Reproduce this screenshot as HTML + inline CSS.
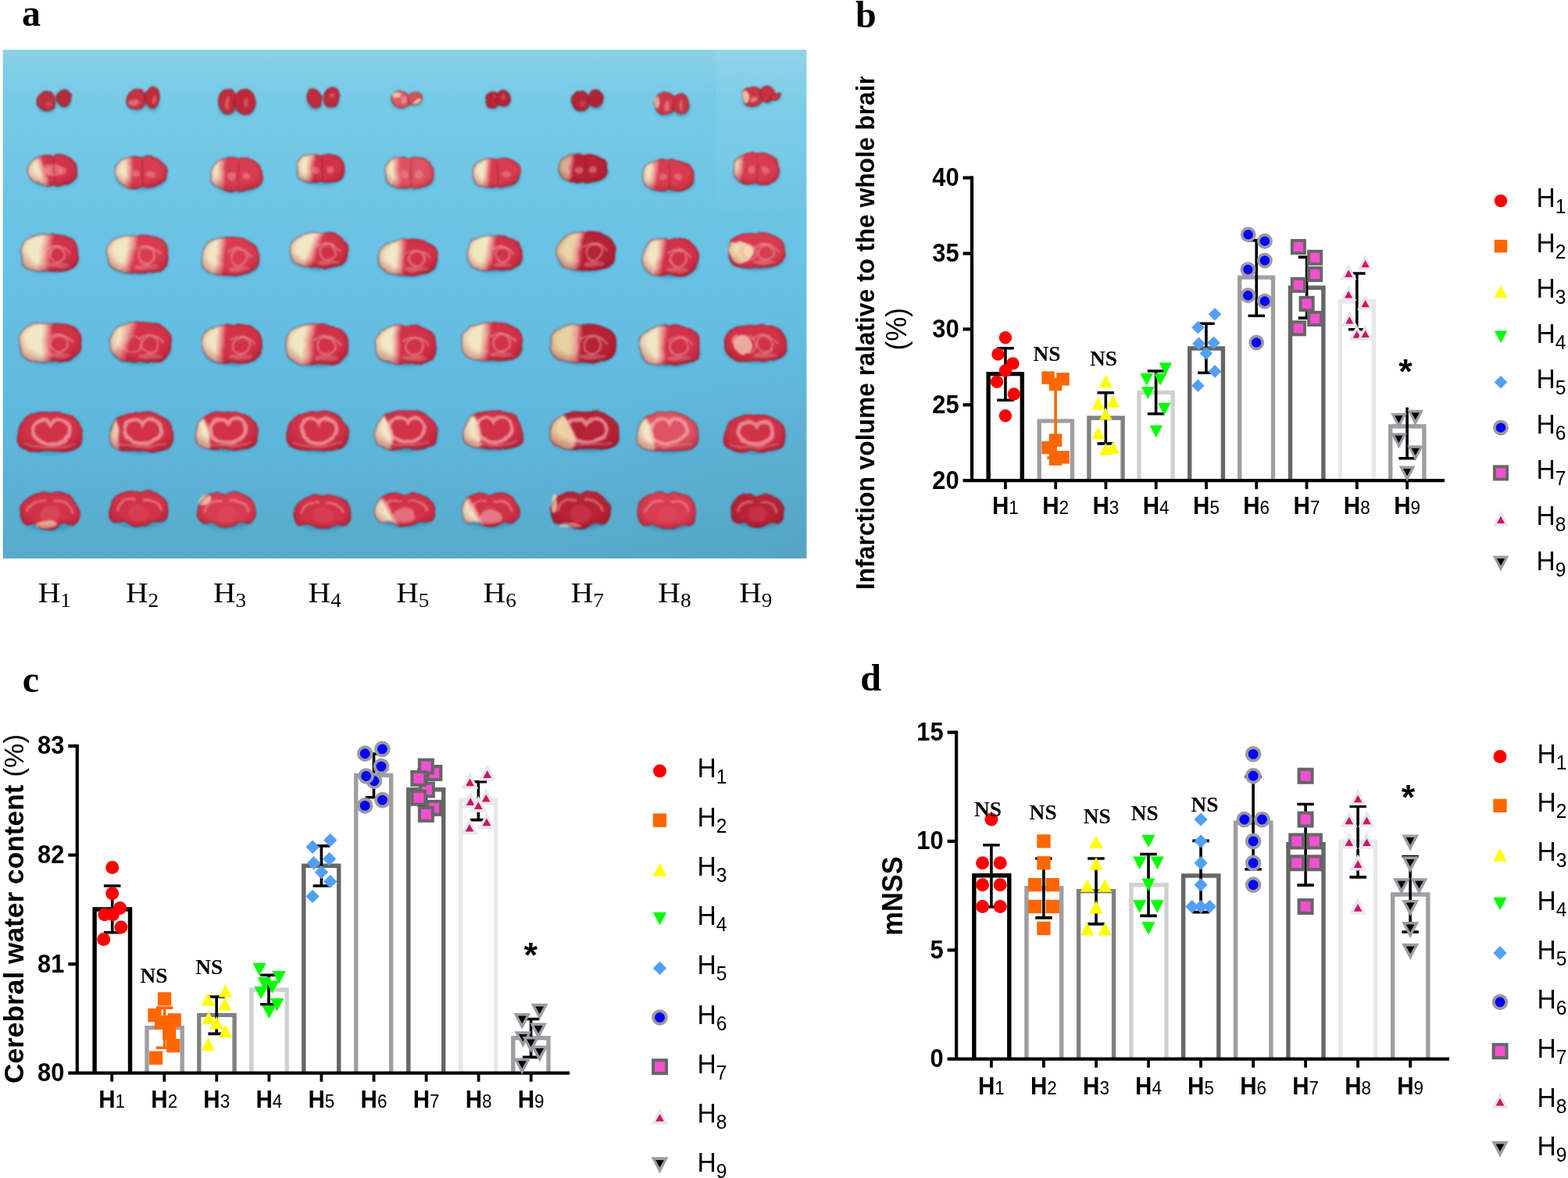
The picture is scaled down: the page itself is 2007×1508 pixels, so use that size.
<!DOCTYPE html>
<html lang="en"><head><meta charset="utf-8"><title>Figure</title>
<style>html,body{margin:0;padding:0;background:#fff}svg{display:block}</style></head>
<body>
<svg width="2007" height="1508" viewBox="0 0 2007 1508">
<rect width="2007" height="1508" fill="#fff"/>
<text transform="translate(28 32.8)" font-family="'Liberation Serif', serif" font-size="48" font-weight="bold" text-anchor="start">a</text>
<text transform="translate(1095.1 35.3)" font-family="'Liberation Serif', serif" font-size="48" font-weight="bold" text-anchor="start">b</text>
<text transform="translate(28.8 885.5)" font-family="'Liberation Serif', serif" font-size="48" font-weight="bold" text-anchor="start">c</text>
<text transform="translate(1101.3 884.2)" font-family="'Liberation Serif', serif" font-size="48" font-weight="bold" text-anchor="start">d</text>
<g id="panel-a">
<defs>
<linearGradient id="bgv" x1="0" y1="0" x2="0" y2="1"><stop offset="0" stop-color="#8bd2e7"/><stop offset="0.03" stop-color="#82cfe7"/><stop offset="0.10" stop-color="#75cae6"/><stop offset="0.32" stop-color="#6cc4e5"/><stop offset="0.62" stop-color="#63bce0"/><stop offset="0.85" stop-color="#5bb2d5"/><stop offset="1" stop-color="#57aaca"/></linearGradient>
<radialGradient id="bgh" gradientUnits="userSpaceOnUse" cx="1040" cy="720" r="330"><stop offset="0" stop-color="#4c93ad" stop-opacity="0.26"/><stop offset="1" stop-color="#4c93ad" stop-opacity="0"/></radialGradient>
<linearGradient id="bgs" x1="0" y1="0" x2="0" y2="1"><stop offset="0" stop-color="#ffffff" stop-opacity="0.07"/><stop offset="0.6" stop-color="#ffffff" stop-opacity="0.05"/><stop offset="1" stop-color="#ffffff" stop-opacity="0"/></linearGradient>
<radialGradient id="rim" cx="0.5" cy="0.42" r="0.62"><stop offset="0" stop-color="#8a0a1e" stop-opacity="0"/><stop offset="0.62" stop-color="#8a0a1e" stop-opacity="0"/><stop offset="1" stop-color="#8a0a1e" stop-opacity="0.38"/></radialGradient>
<filter id="b2" x="-20%" y="-20%" width="140%" height="140%"><feGaussianBlur stdDeviation="1.6"/></filter>
<filter id="bl" x="-2%" y="-2%" width="104%" height="104%" color-interpolation-filters="sRGB"><feTurbulence type="fractalNoise" baseFrequency="0.045" numOctaves="2" seed="11" result="n"/><feDisplacementMap in="SourceGraphic" in2="n" scale="5.5" xChannelSelector="R" yChannelSelector="G" result="d"/><feGaussianBlur in="d" stdDeviation="1.2"/></filter>
<filter id="bs" x="-5%" y="-5%" width="110%" height="110%"><feGaussianBlur stdDeviation="2.2"/></filter>
<clipPath id="pa"><rect x="3.7" y="63.7" width="1028.7" height="651.2"/></clipPath>
<linearGradient id="g1" gradientUnits="userSpaceOnUse" x1="36.8" y1="0" x2="98.7" y2="0" gradientTransform="rotate(-15 53.5 217.8)"><stop offset="0" stop-color="#f2e7c3"/><stop offset="0.180" stop-color="#f2e7c3"/><stop offset="0.270" stop-color="#eb9a94"/><stop offset="0.360" stop-color="#d13248"/><stop offset="1" stop-color="#d13248"/></linearGradient>
<linearGradient id="g2" gradientUnits="userSpaceOnUse" x1="148" y1="0" x2="212.6" y2="0" gradientTransform="rotate(2 164.8 220.6)"><stop offset="0" stop-color="#f2e7c3"/><stop offset="0.170" stop-color="#f2e7c3"/><stop offset="0.260" stop-color="#eb9a94"/><stop offset="0.350" stop-color="#d93c50"/><stop offset="1" stop-color="#d93c50"/></linearGradient>
<linearGradient id="g3" gradientUnits="userSpaceOnUse" x1="270" y1="0" x2="335.4" y2="0" gradientTransform="rotate(4 283.7 223.2)"><stop offset="0" stop-color="#f2e7c3"/><stop offset="0.120" stop-color="#f2e7c3"/><stop offset="0.210" stop-color="#eb9a94"/><stop offset="0.300" stop-color="#d93c50"/><stop offset="1" stop-color="#d93c50"/></linearGradient>
<linearGradient id="g4" gradientUnits="userSpaceOnUse" x1="380.4" y1="0" x2="440.8" y2="0" gradientTransform="rotate(8 397.9 215.8)"><stop offset="0" stop-color="#f2e7c3"/><stop offset="0.200" stop-color="#f2e7c3"/><stop offset="0.290" stop-color="#eb9a94"/><stop offset="0.380" stop-color="#d13248"/><stop offset="1" stop-color="#d13248"/></linearGradient>
<linearGradient id="g5" gradientUnits="userSpaceOnUse" x1="492.8" y1="0" x2="555.2" y2="0" gradientTransform="rotate(2 507.8 221)"><stop offset="0" stop-color="#f2e7c3"/><stop offset="0.150" stop-color="#f2e7c3"/><stop offset="0.240" stop-color="#eb9a94"/><stop offset="0.330" stop-color="#df5263"/><stop offset="1" stop-color="#df5263"/></linearGradient>
<linearGradient id="g6" gradientUnits="userSpaceOnUse" x1="605.1" y1="0" x2="665.6" y2="0" gradientTransform="rotate(6 623.9 221.4)"><stop offset="0" stop-color="#f2e7c3"/><stop offset="0.220" stop-color="#f2e7c3"/><stop offset="0.310" stop-color="#eb9a94"/><stop offset="0.400" stop-color="#d93c50"/><stop offset="1" stop-color="#d93c50"/></linearGradient>
<linearGradient id="g7" gradientUnits="userSpaceOnUse" x1="715" y1="0" x2="777.8" y2="0" gradientTransform="rotate(6 728.8 215.4)"><stop offset="0" stop-color="#cdb68c"/><stop offset="0.130" stop-color="#cdb68c"/><stop offset="0.220" stop-color="#eb9a94"/><stop offset="0.310" stop-color="#b62236"/><stop offset="1" stop-color="#b62236"/></linearGradient>
<linearGradient id="g8" gradientUnits="userSpaceOnUse" x1="822.6" y1="0" x2="888.1" y2="0" gradientTransform="rotate(10 837 224.6)"><stop offset="0" stop-color="#f2e7c3"/><stop offset="0.130" stop-color="#f2e7c3"/><stop offset="0.220" stop-color="#eb9a94"/><stop offset="0.310" stop-color="#d93c50"/><stop offset="1" stop-color="#d93c50"/></linearGradient>
<linearGradient id="g9" gradientUnits="userSpaceOnUse" x1="938.3" y1="0" x2="997.5" y2="0" gradientTransform="rotate(6 946.6 215.6)"><stop offset="0" stop-color="#f2e7c3"/><stop offset="0.050" stop-color="#f2e7c3"/><stop offset="0.140" stop-color="#eb9a94"/><stop offset="0.230" stop-color="#d93c50"/><stop offset="1" stop-color="#d93c50"/></linearGradient>
<linearGradient id="g10" gradientUnits="userSpaceOnUse" x1="26.9" y1="0" x2="99.6" y2="0" gradientTransform="rotate(8 58.2 323.4)"><stop offset="0" stop-color="#f2e7c3"/><stop offset="0.310" stop-color="#f2e7c3"/><stop offset="0.430" stop-color="#eb9a94"/><stop offset="0.550" stop-color="#d13248"/><stop offset="1" stop-color="#d13248"/></linearGradient>
<linearGradient id="g11" gradientUnits="userSpaceOnUse" x1="137.2" y1="0" x2="215.2" y2="0" gradientTransform="rotate(12 166.8 325)"><stop offset="0" stop-color="#f2e7c3"/><stop offset="0.290" stop-color="#f2e7c3"/><stop offset="0.380" stop-color="#eb9a94"/><stop offset="0.470" stop-color="#d93c50"/><stop offset="1" stop-color="#d93c50"/></linearGradient>
<linearGradient id="g12" gradientUnits="userSpaceOnUse" x1="258.3" y1="0" x2="331.8" y2="0" gradientTransform="rotate(8 281.8 328.1)"><stop offset="0" stop-color="#f2e7c3"/><stop offset="0.230" stop-color="#f2e7c3"/><stop offset="0.320" stop-color="#eb9a94"/><stop offset="0.410" stop-color="#d93c50"/><stop offset="1" stop-color="#d93c50"/></linearGradient>
<linearGradient id="g13" gradientUnits="userSpaceOnUse" x1="372.3" y1="0" x2="444.9" y2="0" gradientTransform="rotate(20 401.3 320.4)"><stop offset="0" stop-color="#f2e7c3"/><stop offset="0.310" stop-color="#f2e7c3"/><stop offset="0.400" stop-color="#eb9a94"/><stop offset="0.490" stop-color="#d13248"/><stop offset="1" stop-color="#d13248"/></linearGradient>
<linearGradient id="g14" gradientUnits="userSpaceOnUse" x1="484.9" y1="0" x2="559.7" y2="0" gradientTransform="rotate(2 513.3 329.5)"><stop offset="0" stop-color="#f2e7c3"/><stop offset="0.290" stop-color="#f2e7c3"/><stop offset="0.380" stop-color="#eb9a94"/><stop offset="0.470" stop-color="#d13248"/><stop offset="1" stop-color="#d13248"/></linearGradient>
<linearGradient id="g15" gradientUnits="userSpaceOnUse" x1="598.3" y1="0" x2="668.2" y2="0" gradientTransform="rotate(12 626.3 324.1)"><stop offset="0" stop-color="#f2e7c3"/><stop offset="0.310" stop-color="#f2e7c3"/><stop offset="0.400" stop-color="#eb9a94"/><stop offset="0.490" stop-color="#d13248"/><stop offset="1" stop-color="#d13248"/></linearGradient>
<linearGradient id="g16" gradientUnits="userSpaceOnUse" x1="713.2" y1="0" x2="786.2" y2="0" gradientTransform="rotate(10 739.5 321.5)"><stop offset="0" stop-color="#e8d4a4"/><stop offset="0.270" stop-color="#e8d4a4"/><stop offset="0.360" stop-color="#eb9a94"/><stop offset="0.450" stop-color="#b62236"/><stop offset="1" stop-color="#b62236"/></linearGradient>
<linearGradient id="g17" gradientUnits="userSpaceOnUse" x1="822.1" y1="0" x2="893.5" y2="0" gradientTransform="rotate(8 844.9 329.2)"><stop offset="0" stop-color="#f2e7c3"/><stop offset="0.230" stop-color="#f2e7c3"/><stop offset="0.320" stop-color="#eb9a94"/><stop offset="0.410" stop-color="#d13248"/><stop offset="1" stop-color="#d13248"/></linearGradient>
<linearGradient id="g18" gradientUnits="userSpaceOnUse" x1="25.1" y1="0" x2="103.1" y2="0" gradientTransform="rotate(2 60.2 438.2)"><stop offset="0" stop-color="#f2e7c3"/><stop offset="0.360" stop-color="#f2e7c3"/><stop offset="0.450" stop-color="#eb9a94"/><stop offset="0.540" stop-color="#d13248"/><stop offset="1" stop-color="#d13248"/></linearGradient>
<linearGradient id="g19" gradientUnits="userSpaceOnUse" x1="140.8" y1="0" x2="218.8" y2="0" gradientTransform="rotate(18 159.5 438.5)"><stop offset="0" stop-color="#f2e7c3"/><stop offset="0.120" stop-color="#f2e7c3"/><stop offset="0.240" stop-color="#eb9a94"/><stop offset="0.360" stop-color="#d13248"/><stop offset="1" stop-color="#d13248"/></linearGradient>
<linearGradient id="g20" gradientUnits="userSpaceOnUse" x1="259.2" y1="0" x2="335.4" y2="0" gradientTransform="rotate(4 282.1 440)"><stop offset="0" stop-color="#f2e7c3"/><stop offset="0.210" stop-color="#f2e7c3"/><stop offset="0.300" stop-color="#eb9a94"/><stop offset="0.390" stop-color="#d13248"/><stop offset="1" stop-color="#d13248"/></linearGradient>
<linearGradient id="g21" gradientUnits="userSpaceOnUse" x1="365.1" y1="0" x2="445.8" y2="0" gradientTransform="rotate(8 395.8 441.2)"><stop offset="0" stop-color="#f2e7c3"/><stop offset="0.290" stop-color="#f2e7c3"/><stop offset="0.380" stop-color="#eb9a94"/><stop offset="0.470" stop-color="#d13248"/><stop offset="1" stop-color="#d13248"/></linearGradient>
<linearGradient id="g22" gradientUnits="userSpaceOnUse" x1="480.8" y1="0" x2="557.9" y2="0" gradientTransform="rotate(2 507 441.1)"><stop offset="0" stop-color="#f2e7c3"/><stop offset="0.250" stop-color="#f2e7c3"/><stop offset="0.340" stop-color="#eb9a94"/><stop offset="0.430" stop-color="#d13248"/><stop offset="1" stop-color="#d13248"/></linearGradient>
<linearGradient id="g23" gradientUnits="userSpaceOnUse" x1="592" y1="0" x2="668.6" y2="0" gradientTransform="rotate(6 621.1 437.3)"><stop offset="0" stop-color="#f2e7c3"/><stop offset="0.290" stop-color="#f2e7c3"/><stop offset="0.380" stop-color="#eb9a94"/><stop offset="0.470" stop-color="#d13248"/><stop offset="1" stop-color="#d13248"/></linearGradient>
<linearGradient id="g24" gradientUnits="userSpaceOnUse" x1="704.2" y1="0" x2="787.6" y2="0" gradientTransform="rotate(4 737.6 439.6)"><stop offset="0" stop-color="#e6d2a2"/><stop offset="0.310" stop-color="#e6d2a2"/><stop offset="0.400" stop-color="#eb9a94"/><stop offset="0.490" stop-color="#b62236"/><stop offset="1" stop-color="#b62236"/></linearGradient>
<linearGradient id="g25" gradientUnits="userSpaceOnUse" x1="819" y1="0" x2="896.1" y2="0" gradientTransform="rotate(2 846.8 441.8)"><stop offset="0" stop-color="#f2e7c3"/><stop offset="0.270" stop-color="#f2e7c3"/><stop offset="0.360" stop-color="#eb9a94"/><stop offset="0.450" stop-color="#d13248"/><stop offset="1" stop-color="#d13248"/></linearGradient>
<clipPath id="c26"><path d="M221.5 557.9L221.3 563.4L220.9 566.2L220.1 568.4L219 570.3L217.6 572L215.9 573.4L213.9 574.6L211.5 575.6L208.7 576.5L205.5 577.2L201.8 577.8L197.4 578.2L191.9 578.1L181.2 576.9L170.4 578.1L164.9 578.2L160.5 577.8L156.8 577.2L153.6 576.5L150.8 575.6L148.4 574.6L146.4 573.4L144.7 572L143.3 570.3L142.2 568.4L141.4 566.2L141 563.4L140.8 557.9L141 553.5L141.7 549.8L142.8 546.4L144.4 543.2L146.3 540.3L148.7 537.6L151.5 535.2L154.6 533.1L158.1 531.2L161.9 529.7L166.1 528.6L170.5 528L175.4 528.1L181.1 528.5L186.9 528.1L191.8 528L196.2 528.6L200.4 529.7L204.2 531.2L207.7 533.1L210.8 535.2L213.6 537.6L216 540.3L217.9 543.2L219.5 546.4L220.6 549.8L221.3 553.5Z"/></clipPath>
<clipPath id="c27"><path d="M330 556.1L329.8 561.3L329.4 564L328.6 566.2L327.6 568L326.2 569.5L324.5 570.9L322.4 572.1L320.1 573.1L317.3 573.9L314.2 574.6L310.5 575.1L306.1 575.5L300.7 575.5L290.1 574.2L279.5 575.5L274.1 575.5L269.7 575.1L266 574.6L262.9 573.9L260.1 573.1L257.8 572.1L255.7 570.9L254 569.5L252.6 568L251.6 566.2L250.8 564L250.4 561.3L250.2 556.1L250.4 551.9L251.1 548.3L252.2 545L253.7 542L255.7 539.2L258 536.6L260.8 534.3L263.9 532.3L267.3 530.6L271.1 529.1L275.2 528L279.6 527.4L284.4 527.5L290.1 528L295.8 527.5L300.6 527.4L305 528L309.1 529.1L312.9 530.6L316.3 532.3L319.4 534.3L322.2 536.6L324.5 539.2L326.5 542L328 545L329.1 548.3L329.8 551.9Z"/></clipPath>
<clipPath id="c28"><path d="M558.8 555.4L558.6 560.8L558.2 563.6L557.4 565.8L556.4 567.7L555 569.3L553.3 570.7L551.3 571.9L549 573L546.3 573.8L543.1 574.5L539.5 575.1L535.2 575.5L529.8 575.4L519.4 574.2L508.9 575.4L503.5 575.5L499.2 575.1L495.6 574.5L492.4 573.8L489.7 573L487.4 571.9L485.4 570.7L483.7 569.3L482.3 567.7L481.3 565.8L480.5 563.6L480.1 560.8L479.9 555.4L480.1 551L480.8 547.3L481.9 543.9L483.4 540.8L485.3 537.9L487.7 535.2L490.4 532.8L493.4 530.7L496.8 528.9L500.6 527.4L504.6 526.3L509 525.7L513.7 525.8L519.3 526.2L525 525.8L529.7 525.7L534.1 526.3L538.1 527.4L541.9 528.9L545.3 530.7L548.3 532.8L551 535.2L553.4 537.9L555.3 540.8L556.8 543.9L557.9 547.3L558.6 551Z"/></clipPath>
<clipPath id="c29"><path d="M669.1 554.8L669 560.1L668.5 562.9L667.8 565.1L666.8 566.9L665.4 568.5L663.8 569.9L661.9 571.1L659.6 572.1L657 573L654 573.7L650.5 574.2L646.3 574.6L641.1 574.5L631 573.3L620.9 574.5L615.7 574.6L611.5 574.2L608 573.7L605 573L602.4 572.1L600.1 571.1L598.2 569.9L596.6 568.5L595.2 566.9L594.2 565.1L593.5 562.9L593 560.1L592.9 554.8L593.1 550.5L593.8 546.9L594.8 543.6L596.3 540.5L598.1 537.6L600.4 535L603 532.7L606 530.6L609.3 528.8L612.9 527.4L616.8 526.3L621 525.6L625.6 525.8L631 526.2L636.4 525.8L641 525.6L645.2 526.3L649.1 527.4L652.7 528.8L656 530.6L659 532.7L661.6 535L663.9 537.6L665.7 540.5L667.2 543.6L668.2 546.9L668.9 550.5Z"/></clipPath>
<clipPath id="c30"><path d="M793 555.9L792.8 561.2L792.3 563.9L791.5 566.1L790.3 567.9L788.8 569.5L786.9 570.8L784.7 572L782.1 573L779 573.9L775.5 574.6L771.5 575.1L766.7 575.5L760.7 575.5L749.1 574.2L737.4 575.5L731.4 575.5L726.6 575.1L722.6 574.6L719.1 573.9L716 573L713.4 572L711.2 570.8L709.3 569.5L707.8 567.9L706.6 566.1L705.8 563.9L705.3 561.2L705.1 555.9L705.3 551.6L706.1 548L707.3 544.7L709 541.7L711.1 538.8L713.7 536.2L716.8 533.9L720.2 531.9L724 530.1L728.1 528.7L732.6 527.5L737.5 526.9L742.8 527.1L749 527.5L755.3 527.1L760.6 526.9L765.5 527.5L770 528.7L774.1 530.1L777.9 531.9L781.3 533.9L784.4 536.2L787 538.8L789.1 541.7L790.8 544.7L792 548L792.8 551.6Z"/></clipPath>
<clipPath id="c31"><path d="M893.8 557L893.6 562.4L893.2 565.2L892.4 567.4L891.4 569.2L890 570.8L888.3 572.2L886.3 573.5L884 574.5L881.3 575.4L878.1 576.1L874.5 576.6L870.2 577L864.8 576.9L854.4 575.7L843.9 576.9L838.5 577L834.2 576.6L830.6 576.1L827.4 575.4L824.7 574.5L822.4 573.5L820.4 572.2L818.7 570.8L817.3 569.2L816.3 567.4L815.5 565.2L815.1 562.4L814.9 557L815.1 552.6L815.8 549L816.9 545.6L818.4 542.5L820.3 539.6L822.7 537L825.4 534.6L828.4 532.5L831.8 530.7L835.6 529.2L839.6 528.1L844 527.4L848.7 527.6L854.3 528L860 527.6L864.7 527.4L869.1 528.1L873.1 529.2L876.9 530.7L880.3 532.5L883.3 534.6L886 537L888.4 539.6L890.3 542.5L891.8 545.6L892.9 549L893.6 552.6Z"/></clipPath>
<linearGradient id="g32" gradientUnits="userSpaceOnUse" x1="479.5" y1="0" x2="557" y2="0" gradientTransform="rotate(-30 491.9 643.1)"><stop offset="0" stop-color="#f2e7c3"/><stop offset="0.110" stop-color="#f2e7c3"/><stop offset="0.160" stop-color="#eb9a94"/><stop offset="0.210" stop-color="#d13248"/><stop offset="1" stop-color="#d13248"/></linearGradient>
<linearGradient id="g33" gradientUnits="userSpaceOnUse" x1="591.1" y1="0" x2="664.3" y2="0" gradientTransform="rotate(-30 601.3 643.3)"><stop offset="0" stop-color="#f2e7c3"/><stop offset="0.090" stop-color="#f2e7c3"/><stop offset="0.140" stop-color="#eb9a94"/><stop offset="0.190" stop-color="#d13248"/><stop offset="1" stop-color="#d13248"/></linearGradient>
</defs>
<rect x="3.7" y="63.7" width="1028.7" height="651.2" fill="url(#bgv)"/>
<rect x="3.7" y="63.7" width="1028.7" height="651.2" fill="url(#bgh)"/>
<rect x="916" y="63.7" width="116.4" height="215" fill="url(#bgs)"/>
<g clip-path="url(#pa)">
<g filter="url(#bs)" fill="#2f7fa3" opacity="0.5"><ellipse cx="59.7" cy="135" rx="11.7" ry="9.4"/><ellipse cx="82.3" cy="130.7" rx="8.5" ry="8.2"/><ellipse cx="175" cy="132.8" rx="11.7" ry="9.8"/><ellipse cx="195.5" cy="131.8" rx="8.5" ry="10.5"/><ellipse cx="291.5" cy="136.6" rx="11.9" ry="11.4"/><ellipse cx="314" cy="137" rx="12.3" ry="11.4"/><ellipse cx="403.1" cy="131.5" rx="9.3" ry="9.4"/><ellipse cx="424.7" cy="129.9" rx="9.1" ry="9.4"/><ellipse cx="513.7" cy="131.6" rx="11.7" ry="7.9"/><ellipse cx="532" cy="129.5" rx="8.8" ry="5.8"/><ellipse cx="631.5" cy="132.7" rx="9" ry="7.9"/><ellipse cx="645" cy="130.1" rx="8.5" ry="7.7"/><ellipse cx="743.7" cy="135.2" rx="10.4" ry="9.4"/><ellipse cx="763" cy="131.8" rx="8.9" ry="8.9"/><ellipse cx="852" cy="138.6" rx="12.9" ry="10.9"/><ellipse cx="872.3" cy="139.2" rx="10.1" ry="10.4"/><ellipse cx="963.5" cy="129.3" rx="12.8" ry="9.4"/><ellipse cx="982.5" cy="125" rx="9.5" ry="7.8"/><ellipse cx="993.5" cy="125.3" rx="6.2" ry="3"/><ellipse cx="68.8" cy="225.8" rx="30.3" ry="14.2"/><ellipse cx="181.3" cy="228.8" rx="31.7" ry="14.9"/><ellipse cx="303.7" cy="231.9" rx="32" ry="15.5"/><ellipse cx="411.6" cy="223.4" rx="29.6" ry="13.8"/><ellipse cx="525" cy="229.1" rx="30.6" ry="14.5"/><ellipse cx="636.4" cy="229" rx="29.6" ry="13.6"/><ellipse cx="747.4" cy="222.7" rx="30.8" ry="13.1"/><ellipse cx="856.4" cy="232.7" rx="32.1" ry="14.5"/><ellipse cx="968.9" cy="223.7" rx="29" ry="14.5"/><ellipse cx="64.2" cy="332.8" rx="35.6" ry="17"/><ellipse cx="177.2" cy="334.9" rx="38.2" ry="17.7"/><ellipse cx="296.1" cy="337.8" rx="36" ry="17.5"/><ellipse cx="409.6" cy="329.6" rx="35.6" ry="16.6"/><ellipse cx="523.3" cy="338.7" rx="36.7" ry="16.5"/><ellipse cx="634.2" cy="333.3" rx="34.3" ry="16.5"/><ellipse cx="750.7" cy="331.3" rx="35.8" ry="17.7"/><ellipse cx="858.8" cy="338.9" rx="35" ry="17.3"/><ellipse cx="969.5" cy="330" rx="35.1" ry="16.1"/><ellipse cx="65.1" cy="448.4" rx="38.2" ry="18.3"/><ellipse cx="180.8" cy="448.9" rx="38.2" ry="18.7"/><ellipse cx="298.3" cy="450.2" rx="37.3" ry="18.3"/><ellipse cx="406.5" cy="451.6" rx="39.5" ry="18.7"/><ellipse cx="520.4" cy="451.2" rx="37.8" ry="18.1"/><ellipse cx="631.3" cy="447.1" rx="37.5" ry="17.6"/><ellipse cx="746.9" cy="449.5" rx="40.9" ry="18"/><ellipse cx="858.5" cy="452" rx="37.8" ry="18.3"/><ellipse cx="968" cy="448.4" rx="39" ry="17.1"/><ellipse cx="65" cy="562.9" rx="40.1" ry="18.7"/><ellipse cx="182.2" cy="563" rx="39.5" ry="18.5"/><ellipse cx="291.1" cy="561" rx="39.1" ry="17.7"/><ellipse cx="407.8" cy="561.5" rx="38.2" ry="18.3"/><ellipse cx="520.3" cy="560.5" rx="38.7" ry="18.4"/><ellipse cx="632" cy="559.8" rx="37.3" ry="18.1"/><ellipse cx="750" cy="560.9" rx="43.1" ry="17.9"/><ellipse cx="855.3" cy="562.1" rx="38.7" ry="18.3"/><ellipse cx="966.8" cy="564" rx="37.8" ry="17.4"/><ellipse cx="64.7" cy="665.8" rx="33.9" ry="13.8"/><ellipse cx="178.8" cy="662.8" rx="34.4" ry="13.1"/><ellipse cx="290.7" cy="664.3" rx="33.1" ry="13.5"/><ellipse cx="413.9" cy="666.4" rx="33.3" ry="12.7"/><ellipse cx="519.2" cy="663.3" rx="34.9" ry="12.6"/><ellipse cx="628.7" cy="664" rx="32.9" ry="12.8"/><ellipse cx="743.8" cy="664.2" rx="34.7" ry="13.6"/><ellipse cx="854.6" cy="665.8" rx="33.9" ry="13.8"/><ellipse cx="970.2" cy="664.4" rx="31.1" ry="12.3"/></g>
<g filter="url(#bl)">
<ellipse cx="59.2" cy="129.3" rx="12.3" ry="12.6" fill="#b8303f"/><ellipse cx="59.2" cy="129.3" rx="12.3" ry="12.6" fill="none" stroke="#701020" stroke-width="2" opacity="0.35"/><ellipse cx="81.8" cy="125.7" rx="9" ry="11" fill="#b22c3a" transform="rotate(8 81.8 125.7)"/><ellipse cx="81.8" cy="125.7" rx="9" ry="11" fill="none" stroke="#701020" stroke-width="2" opacity="0.35" transform="rotate(8 81.8 125.7)"/><ellipse cx="62" cy="133" rx="5" ry="4" fill="#d85a60" opacity="0.5"/>
<ellipse cx="174.5" cy="127" rx="12.3" ry="13" fill="#c63244" transform="rotate(-8 174.5 127)"/><ellipse cx="174.5" cy="127" rx="12.3" ry="13" fill="none" stroke="#701020" stroke-width="2" opacity="0.35" transform="rotate(-8 174.5 127)"/><ellipse cx="195" cy="125.5" rx="9" ry="14" fill="#c42a3a" transform="rotate(12 195 125.5)"/><ellipse cx="195" cy="125.5" rx="9" ry="14" fill="none" stroke="#701020" stroke-width="2" opacity="0.35" transform="rotate(12 195 125.5)"/><ellipse cx="172" cy="130.5" rx="7" ry="4" fill="#f08c90" opacity="0.6"/><ellipse cx="197" cy="128" rx="3" ry="6" fill="#f08c90" opacity="0.5" transform="rotate(12 197 128)"/>
<ellipse cx="291" cy="129.8" rx="12.5" ry="15.2" fill="#c22c3c"/><ellipse cx="291" cy="129.8" rx="12.5" ry="15.2" fill="none" stroke="#701020" stroke-width="2" opacity="0.35"/><ellipse cx="313.5" cy="130.2" rx="13" ry="15.2" fill="#c0283a"/><ellipse cx="313.5" cy="130.2" rx="13" ry="15.2" fill="none" stroke="#701020" stroke-width="2" opacity="0.35"/><ellipse cx="291" cy="132" rx="3" ry="7" fill="#ee8890" opacity="0.5"/><ellipse cx="315" cy="131" rx="3" ry="6" fill="#ee8890" opacity="0.4"/>
<ellipse cx="402.6" cy="125.8" rx="9.8" ry="12.6" fill="#c22c3c" transform="rotate(-12 402.6 125.8)"/><ellipse cx="402.6" cy="125.8" rx="9.8" ry="12.6" fill="none" stroke="#701020" stroke-width="2" opacity="0.35" transform="rotate(-12 402.6 125.8)"/><ellipse cx="424.2" cy="124.2" rx="9.6" ry="12.6" fill="#bf2a3a" transform="rotate(10 424.2 124.2)"/><ellipse cx="424.2" cy="124.2" rx="9.6" ry="12.6" fill="none" stroke="#701020" stroke-width="2" opacity="0.35" transform="rotate(10 424.2 124.2)"/><ellipse cx="424" cy="122" rx="3" ry="3" fill="#e88088" opacity="0.5"/>
<ellipse cx="513.2" cy="126.8" rx="12.3" ry="10.6" fill="#dc5a64" transform="rotate(10 513.2 126.8)"/><ellipse cx="513.2" cy="126.8" rx="12.3" ry="10.6" fill="none" stroke="#701020" stroke-width="2" opacity="0.35" transform="rotate(10 513.2 126.8)"/><ellipse cx="531.5" cy="126" rx="9.3" ry="7.8" fill="#d8505c" transform="rotate(-20 531.5 126)"/><ellipse cx="531.5" cy="126" rx="9.3" ry="7.8" fill="none" stroke="#701020" stroke-width="2" opacity="0.35" transform="rotate(-20 531.5 126)"/><ellipse cx="508" cy="122" rx="6" ry="4" fill="#f2d8b0" opacity="0.8"/><ellipse cx="534" cy="130" rx="6" ry="2.5" fill="#f2d8b0" opacity="0.8" transform="rotate(-25 534 130)"/><ellipse cx="517" cy="128" rx="4" ry="5" fill="#f4a0a4" opacity="0.6"/>
<ellipse cx="631" cy="128" rx="9.5" ry="10.5" fill="#b82433"/><ellipse cx="631" cy="128" rx="9.5" ry="10.5" fill="none" stroke="#701020" stroke-width="2" opacity="0.35"/><ellipse cx="644.5" cy="125.5" rx="9" ry="10.3" fill="#b62232"/><ellipse cx="644.5" cy="125.5" rx="9" ry="10.3" fill="none" stroke="#701020" stroke-width="2" opacity="0.35"/><ellipse cx="645" cy="124" rx="2.5" ry="4" fill="#e07078" opacity="0.5"/><ellipse cx="634" cy="124" rx="2.5" ry="3" fill="#e07078" opacity="0.4"/>
<ellipse cx="743.2" cy="129.5" rx="11" ry="12.6" fill="#b22636"/><ellipse cx="743.2" cy="129.5" rx="11" ry="12.6" fill="none" stroke="#701020" stroke-width="2" opacity="0.35"/><ellipse cx="762.5" cy="126.5" rx="9.4" ry="11.8" fill="#ae2434"/><ellipse cx="762.5" cy="126.5" rx="9.4" ry="11.8" fill="none" stroke="#701020" stroke-width="2" opacity="0.35"/><ellipse cx="745" cy="133" rx="4" ry="4" fill="#d86068" opacity="0.4"/>
<ellipse cx="851.5" cy="132" rx="13.6" ry="14.6" fill="#cb3848"/><ellipse cx="851.5" cy="132" rx="13.6" ry="14.6" fill="none" stroke="#701020" stroke-width="2" opacity="0.35"/><ellipse cx="871.8" cy="133" rx="10.6" ry="13.8" fill="#c73444"/><ellipse cx="871.8" cy="133" rx="10.6" ry="13.8" fill="none" stroke="#701020" stroke-width="2" opacity="0.35"/><ellipse cx="841" cy="131" rx="3.5" ry="8" fill="#f0d0a8" opacity="0.7"/><ellipse cx="853" cy="136" rx="3" ry="7" fill="#f09098" opacity="0.6"/><ellipse cx="872" cy="136" rx="2.6" ry="7" fill="#f09098" opacity="0.5"/>
<ellipse cx="963" cy="123.6" rx="13.5" ry="12.6" fill="#c83646"/><ellipse cx="963" cy="123.6" rx="13.5" ry="12.6" fill="none" stroke="#701020" stroke-width="2" opacity="0.35"/><ellipse cx="982" cy="120.3" rx="10" ry="10.4" fill="#c83040"/><ellipse cx="982" cy="120.3" rx="10" ry="10.4" fill="none" stroke="#701020" stroke-width="2" opacity="0.35"/><ellipse cx="993" cy="123.5" rx="6.5" ry="4" fill="#cc3444" transform="rotate(-25 993 123.5)"/><ellipse cx="993" cy="123.5" rx="6.5" ry="4" fill="none" stroke="#701020" stroke-width="2" opacity="0.35" transform="rotate(-25 993 123.5)"/><ellipse cx="954" cy="124" rx="4.5" ry="8" fill="#f0dcb0" opacity="0.8"/><ellipse cx="964" cy="128" rx="5" ry="3" fill="#f4b0b0" opacity="0.6" transform="rotate(-30 964 128)"/>
<path d="M98.7 217.8L98.6 221.5L98.1 224.1L97.4 226.3L96.3 228.2L95 230L93.4 231.6L91.5 233L89.3 234.2L86.8 235.2L84 236.1L80.9 236.7L77.5 237.2L73.5 237.4L67.8 235.6L62 237.4L58 237.2L54.6 236.7L51.5 236.1L48.7 235.2L46.2 234.2L44 233L42.1 231.6L40.5 230L39.2 228.2L38.1 226.3L37.4 224.1L36.9 221.5L36.8 217.9L37 214.4L37.4 211.9L38.2 209.7L39.3 207.7L40.7 205.9L42.3 204.3L44.3 202.9L46.5 201.6L49.1 200.6L51.9 199.7L55 199L58.4 198.5L62.4 198.3L67.7 199.9L73.1 198.3L77.1 198.5L80.5 199L83.6 199.7L86.4 200.6L89 201.6L91.2 202.9L93.2 204.3L94.8 205.9L96.2 207.7L97.3 209.7L98.1 211.9L98.5 214.4Z" fill="url(#g1)"/><ellipse cx="67.8" cy="217.8" rx="12.4" ry="7.9" fill="#ee8c96" opacity="0.6"/><path d="M69.6 202.8V233.7" stroke="#8e1626" stroke-width="1.3" opacity="0.55" fill="none"/><ellipse cx="80.1" cy="219.8" rx="5.6" ry="4.7" fill="#f0909c" opacity="0.5"/><ellipse cx="61.6" cy="219.8" rx="5" ry="4.7" fill="#f0909c" opacity="0.5"/><path d="M98.7 217.8L98.6 221.5L98.1 224.1L97.4 226.3L96.3 228.2L95 230L93.4 231.6L91.5 233L89.3 234.2L86.8 235.2L84 236.1L80.9 236.7L77.5 237.2L73.5 237.4L67.8 235.6L62 237.4L58 237.2L54.6 236.7L51.5 236.1L48.7 235.2L46.2 234.2L44 233L42.1 231.6L40.5 230L39.2 228.2L38.1 226.3L37.4 224.1L36.9 221.5L36.8 217.9L37 214.4L37.4 211.9L38.2 209.7L39.3 207.7L40.7 205.9L42.3 204.3L44.3 202.9L46.5 201.6L49.1 200.6L51.9 199.7L55 199L58.4 198.5L62.4 198.3L67.7 199.9L73.1 198.3L77.1 198.5L80.5 199L83.6 199.7L86.4 200.6L89 201.6L91.2 202.9L93.2 204.3L94.8 205.9L96.2 207.7L97.3 209.7L98.1 211.9L98.5 214.4Z" fill="url(#rim)"/><path d="M98.7 217.8L98.6 221.5L98.1 224.1L97.4 226.3L96.3 228.2L95 230L93.4 231.6L91.5 233L89.3 234.2L86.8 235.2L84 236.1L80.9 236.7L77.5 237.2L73.5 237.4L67.8 235.6L62 237.4L58 237.2L54.6 236.7L51.5 236.1L48.7 235.2L46.2 234.2L44 233L42.1 231.6L40.5 230L39.2 228.2L38.1 226.3L37.4 224.1L36.9 221.5L36.8 217.9L37 214.4L37.4 211.9L38.2 209.7L39.3 207.7L40.7 205.9L42.3 204.3L44.3 202.9L46.5 201.6L49.1 200.6L51.9 199.7L55 199L58.4 198.5L62.4 198.3L67.7 199.9L73.1 198.3L77.1 198.5L80.5 199L83.6 199.7L86.4 200.6L89 201.6L91.2 202.9L93.2 204.3L94.8 205.9L96.2 207.7L97.3 209.7L98.1 211.9L98.5 214.4Z" fill="none" stroke="#7a1020" stroke-width="2.2" opacity="0.3"/>
<path d="M212.6 220.6L212.4 224.4L212 227L211.2 229.4L210.1 231.4L208.7 233.3L207 234.9L205 236.4L202.8 237.6L200.2 238.7L197.3 239.6L194.1 240.3L190.5 240.8L186.3 241L180.3 239.1L174.3 241L170.1 240.8L166.5 240.3L163.3 239.6L160.4 238.7L157.8 237.6L155.6 236.4L153.6 234.9L151.9 233.3L150.5 231.4L149.4 229.4L148.6 227L148.2 224.4L148 220.6L148.2 217L148.6 214.3L149.5 212L150.6 210L152 208.1L153.8 206.4L155.8 204.9L158.2 203.6L160.8 202.5L163.7 201.6L167 200.8L170.6 200.3L174.7 200.1L180.3 201.8L185.9 200.1L190 200.3L193.6 200.8L196.9 201.6L199.8 202.5L202.4 203.6L204.8 204.9L206.8 206.4L208.6 208.1L210 210L211.1 212L212 214.3L212.4 217Z" fill="url(#g2)"/><path d="M182.2 204.9V237.1" stroke="#8e1626" stroke-width="1.3" opacity="0.55" fill="none"/><ellipse cx="193.2" cy="222.6" rx="5.8" ry="5" fill="#f0909c" opacity="0.5"/><ellipse cx="173.8" cy="222.6" rx="5.2" ry="5" fill="#f0909c" opacity="0.5"/><path d="M212.6 220.6L212.4 224.4L212 227L211.2 229.4L210.1 231.4L208.7 233.3L207 234.9L205 236.4L202.8 237.6L200.2 238.7L197.3 239.6L194.1 240.3L190.5 240.8L186.3 241L180.3 239.1L174.3 241L170.1 240.8L166.5 240.3L163.3 239.6L160.4 238.7L157.8 237.6L155.6 236.4L153.6 234.9L151.9 233.3L150.5 231.4L149.4 229.4L148.6 227L148.2 224.4L148 220.6L148.2 217L148.6 214.3L149.5 212L150.6 210L152 208.1L153.8 206.4L155.8 204.9L158.2 203.6L160.8 202.5L163.7 201.6L167 200.8L170.6 200.3L174.7 200.1L180.3 201.8L185.9 200.1L190 200.3L193.6 200.8L196.9 201.6L199.8 202.5L202.4 203.6L204.8 204.9L206.8 206.4L208.6 208.1L210 210L211.1 212L212 214.3L212.4 217Z" fill="url(#rim)"/><path d="M212.6 220.6L212.4 224.4L212 227L211.2 229.4L210.1 231.4L208.7 233.3L207 234.9L205 236.4L202.8 237.6L200.2 238.7L197.3 239.6L194.1 240.3L190.5 240.8L186.3 241L180.3 239.1L174.3 241L170.1 240.8L166.5 240.3L163.3 239.6L160.4 238.7L157.8 237.6L155.6 236.4L153.6 234.9L151.9 233.3L150.5 231.4L149.4 229.4L148.6 227L148.2 224.4L148 220.6L148.2 217L148.6 214.3L149.5 212L150.6 210L152 208.1L153.8 206.4L155.8 204.9L158.2 203.6L160.8 202.5L163.7 201.6L167 200.8L170.6 200.3L174.7 200.1L180.3 201.8L185.9 200.1L190 200.3L193.6 200.8L196.9 201.6L199.8 202.5L202.4 203.6L204.8 204.9L206.8 206.4L208.6 208.1L210 210L211.1 212L212 214.3L212.4 217Z" fill="none" stroke="#7a1020" stroke-width="2.2" opacity="0.3"/>
<path d="M335.4 223.2L335.2 227.2L334.8 230L334 232.4L332.9 234.6L331.5 236.5L329.8 238.2L327.7 239.8L325.4 241.1L322.8 242.2L319.9 243.1L316.6 243.9L313 244.4L308.8 244.6L302.7 242.6L296.6 244.6L292.4 244.4L288.8 243.9L285.5 243.1L282.6 242.2L280 241.1L277.7 239.8L275.6 238.2L273.9 236.5L272.5 234.6L271.4 232.4L270.6 230L270.2 227.2L270 223.3L270.2 219.5L270.7 216.8L271.5 214.4L272.6 212.2L274.1 210.2L275.8 208.5L277.9 206.9L280.3 205.6L283 204.4L285.9 203.4L289.2 202.7L292.9 202.1L297 201.9L302.7 203.6L308.4 201.9L312.5 202.1L316.2 202.7L319.5 203.4L322.4 204.4L325.1 205.6L327.5 206.9L329.6 208.5L331.3 210.2L332.8 212.2L333.9 214.4L334.7 216.8L335.2 219.5Z" fill="url(#g3)"/><path d="M304.7 206.9V240.5" stroke="#8e1626" stroke-width="1.3" opacity="0.55" fill="none"/><ellipse cx="315.8" cy="225.4" rx="5.9" ry="5.2" fill="#f0909c" opacity="0.5"/><ellipse cx="296.2" cy="225.4" rx="5.2" ry="5.2" fill="#f0909c" opacity="0.5"/><path d="M335.4 223.2L335.2 227.2L334.8 230L334 232.4L332.9 234.6L331.5 236.5L329.8 238.2L327.7 239.8L325.4 241.1L322.8 242.2L319.9 243.1L316.6 243.9L313 244.4L308.8 244.6L302.7 242.6L296.6 244.6L292.4 244.4L288.8 243.9L285.5 243.1L282.6 242.2L280 241.1L277.7 239.8L275.6 238.2L273.9 236.5L272.5 234.6L271.4 232.4L270.6 230L270.2 227.2L270 223.3L270.2 219.5L270.7 216.8L271.5 214.4L272.6 212.2L274.1 210.2L275.8 208.5L277.9 206.9L280.3 205.6L283 204.4L285.9 203.4L289.2 202.7L292.9 202.1L297 201.9L302.7 203.6L308.4 201.9L312.5 202.1L316.2 202.7L319.5 203.4L322.4 204.4L325.1 205.6L327.5 206.9L329.6 208.5L331.3 210.2L332.8 212.2L333.9 214.4L334.7 216.8L335.2 219.5Z" fill="url(#rim)"/><path d="M335.4 223.2L335.2 227.2L334.8 230L334 232.4L332.9 234.6L331.5 236.5L329.8 238.2L327.7 239.8L325.4 241.1L322.8 242.2L319.9 243.1L316.6 243.9L313 244.4L308.8 244.6L302.7 242.6L296.6 244.6L292.4 244.4L288.8 243.9L285.5 243.1L282.6 242.2L280 241.1L277.7 239.8L275.6 238.2L273.9 236.5L272.5 234.6L271.4 232.4L270.6 230L270.2 227.2L270 223.3L270.2 219.5L270.7 216.8L271.5 214.4L272.6 212.2L274.1 210.2L275.8 208.5L277.9 206.9L280.3 205.6L283 204.4L285.9 203.4L289.2 202.7L292.9 202.1L297 201.9L302.7 203.6L308.4 201.9L312.5 202.1L316.2 202.7L319.5 203.4L322.4 204.4L325.1 205.6L327.5 206.9L329.6 208.5L331.3 210.2L332.8 212.2L333.9 214.4L334.7 216.8L335.2 219.5Z" fill="none" stroke="#7a1020" stroke-width="2.2" opacity="0.3"/>
<path d="M440.8 215.8L440.7 219.3L440.2 221.8L439.5 223.9L438.5 225.8L437.2 227.6L435.6 229.1L433.7 230.4L431.6 231.6L429.2 232.6L426.5 233.4L423.5 234.1L420.1 234.5L416.2 234.7L410.6 233L405 234.7L401.1 234.5L397.7 234.1L394.7 233.4L392 232.6L389.6 231.6L387.5 230.4L385.6 229.1L384 227.6L382.7 225.8L381.7 223.9L381 221.8L380.5 219.3L380.4 215.8L380.6 212.5L381 210.1L381.8 207.9L382.8 206L384.2 204.3L385.8 202.7L387.7 201.3L389.9 200.1L392.4 199.1L395.1 198.2L398.2 197.6L401.5 197.1L405.4 196.9L410.6 198.4L415.8 196.9L419.7 197.1L423 197.6L426.1 198.2L428.8 199.1L431.3 200.1L433.5 201.3L435.4 202.7L437 204.3L438.4 206L439.4 207.9L440.2 210.1L440.6 212.5Z" fill="url(#g4)"/><path d="M412.4 201.3V231.1" stroke="#8e1626" stroke-width="1.3" opacity="0.55" fill="none"/><ellipse cx="422.7" cy="217.7" rx="5.4" ry="4.6" fill="#f0909c" opacity="0.5"/><ellipse cx="404.6" cy="217.7" rx="4.8" ry="4.6" fill="#f0909c" opacity="0.5"/><path d="M440.8 215.8L440.7 219.3L440.2 221.8L439.5 223.9L438.5 225.8L437.2 227.6L435.6 229.1L433.7 230.4L431.6 231.6L429.2 232.6L426.5 233.4L423.5 234.1L420.1 234.5L416.2 234.7L410.6 233L405 234.7L401.1 234.5L397.7 234.1L394.7 233.4L392 232.6L389.6 231.6L387.5 230.4L385.6 229.1L384 227.6L382.7 225.8L381.7 223.9L381 221.8L380.5 219.3L380.4 215.8L380.6 212.5L381 210.1L381.8 207.9L382.8 206L384.2 204.3L385.8 202.7L387.7 201.3L389.9 200.1L392.4 199.1L395.1 198.2L398.2 197.6L401.5 197.1L405.4 196.9L410.6 198.4L415.8 196.9L419.7 197.1L423 197.6L426.1 198.2L428.8 199.1L431.3 200.1L433.5 201.3L435.4 202.7L437 204.3L438.4 206L439.4 207.9L440.2 210.1L440.6 212.5Z" fill="url(#rim)"/><path d="M440.8 215.8L440.7 219.3L440.2 221.8L439.5 223.9L438.5 225.8L437.2 227.6L435.6 229.1L433.7 230.4L431.6 231.6L429.2 232.6L426.5 233.4L423.5 234.1L420.1 234.5L416.2 234.7L410.6 233L405 234.7L401.1 234.5L397.7 234.1L394.7 233.4L392 232.6L389.6 231.6L387.5 230.4L385.6 229.1L384 227.6L382.7 225.8L381.7 223.9L381 221.8L380.5 219.3L380.4 215.8L380.6 212.5L381 210.1L381.8 207.9L382.8 206L384.2 204.3L385.8 202.7L387.7 201.3L389.9 200.1L392.4 199.1L395.1 198.2L398.2 197.6L401.5 197.1L405.4 196.9L410.6 198.4L415.8 196.9L419.7 197.1L423 197.6L426.1 198.2L428.8 199.1L431.3 200.1L433.5 201.3L435.4 202.7L437 204.3L438.4 206L439.4 207.9L440.2 210.1L440.6 212.5Z" fill="none" stroke="#7a1020" stroke-width="2.2" opacity="0.3"/>
<path d="M555.2 221L555 224.7L554.6 227.4L553.8 229.6L552.8 231.6L551.5 233.4L549.8 235L547.9 236.5L545.7 237.7L543.2 238.8L540.4 239.6L537.3 240.3L533.8 240.8L529.8 241L524 239.2L518.2 241L514.2 240.8L510.7 240.3L507.6 239.6L504.8 238.8L502.3 237.7L500.1 236.5L498.2 235L496.5 233.4L495.2 231.6L494.2 229.6L493.4 227.4L493 224.7L492.8 221L493 217.5L493.4 214.9L494.2 212.7L495.3 210.6L496.7 208.8L498.4 207.2L500.4 205.7L502.6 204.4L505.2 203.3L508 202.4L511.1 201.7L514.6 201.2L518.6 201L524 202.6L529.4 201L533.4 201.2L536.9 201.7L540 202.4L542.8 203.3L545.4 204.4L547.6 205.7L549.6 207.2L551.3 208.8L552.7 210.6L553.8 212.7L554.6 214.9L555 217.5Z" fill="url(#g5)"/><path d="M525.9 205.6V237.2" stroke="#8e1626" stroke-width="1.3" opacity="0.55" fill="none"/><ellipse cx="536.5" cy="223" rx="5.6" ry="4.8" fill="#f0909c" opacity="0.5"/><ellipse cx="517.8" cy="223" rx="5" ry="4.8" fill="#f0909c" opacity="0.5"/><path d="M555.2 221L555 224.7L554.6 227.4L553.8 229.6L552.8 231.6L551.5 233.4L549.8 235L547.9 236.5L545.7 237.7L543.2 238.8L540.4 239.6L537.3 240.3L533.8 240.8L529.8 241L524 239.2L518.2 241L514.2 240.8L510.7 240.3L507.6 239.6L504.8 238.8L502.3 237.7L500.1 236.5L498.2 235L496.5 233.4L495.2 231.6L494.2 229.6L493.4 227.4L493 224.7L492.8 221L493 217.5L493.4 214.9L494.2 212.7L495.3 210.6L496.7 208.8L498.4 207.2L500.4 205.7L502.6 204.4L505.2 203.3L508 202.4L511.1 201.7L514.6 201.2L518.6 201L524 202.6L529.4 201L533.4 201.2L536.9 201.7L540 202.4L542.8 203.3L545.4 204.4L547.6 205.7L549.6 207.2L551.3 208.8L552.7 210.6L553.8 212.7L554.6 214.9L555 217.5Z" fill="url(#rim)"/><path d="M555.2 221L555 224.7L554.6 227.4L553.8 229.6L552.8 231.6L551.5 233.4L549.8 235L547.9 236.5L545.7 237.7L543.2 238.8L540.4 239.6L537.3 240.3L533.8 240.8L529.8 241L524 239.2L518.2 241L514.2 240.8L510.7 240.3L507.6 239.6L504.8 238.8L502.3 237.7L500.1 236.5L498.2 235L496.5 233.4L495.2 231.6L494.2 229.6L493.4 227.4L493 224.7L492.8 221L493 217.5L493.4 214.9L494.2 212.7L495.3 210.6L496.7 208.8L498.4 207.2L500.4 205.7L502.6 204.4L505.2 203.3L508 202.4L511.1 201.7L514.6 201.2L518.6 201L524 202.6L529.4 201L533.4 201.2L536.9 201.7L540 202.4L542.8 203.3L545.4 204.4L547.6 205.7L549.6 207.2L551.3 208.8L552.7 210.6L553.8 212.7L554.6 214.9L555 217.5Z" fill="none" stroke="#7a1020" stroke-width="2.2" opacity="0.3"/>
<path d="M665.6 221.4L665.5 224.9L665 227.4L664.3 229.5L663.3 231.4L662 233.1L660.4 234.6L658.5 235.9L656.4 237L654 238L651.3 238.8L648.3 239.5L644.9 239.9L641 240.1L635.4 238.4L629.7 240.1L625.8 239.9L622.4 239.5L619.4 238.8L616.7 238L614.3 237L612.2 235.9L610.3 234.6L608.7 233.1L607.4 231.4L606.4 229.5L605.7 227.4L605.2 224.9L605.1 221.5L605.3 218.2L605.7 215.8L606.5 213.7L607.5 211.8L608.9 210.1L610.5 208.5L612.4 207.2L614.6 206L617.1 204.9L619.8 204.1L622.9 203.5L626.3 203L630.1 202.8L635.3 204.3L640.6 202.8L644.4 203L647.8 203.5L650.9 204.1L653.6 204.9L656.1 206L658.3 207.2L660.2 208.5L661.8 210.1L663.2 211.8L664.2 213.7L665 215.8L665.4 218.2Z" fill="url(#g6)"/><path d="M637.2 207.1V236.5" stroke="#8e1626" stroke-width="1.3" opacity="0.55" fill="none"/><ellipse cx="647.5" cy="223.3" rx="5.4" ry="4.5" fill="#f0909c" opacity="0.5"/><path d="M665.6 221.4L665.5 224.9L665 227.4L664.3 229.5L663.3 231.4L662 233.1L660.4 234.6L658.5 235.9L656.4 237L654 238L651.3 238.8L648.3 239.5L644.9 239.9L641 240.1L635.4 238.4L629.7 240.1L625.8 239.9L622.4 239.5L619.4 238.8L616.7 238L614.3 237L612.2 235.9L610.3 234.6L608.7 233.1L607.4 231.4L606.4 229.5L605.7 227.4L605.2 224.9L605.1 221.5L605.3 218.2L605.7 215.8L606.5 213.7L607.5 211.8L608.9 210.1L610.5 208.5L612.4 207.2L614.6 206L617.1 204.9L619.8 204.1L622.9 203.5L626.3 203L630.1 202.8L635.3 204.3L640.6 202.8L644.4 203L647.8 203.5L650.9 204.1L653.6 204.9L656.1 206L658.3 207.2L660.2 208.5L661.8 210.1L663.2 211.8L664.2 213.7L665 215.8L665.4 218.2Z" fill="url(#rim)"/><path d="M665.6 221.4L665.5 224.9L665 227.4L664.3 229.5L663.3 231.4L662 233.1L660.4 234.6L658.5 235.9L656.4 237L654 238L651.3 238.8L648.3 239.5L644.9 239.9L641 240.1L635.4 238.4L629.7 240.1L625.8 239.9L622.4 239.5L619.4 238.8L616.7 238L614.3 237L612.2 235.9L610.3 234.6L608.7 233.1L607.4 231.4L606.4 229.5L605.7 227.4L605.2 224.9L605.1 221.5L605.3 218.2L605.7 215.8L606.5 213.7L607.5 211.8L608.9 210.1L610.5 208.5L612.4 207.2L614.6 206L617.1 204.9L619.8 204.1L622.9 203.5L626.3 203L630.1 202.8L635.3 204.3L640.6 202.8L644.4 203L647.8 203.5L650.9 204.1L653.6 204.9L656.1 206L658.3 207.2L660.2 208.5L661.8 210.1L663.2 211.8L664.2 213.7L665 215.8L665.4 218.2Z" fill="none" stroke="#7a1020" stroke-width="2.2" opacity="0.3"/>
<path d="M777.8 215.4L777.6 218.8L777.2 221.1L776.4 223.2L775.4 225L774 226.6L772.4 228.1L770.5 229.3L768.2 230.5L765.7 231.4L762.9 232.2L759.8 232.8L756.3 233.2L752.2 233.5L746.4 231.8L740.6 233.5L736.5 233.2L733 232.8L729.9 232.2L727.1 231.4L724.6 230.5L722.3 229.3L720.4 228.1L718.8 226.6L717.4 225L716.4 223.2L715.6 221.1L715.2 218.8L715 215.4L715.2 212.2L715.6 209.9L716.4 207.9L717.5 206.1L718.9 204.4L720.6 202.9L722.6 201.6L724.9 200.5L727.4 199.5L730.3 198.7L733.5 198L737 197.6L741 197.4L746.4 198.8L751.8 197.4L755.8 197.6L759.3 198L762.5 198.7L765.4 199.5L767.9 200.5L770.2 201.6L772.2 202.9L773.9 204.4L775.3 206.1L776.4 207.9L777.2 209.9L777.6 212.2Z" fill="url(#g7)"/><path d="M748.3 201.6V230" stroke="#8e1626" stroke-width="1.3" opacity="0.55" fill="none"/><ellipse cx="759" cy="217.2" rx="5.7" ry="4.4" fill="#f0909c" opacity="0.5"/><ellipse cx="740.1" cy="217.2" rx="5" ry="4.4" fill="#f0909c" opacity="0.5"/><path d="M777.8 215.4L777.6 218.8L777.2 221.1L776.4 223.2L775.4 225L774 226.6L772.4 228.1L770.5 229.3L768.2 230.5L765.7 231.4L762.9 232.2L759.8 232.8L756.3 233.2L752.2 233.5L746.4 231.8L740.6 233.5L736.5 233.2L733 232.8L729.9 232.2L727.1 231.4L724.6 230.5L722.3 229.3L720.4 228.1L718.8 226.6L717.4 225L716.4 223.2L715.6 221.1L715.2 218.8L715 215.4L715.2 212.2L715.6 209.9L716.4 207.9L717.5 206.1L718.9 204.4L720.6 202.9L722.6 201.6L724.9 200.5L727.4 199.5L730.3 198.7L733.5 198L737 197.6L741 197.4L746.4 198.8L751.8 197.4L755.8 197.6L759.3 198L762.5 198.7L765.4 199.5L767.9 200.5L770.2 201.6L772.2 202.9L773.9 204.4L775.3 206.1L776.4 207.9L777.2 209.9L777.6 212.2Z" fill="url(#rim)"/><path d="M777.8 215.4L777.6 218.8L777.2 221.1L776.4 223.2L775.4 225L774 226.6L772.4 228.1L770.5 229.3L768.2 230.5L765.7 231.4L762.9 232.2L759.8 232.8L756.3 233.2L752.2 233.5L746.4 231.8L740.6 233.5L736.5 233.2L733 232.8L729.9 232.2L727.1 231.4L724.6 230.5L722.3 229.3L720.4 228.1L718.8 226.6L717.4 225L716.4 223.2L715.6 221.1L715.2 218.8L715 215.4L715.2 212.2L715.6 209.9L716.4 207.9L717.5 206.1L718.9 204.4L720.6 202.9L722.6 201.6L724.9 200.5L727.4 199.5L730.3 198.7L733.5 198L737 197.6L741 197.4L746.4 198.8L751.8 197.4L755.8 197.6L759.3 198L762.5 198.7L765.4 199.5L767.9 200.5L770.2 201.6L772.2 202.9L773.9 204.4L775.3 206.1L776.4 207.9L777.2 209.9L777.6 212.2Z" fill="none" stroke="#7a1020" stroke-width="2.2" opacity="0.3"/>
<path d="M888.1 224.6L887.9 228.3L887.5 231L886.7 233.2L885.6 235.2L884.2 237L882.5 238.6L880.4 240.1L878.1 241.3L875.5 242.4L872.6 243.2L869.3 243.9L865.7 244.4L861.4 244.6L855.4 242.8L849.3 244.6L845 244.4L841.4 243.9L838.1 243.2L835.2 242.4L832.6 241.3L830.3 240.1L828.2 238.6L826.5 237L825.1 235.2L824 233.2L823.2 231L822.8 228.3L822.6 224.6L822.8 221.1L823.3 218.5L824.1 216.3L825.2 214.2L826.7 212.4L828.5 210.8L830.5 209.3L832.9 208L835.6 206.9L838.6 206L841.9 205.3L845.5 204.8L849.7 204.6L855.3 206.2L861 204.6L865.2 204.8L868.8 205.3L872.1 206L875.1 206.9L877.8 208L880.2 209.3L882.2 210.8L884 212.4L885.5 214.2L886.6 216.3L887.4 218.5L887.9 221.1Z" fill="url(#g8)"/><path d="M857.3 209.2V240.8" stroke="#8e1626" stroke-width="1.3" opacity="0.55" fill="none"/><ellipse cx="868.5" cy="226.6" rx="5.9" ry="4.8" fill="#f0909c" opacity="0.5"/><ellipse cx="848.8" cy="226.6" rx="5.2" ry="4.8" fill="#f0909c" opacity="0.5"/><path d="M888.1 224.6L887.9 228.3L887.5 231L886.7 233.2L885.6 235.2L884.2 237L882.5 238.6L880.4 240.1L878.1 241.3L875.5 242.4L872.6 243.2L869.3 243.9L865.7 244.4L861.4 244.6L855.4 242.8L849.3 244.6L845 244.4L841.4 243.9L838.1 243.2L835.2 242.4L832.6 241.3L830.3 240.1L828.2 238.6L826.5 237L825.1 235.2L824 233.2L823.2 231L822.8 228.3L822.6 224.6L822.8 221.1L823.3 218.5L824.1 216.3L825.2 214.2L826.7 212.4L828.5 210.8L830.5 209.3L832.9 208L835.6 206.9L838.6 206L841.9 205.3L845.5 204.8L849.7 204.6L855.3 206.2L861 204.6L865.2 204.8L868.8 205.3L872.1 206L875.1 206.9L877.8 208L880.2 209.3L882.2 210.8L884 212.4L885.5 214.2L886.6 216.3L887.4 218.5L887.9 221.1Z" fill="url(#rim)"/><path d="M888.1 224.6L887.9 228.3L887.5 231L886.7 233.2L885.6 235.2L884.2 237L882.5 238.6L880.4 240.1L878.1 241.3L875.5 242.4L872.6 243.2L869.3 243.9L865.7 244.4L861.4 244.6L855.4 242.8L849.3 244.6L845 244.4L841.4 243.9L838.1 243.2L835.2 242.4L832.6 241.3L830.3 240.1L828.2 238.6L826.5 237L825.1 235.2L824 233.2L823.2 231L822.8 228.3L822.6 224.6L822.8 221.1L823.3 218.5L824.1 216.3L825.2 214.2L826.7 212.4L828.5 210.8L830.5 209.3L832.9 208L835.6 206.9L838.6 206L841.9 205.3L845.5 204.8L849.7 204.6L855.3 206.2L861 204.6L865.2 204.8L868.8 205.3L872.1 206L875.1 206.9L877.8 208L880.2 209.3L882.2 210.8L884 212.4L885.5 214.2L886.6 216.3L887.4 218.5L887.9 221.1Z" fill="none" stroke="#7a1020" stroke-width="2.2" opacity="0.3"/>
<path d="M997.5 215.6L997.4 219.3L996.9 222L996.2 224.2L995.2 226.2L993.9 228L992.4 229.6L990.6 231.1L988.5 232.3L986.1 233.4L983.5 234.2L980.5 234.9L977.2 235.4L973.4 235.6L967.9 233.8L962.4 235.6L958.6 235.4L955.3 234.9L952.3 234.2L949.7 233.4L947.3 232.3L945.2 231.1L943.4 229.6L941.9 228L940.6 226.2L939.6 224.2L938.9 222L938.4 219.3L938.3 215.6L938.4 212.1L938.9 209.5L939.6 207.3L940.7 205.2L942 203.4L943.6 201.8L945.5 200.3L947.6 199L950 197.9L952.7 197L955.7 196.3L959 195.8L962.8 195.6L967.9 197.2L973 195.6L976.8 195.8L980.1 196.3L983.1 197L985.8 197.9L988.2 199L990.3 200.3L992.2 201.8L993.8 203.4L995.1 205.2L996.2 207.3L996.9 209.5L997.4 212.1Z" fill="url(#g9)"/><path d="M969.7 200.2V231.8" stroke="#8e1626" stroke-width="1.3" opacity="0.55" fill="none"/><ellipse cx="979.7" cy="217.6" rx="5.3" ry="4.8" fill="#f0909c" opacity="0.5"/><ellipse cx="962" cy="217.6" rx="4.7" ry="4.8" fill="#f0909c" opacity="0.5"/><path d="M997.5 215.6L997.4 219.3L996.9 222L996.2 224.2L995.2 226.2L993.9 228L992.4 229.6L990.6 231.1L988.5 232.3L986.1 233.4L983.5 234.2L980.5 234.9L977.2 235.4L973.4 235.6L967.9 233.8L962.4 235.6L958.6 235.4L955.3 234.9L952.3 234.2L949.7 233.4L947.3 232.3L945.2 231.1L943.4 229.6L941.9 228L940.6 226.2L939.6 224.2L938.9 222L938.4 219.3L938.3 215.6L938.4 212.1L938.9 209.5L939.6 207.3L940.7 205.2L942 203.4L943.6 201.8L945.5 200.3L947.6 199L950 197.9L952.7 197L955.7 196.3L959 195.8L962.8 195.6L967.9 197.2L973 195.6L976.8 195.8L980.1 196.3L983.1 197L985.8 197.9L988.2 199L990.3 200.3L992.2 201.8L993.8 203.4L995.1 205.2L996.2 207.3L996.9 209.5L997.4 212.1Z" fill="url(#rim)"/><path d="M997.5 215.6L997.4 219.3L996.9 222L996.2 224.2L995.2 226.2L993.9 228L992.4 229.6L990.6 231.1L988.5 232.3L986.1 233.4L983.5 234.2L980.5 234.9L977.2 235.4L973.4 235.6L967.9 233.8L962.4 235.6L958.6 235.4L955.3 234.9L952.3 234.2L949.7 233.4L947.3 232.3L945.2 231.1L943.4 229.6L941.9 228L940.6 226.2L939.6 224.2L938.9 222L938.4 219.3L938.3 215.6L938.4 212.1L938.9 209.5L939.6 207.3L940.7 205.2L942 203.4L943.6 201.8L945.5 200.3L947.6 199L950 197.9L952.7 197L955.7 196.3L959 195.8L962.8 195.6L967.9 197.2L973 195.6L976.8 195.8L980.1 196.3L983.1 197L985.8 197.9L988.2 199L990.3 200.3L992.2 201.8L993.8 203.4L995.1 205.2L996.2 207.3L996.9 209.5L997.4 212.1Z" fill="none" stroke="#7a1020" stroke-width="2.2" opacity="0.3"/>
<path d="M99.6 323.4L99.4 328.9L99 332.1L98.2 334.7L97.2 336.9L95.8 338.9L94.1 340.6L92.1 342.1L89.8 343.4L87.1 344.5L84.1 345.4L80.6 346.1L76.6 346.6L71.7 346.9L63.3 345.8L54.8 346.9L49.9 346.6L45.9 346.1L42.4 345.4L39.4 344.5L36.7 343.4L34.4 342.1L32.4 340.6L30.7 338.9L29.3 336.9L28.3 334.7L27.5 332.1L27.1 328.9L26.9 323.4L27.1 319.4L27.6 316.5L28.6 313.8L29.9 311.5L31.5 309.3L33.5 307.4L35.9 305.6L38.5 304.1L41.5 302.8L44.9 301.7L48.5 300.9L52.6 300.3L57.2 299.9L63.2 300.6L69.3 299.9L73.9 300.3L78 300.9L81.6 301.7L85 302.8L88 304.1L90.6 305.6L93 307.4L95 309.3L96.6 311.5L97.9 313.8L98.9 316.5L99.4 319.4Z" fill="url(#g10)"/><ellipse cx="74.2" cy="325.3" rx="9.9" ry="9.9" fill="none" stroke="#f3a0a8" stroke-width="2.6" opacity="0.5"/><path d="M60.3 318.7Q76.3 306.4 90.9 324.3" fill="none" stroke="#f6b6bb" stroke-width="2.2" opacity="0.45"/><ellipse cx="74.2" cy="339.4" rx="14.5" ry="3.3" fill="#f3a5ab" opacity="0.4"/><path d="M99.6 323.4L99.4 328.9L99 332.1L98.2 334.7L97.2 336.9L95.8 338.9L94.1 340.6L92.1 342.1L89.8 343.4L87.1 344.5L84.1 345.4L80.6 346.1L76.6 346.6L71.7 346.9L63.3 345.8L54.8 346.9L49.9 346.6L45.9 346.1L42.4 345.4L39.4 344.5L36.7 343.4L34.4 342.1L32.4 340.6L30.7 338.9L29.3 336.9L28.3 334.7L27.5 332.1L27.1 328.9L26.9 323.4L27.1 319.4L27.6 316.5L28.6 313.8L29.9 311.5L31.5 309.3L33.5 307.4L35.9 305.6L38.5 304.1L41.5 302.8L44.9 301.7L48.5 300.9L52.6 300.3L57.2 299.9L63.2 300.6L69.3 299.9L73.9 300.3L78 300.9L81.6 301.7L85 302.8L88 304.1L90.6 305.6L93 307.4L95 309.3L96.6 311.5L97.9 313.8L98.9 316.5L99.4 319.4Z" fill="url(#rim)"/><path d="M99.6 323.4L99.4 328.9L99 332.1L98.2 334.7L97.2 336.9L95.8 338.9L94.1 340.6L92.1 342.1L89.8 343.4L87.1 344.5L84.1 345.4L80.6 346.1L76.6 346.6L71.7 346.9L63.3 345.8L54.8 346.9L49.9 346.6L45.9 346.1L42.4 345.4L39.4 344.5L36.7 343.4L34.4 342.1L32.4 340.6L30.7 338.9L29.3 336.9L28.3 334.7L27.5 332.1L27.1 328.9L26.9 323.4L27.1 319.4L27.6 316.5L28.6 313.8L29.9 311.5L31.5 309.3L33.5 307.4L35.9 305.6L38.5 304.1L41.5 302.8L44.9 301.7L48.5 300.9L52.6 300.3L57.2 299.9L63.2 300.6L69.3 299.9L73.9 300.3L78 300.9L81.6 301.7L85 302.8L88 304.1L90.6 305.6L93 307.4L95 309.3L96.6 311.5L97.9 313.8L98.9 316.5L99.4 319.4Z" fill="none" stroke="#7a1020" stroke-width="2.2" opacity="0.3"/>
<path d="M215.2 325L215 330.8L214.5 334.1L213.7 336.8L212.6 339.2L211.1 341.2L209.3 343L207.2 344.6L204.7 346L201.8 347.1L198.6 348L194.8 348.8L190.5 349.3L185.3 349.6L176.2 348.5L167.1 349.6L161.9 349.3L157.6 348.8L153.8 348L150.6 347.1L147.7 346L145.2 344.6L143.1 343L141.3 341.2L139.8 339.2L138.7 336.8L137.9 334.1L137.4 330.8L137.2 325.1L137.4 320.9L138 317.8L139 315.1L140.4 312.6L142.2 310.3L144.3 308.3L146.8 306.5L149.7 304.9L152.9 303.5L156.5 302.4L160.4 301.5L164.8 300.9L169.7 300.6L176.2 301.3L182.7 300.6L187.6 300.9L192 301.5L195.9 302.4L199.5 303.5L202.7 304.9L205.6 306.5L208.1 308.3L210.2 310.3L212 312.6L213.4 315.1L214.4 317.8L215 320.9Z" fill="url(#g11)"/><ellipse cx="187.9" cy="327" rx="10.4" ry="10.4" fill="none" stroke="#f3a0a8" stroke-width="2.6" opacity="0.5"/><path d="M173.1 320.1Q190.2 307.3 205.8 326" fill="none" stroke="#f6b6bb" stroke-width="2.2" opacity="0.45"/><ellipse cx="187.9" cy="341.8" rx="15.6" ry="3.5" fill="#f3a5ab" opacity="0.4"/><path d="M215.2 325L215 330.8L214.5 334.1L213.7 336.8L212.6 339.2L211.1 341.2L209.3 343L207.2 344.6L204.7 346L201.8 347.1L198.6 348L194.8 348.8L190.5 349.3L185.3 349.6L176.2 348.5L167.1 349.6L161.9 349.3L157.6 348.8L153.8 348L150.6 347.1L147.7 346L145.2 344.6L143.1 343L141.3 341.2L139.8 339.2L138.7 336.8L137.9 334.1L137.4 330.8L137.2 325.1L137.4 320.9L138 317.8L139 315.1L140.4 312.6L142.2 310.3L144.3 308.3L146.8 306.5L149.7 304.9L152.9 303.5L156.5 302.4L160.4 301.5L164.8 300.9L169.7 300.6L176.2 301.3L182.7 300.6L187.6 300.9L192 301.5L195.9 302.4L199.5 303.5L202.7 304.9L205.6 306.5L208.1 308.3L210.2 310.3L212 312.6L213.4 315.1L214.4 317.8L215 320.9Z" fill="url(#rim)"/><path d="M215.2 325L215 330.8L214.5 334.1L213.7 336.8L212.6 339.2L211.1 341.2L209.3 343L207.2 344.6L204.7 346L201.8 347.1L198.6 348L194.8 348.8L190.5 349.3L185.3 349.6L176.2 348.5L167.1 349.6L161.9 349.3L157.6 348.8L153.8 348L150.6 347.1L147.7 346L145.2 344.6L143.1 343L141.3 341.2L139.8 339.2L138.7 336.8L137.9 334.1L137.4 330.8L137.2 325.1L137.4 320.9L138 317.8L139 315.1L140.4 312.6L142.2 310.3L144.3 308.3L146.8 306.5L149.7 304.9L152.9 303.5L156.5 302.4L160.4 301.5L164.8 300.9L169.7 300.6L176.2 301.3L182.7 300.6L187.6 300.9L192 301.5L195.9 302.4L199.5 303.5L202.7 304.9L205.6 306.5L208.1 308.3L210.2 310.3L212 312.6L213.4 315.1L214.4 317.8L215 320.9Z" fill="none" stroke="#7a1020" stroke-width="2.2" opacity="0.3"/>
<path d="M331.8 328.1L331.6 333.8L331.2 337.1L330.4 339.7L329.3 342L327.9 344.1L326.2 345.8L324.2 347.4L321.9 348.7L319.2 349.9L316.1 350.8L312.6 351.5L308.5 352L303.6 352.3L295.1 351.2L286.5 352.3L281.6 352L277.5 351.5L274 350.8L270.9 349.9L268.2 348.7L265.9 347.4L263.9 345.8L262.2 344.1L260.8 342L259.7 339.7L258.9 337.1L258.5 333.8L258.3 328.2L258.5 324.1L259.1 321L260 318.3L261.3 315.9L263 313.7L265 311.7L267.4 309.9L270.1 308.3L273.1 307L276.5 305.9L280.2 305L284.3 304.4L288.9 304.1L295 304.7L301.2 304.1L305.8 304.4L309.9 305L313.6 305.9L317 307L320 308.3L322.7 309.9L325.1 311.7L327.1 313.7L328.8 315.9L330.1 318.3L331 321L331.6 324.1Z" fill="url(#g12)"/><ellipse cx="306.1" cy="330.1" rx="10.2" ry="10.2" fill="none" stroke="#f3a0a8" stroke-width="2.6" opacity="0.5"/><path d="M292.1 323.3Q308.3 310.7 323 329.1" fill="none" stroke="#f6b6bb" stroke-width="2.2" opacity="0.45"/><ellipse cx="306.1" cy="344.6" rx="14.7" ry="3.4" fill="#f3a5ab" opacity="0.4"/><path d="M331.8 328.1L331.6 333.8L331.2 337.1L330.4 339.7L329.3 342L327.9 344.1L326.2 345.8L324.2 347.4L321.9 348.7L319.2 349.9L316.1 350.8L312.6 351.5L308.5 352L303.6 352.3L295.1 351.2L286.5 352.3L281.6 352L277.5 351.5L274 350.8L270.9 349.9L268.2 348.7L265.9 347.4L263.9 345.8L262.2 344.1L260.8 342L259.7 339.7L258.9 337.1L258.5 333.8L258.3 328.2L258.5 324.1L259.1 321L260 318.3L261.3 315.9L263 313.7L265 311.7L267.4 309.9L270.1 308.3L273.1 307L276.5 305.9L280.2 305L284.3 304.4L288.9 304.1L295 304.7L301.2 304.1L305.8 304.4L309.9 305L313.6 305.9L317 307L320 308.3L322.7 309.9L325.1 311.7L327.1 313.7L328.8 315.9L330.1 318.3L331 321L331.6 324.1Z" fill="url(#rim)"/><path d="M331.8 328.1L331.6 333.8L331.2 337.1L330.4 339.7L329.3 342L327.9 344.1L326.2 345.8L324.2 347.4L321.9 348.7L319.2 349.9L316.1 350.8L312.6 351.5L308.5 352L303.6 352.3L295.1 351.2L286.5 352.3L281.6 352L277.5 351.5L274 350.8L270.9 349.9L268.2 348.7L265.9 347.4L263.9 345.8L262.2 344.1L260.8 342L259.7 339.7L258.9 337.1L258.5 333.8L258.3 328.2L258.5 324.1L259.1 321L260 318.3L261.3 315.9L263 313.7L265 311.7L267.4 309.9L270.1 308.3L273.1 307L276.5 305.9L280.2 305L284.3 304.4L288.9 304.1L295 304.7L301.2 304.1L305.8 304.4L309.9 305L313.6 305.9L317 307L320 308.3L322.7 309.9L325.1 311.7L327.1 313.7L328.8 315.9L330.1 318.3L331 321L331.6 324.1Z" fill="none" stroke="#7a1020" stroke-width="2.2" opacity="0.3"/>
<path d="M444.9 320.4L444.7 325.7L444.3 328.8L443.5 331.4L442.5 333.6L441.1 335.5L439.4 337.2L437.4 338.6L435.1 339.9L432.4 341L429.4 341.9L425.9 342.5L421.9 343L417 343.3L408.6 342.2L400.2 343.3L395.3 343L391.3 342.5L387.8 341.9L384.8 341L382.1 339.9L379.8 338.6L377.8 337.2L376.1 335.5L374.7 333.6L373.7 331.4L372.9 328.8L372.5 325.7L372.3 320.4L372.5 316.5L373 313.6L374 311L375.3 308.7L376.9 306.6L378.9 304.7L381.2 303L383.9 301.5L386.9 300.2L390.2 299.2L393.9 298.4L398 297.8L402.5 297.4L408.6 298.1L414.7 297.4L419.2 297.8L423.3 298.4L427 299.2L430.3 300.2L433.3 301.5L436 303L438.3 304.7L440.3 306.6L441.9 308.7L443.2 311L444.2 313.6L444.7 316.5Z" fill="url(#g13)"/><ellipse cx="419.5" cy="322.2" rx="9.7" ry="9.7" fill="none" stroke="#f3a0a8" stroke-width="2.6" opacity="0.5"/><path d="M405.7 315.7Q421.7 303.8 436.2 321.3" fill="none" stroke="#f6b6bb" stroke-width="2.2" opacity="0.45"/><ellipse cx="419.5" cy="336" rx="14.5" ry="3.2" fill="#f3a5ab" opacity="0.4"/><path d="M444.9 320.4L444.7 325.7L444.3 328.8L443.5 331.4L442.5 333.6L441.1 335.5L439.4 337.2L437.4 338.6L435.1 339.9L432.4 341L429.4 341.9L425.9 342.5L421.9 343L417 343.3L408.6 342.2L400.2 343.3L395.3 343L391.3 342.5L387.8 341.9L384.8 341L382.1 339.9L379.8 338.6L377.8 337.2L376.1 335.5L374.7 333.6L373.7 331.4L372.9 328.8L372.5 325.7L372.3 320.4L372.5 316.5L373 313.6L374 311L375.3 308.7L376.9 306.6L378.9 304.7L381.2 303L383.9 301.5L386.9 300.2L390.2 299.2L393.9 298.4L398 297.8L402.5 297.4L408.6 298.1L414.7 297.4L419.2 297.8L423.3 298.4L427 299.2L430.3 300.2L433.3 301.5L436 303L438.3 304.7L440.3 306.6L441.9 308.7L443.2 311L444.2 313.6L444.7 316.5Z" fill="url(#rim)"/><path d="M444.9 320.4L444.7 325.7L444.3 328.8L443.5 331.4L442.5 333.6L441.1 335.5L439.4 337.2L437.4 338.6L435.1 339.9L432.4 341L429.4 341.9L425.9 342.5L421.9 343L417 343.3L408.6 342.2L400.2 343.3L395.3 343L391.3 342.5L387.8 341.9L384.8 341L382.1 339.9L379.8 338.6L377.8 337.2L376.1 335.5L374.7 333.6L373.7 331.4L372.9 328.8L372.5 325.7L372.3 320.4L372.5 316.5L373 313.6L374 311L375.3 308.7L376.9 306.6L378.9 304.7L381.2 303L383.9 301.5L386.9 300.2L390.2 299.2L393.9 298.4L398 297.8L402.5 297.4L408.6 298.1L414.7 297.4L419.2 297.8L423.3 298.4L427 299.2L430.3 300.2L433.3 301.5L436 303L438.3 304.7L440.3 306.6L441.9 308.7L443.2 311L444.2 313.6L444.7 316.5Z" fill="none" stroke="#7a1020" stroke-width="2.2" opacity="0.3"/>
<path d="M559.7 329.5L559.5 334.8L559.1 337.9L558.3 340.4L557.2 342.6L555.8 344.5L554 346.2L552 347.7L549.6 348.9L546.9 350L543.7 350.9L540.2 351.5L536 352L531 352.3L522.3 351.3L513.6 352.3L508.6 352L504.4 351.5L500.9 350.9L497.7 350L495 348.9L492.6 347.7L490.6 346.2L488.8 344.5L487.4 342.6L486.3 340.4L485.5 337.9L485.1 334.8L484.9 329.5L485.1 325.7L485.7 322.8L486.6 320.2L488 317.9L489.6 315.8L491.7 313.9L494.1 312.2L496.9 310.8L500 309.5L503.4 308.5L507.2 307.7L511.3 307.1L516 306.7L522.3 307.4L528.6 306.7L533.3 307.1L537.4 307.7L541.2 308.5L544.6 309.5L547.7 310.8L550.5 312.2L552.9 313.9L555 315.8L556.6 317.9L558 320.2L558.9 322.8L559.5 325.7Z" fill="url(#g14)"/><ellipse cx="533.5" cy="331.3" rx="9.6" ry="9.6" fill="none" stroke="#f3a0a8" stroke-width="2.6" opacity="0.5"/><path d="M519.3 324.9Q535.8 313 550.7 330.4" fill="none" stroke="#f6b6bb" stroke-width="2.2" opacity="0.45"/><ellipse cx="533.5" cy="345.1" rx="15" ry="3.2" fill="#f3a5ab" opacity="0.4"/><path d="M559.7 329.5L559.5 334.8L559.1 337.9L558.3 340.4L557.2 342.6L555.8 344.5L554 346.2L552 347.7L549.6 348.9L546.9 350L543.7 350.9L540.2 351.5L536 352L531 352.3L522.3 351.3L513.6 352.3L508.6 352L504.4 351.5L500.9 350.9L497.7 350L495 348.9L492.6 347.7L490.6 346.2L488.8 344.5L487.4 342.6L486.3 340.4L485.5 337.9L485.1 334.8L484.9 329.5L485.1 325.7L485.7 322.8L486.6 320.2L488 317.9L489.6 315.8L491.7 313.9L494.1 312.2L496.9 310.8L500 309.5L503.4 308.5L507.2 307.7L511.3 307.1L516 306.7L522.3 307.4L528.6 306.7L533.3 307.1L537.4 307.7L541.2 308.5L544.6 309.5L547.7 310.8L550.5 312.2L552.9 313.9L555 315.8L556.6 317.9L558 320.2L558.9 322.8L559.5 325.7Z" fill="url(#rim)"/><path d="M559.7 329.5L559.5 334.8L559.1 337.9L558.3 340.4L557.2 342.6L555.8 344.5L554 346.2L552 347.7L549.6 348.9L546.9 350L543.7 350.9L540.2 351.5L536 352L531 352.3L522.3 351.3L513.6 352.3L508.6 352L504.4 351.5L500.9 350.9L497.7 350L495 348.9L492.6 347.7L490.6 346.2L488.8 344.5L487.4 342.6L486.3 340.4L485.5 337.9L485.1 334.8L484.9 329.5L485.1 325.7L485.7 322.8L486.6 320.2L488 317.9L489.6 315.8L491.7 313.9L494.1 312.2L496.9 310.8L500 309.5L503.4 308.5L507.2 307.7L511.3 307.1L516 306.7L522.3 307.4L528.6 306.7L533.3 307.1L537.4 307.7L541.2 308.5L544.6 309.5L547.7 310.8L550.5 312.2L552.9 313.9L555 315.8L556.6 317.9L558 320.2L558.9 322.8L559.5 325.7Z" fill="none" stroke="#7a1020" stroke-width="2.2" opacity="0.3"/>
<path d="M668.2 324.1L668.1 329.5L667.6 332.5L666.9 335.1L665.9 337.2L664.5 339.2L662.9 340.8L661 342.3L658.8 343.5L656.2 344.6L653.3 345.5L649.9 346.1L646.1 346.6L641.4 346.9L633.3 345.9L625.1 346.9L620.4 346.6L616.6 346.1L613.2 345.5L610.3 344.6L607.7 343.5L605.5 342.3L603.6 340.8L602 339.2L600.6 337.2L599.6 335.1L598.9 332.5L598.4 329.5L598.3 324.2L598.5 320.3L599 317.4L599.9 314.9L601.2 312.6L602.7 310.5L604.7 308.6L606.9 306.9L609.5 305.5L612.4 304.2L615.6 303.2L619.1 302.4L623 301.8L627.4 301.4L633.2 302.1L639.1 301.4L643.5 301.8L647.4 302.4L650.9 303.2L654.1 304.2L657 305.5L659.6 306.9L661.8 308.6L663.8 310.5L665.3 312.6L666.6 314.9L667.5 317.4L668 320.3Z" fill="url(#g15)"/><ellipse cx="643.7" cy="326" rx="9.6" ry="9.6" fill="none" stroke="#f3a0a8" stroke-width="2.6" opacity="0.5"/><path d="M630.5 319.6Q645.8 307.7 659.8 325.1" fill="none" stroke="#f6b6bb" stroke-width="2.2" opacity="0.45"/><ellipse cx="643.7" cy="339.7" rx="14" ry="3.2" fill="#f3a5ab" opacity="0.4"/><path d="M668.2 324.1L668.1 329.5L667.6 332.5L666.9 335.1L665.9 337.2L664.5 339.2L662.9 340.8L661 342.3L658.8 343.5L656.2 344.6L653.3 345.5L649.9 346.1L646.1 346.6L641.4 346.9L633.3 345.9L625.1 346.9L620.4 346.6L616.6 346.1L613.2 345.5L610.3 344.6L607.7 343.5L605.5 342.3L603.6 340.8L602 339.2L600.6 337.2L599.6 335.1L598.9 332.5L598.4 329.5L598.3 324.2L598.5 320.3L599 317.4L599.9 314.9L601.2 312.6L602.7 310.5L604.7 308.6L606.9 306.9L609.5 305.5L612.4 304.2L615.6 303.2L619.1 302.4L623 301.8L627.4 301.4L633.2 302.1L639.1 301.4L643.5 301.8L647.4 302.4L650.9 303.2L654.1 304.2L657 305.5L659.6 306.9L661.8 308.6L663.8 310.5L665.3 312.6L666.6 314.9L667.5 317.4L668 320.3Z" fill="url(#rim)"/><path d="M668.2 324.1L668.1 329.5L667.6 332.5L666.9 335.1L665.9 337.2L664.5 339.2L662.9 340.8L661 342.3L658.8 343.5L656.2 344.6L653.3 345.5L649.9 346.1L646.1 346.6L641.4 346.9L633.3 345.9L625.1 346.9L620.4 346.6L616.6 346.1L613.2 345.5L610.3 344.6L607.7 343.5L605.5 342.3L603.6 340.8L602 339.2L600.6 337.2L599.6 335.1L598.9 332.5L598.4 329.5L598.3 324.2L598.5 320.3L599 317.4L599.9 314.9L601.2 312.6L602.7 310.5L604.7 308.6L606.9 306.9L609.5 305.5L612.4 304.2L615.6 303.2L619.1 302.4L623 301.8L627.4 301.4L633.2 302.1L639.1 301.4L643.5 301.8L647.4 302.4L650.9 303.2L654.1 304.2L657 305.5L659.6 306.9L661.8 308.6L663.8 310.5L665.3 312.6L666.6 314.9L667.5 317.4L668 320.3Z" fill="none" stroke="#7a1020" stroke-width="2.2" opacity="0.3"/>
<path d="M786.2 321.5L786 327.2L785.6 330.5L784.8 333.2L783.7 335.6L782.4 337.6L780.7 339.4L778.7 341L776.3 342.4L773.7 343.5L770.6 344.4L767.1 345.2L763.1 345.7L758.2 346L749.7 344.9L741.2 346L736.3 345.7L732.3 345.2L728.8 344.4L725.7 343.5L723.1 342.4L720.7 341L718.7 339.4L717 337.6L715.7 335.6L714.6 333.2L713.8 330.5L713.4 327.2L713.2 321.5L713.4 317.3L713.9 314.2L714.9 311.5L716.2 309L717.8 306.7L719.8 304.7L722.2 302.9L724.9 301.3L727.9 299.9L731.2 298.8L734.9 297.9L739 297.3L743.6 297L749.7 297.7L755.8 297L760.4 297.3L764.5 297.9L768.2 298.8L771.5 299.9L774.5 301.3L777.2 302.9L779.6 304.7L781.6 306.7L783.2 309L784.5 311.5L785.5 314.2L786 317.3Z" fill="url(#g16)"/><ellipse cx="760.7" cy="323.4" rx="10.4" ry="10.4" fill="none" stroke="#f3a0a8" stroke-width="2.6" opacity="0.5"/><path d="M746.8 316.5Q762.8 303.7 777.4 322.4" fill="none" stroke="#f6b6bb" stroke-width="2.2" opacity="0.45"/><ellipse cx="760.7" cy="338.2" rx="14.6" ry="3.5" fill="#f3a5ab" opacity="0.4"/><path d="M786.2 321.5L786 327.2L785.6 330.5L784.8 333.2L783.7 335.6L782.4 337.6L780.7 339.4L778.7 341L776.3 342.4L773.7 343.5L770.6 344.4L767.1 345.2L763.1 345.7L758.2 346L749.7 344.9L741.2 346L736.3 345.7L732.3 345.2L728.8 344.4L725.7 343.5L723.1 342.4L720.7 341L718.7 339.4L717 337.6L715.7 335.6L714.6 333.2L713.8 330.5L713.4 327.2L713.2 321.5L713.4 317.3L713.9 314.2L714.9 311.5L716.2 309L717.8 306.7L719.8 304.7L722.2 302.9L724.9 301.3L727.9 299.9L731.2 298.8L734.9 297.9L739 297.3L743.6 297L749.7 297.7L755.8 297L760.4 297.3L764.5 297.9L768.2 298.8L771.5 299.9L774.5 301.3L777.2 302.9L779.6 304.7L781.6 306.7L783.2 309L784.5 311.5L785.5 314.2L786 317.3Z" fill="url(#rim)"/><path d="M786.2 321.5L786 327.2L785.6 330.5L784.8 333.2L783.7 335.6L782.4 337.6L780.7 339.4L778.7 341L776.3 342.4L773.7 343.5L770.6 344.4L767.1 345.2L763.1 345.7L758.2 346L749.7 344.9L741.2 346L736.3 345.7L732.3 345.2L728.8 344.4L725.7 343.5L723.1 342.4L720.7 341L718.7 339.4L717 337.6L715.7 335.6L714.6 333.2L713.8 330.5L713.4 327.2L713.2 321.5L713.4 317.3L713.9 314.2L714.9 311.5L716.2 309L717.8 306.7L719.8 304.7L722.2 302.9L724.9 301.3L727.9 299.9L731.2 298.8L734.9 297.9L739 297.3L743.6 297L749.7 297.7L755.8 297L760.4 297.3L764.5 297.9L768.2 298.8L771.5 299.9L774.5 301.3L777.2 302.9L779.6 304.7L781.6 306.7L783.2 309L784.5 311.5L785.5 314.2L786 317.3Z" fill="none" stroke="#7a1020" stroke-width="2.2" opacity="0.3"/>
<path d="M893.5 329.2L893.4 334.8L892.9 338.1L892.2 340.7L891.1 343L889.8 345L888.1 346.8L886.1 348.3L883.9 349.7L881.2 350.8L878.3 351.7L874.9 352.4L870.9 352.9L866.1 353.2L857.8 352.1L849.5 353.2L844.7 352.9L840.7 352.4L837.3 351.7L834.4 350.8L831.7 349.7L829.5 348.3L827.5 346.8L825.8 345L824.5 343L823.4 340.7L822.7 338.1L822.2 334.8L822.1 329.3L822.3 325.2L822.8 322.2L823.7 319.5L825 317.1L826.6 314.9L828.6 312.9L830.9 311.1L833.5 309.6L836.5 308.3L839.7 307.2L843.3 306.3L847.3 305.7L851.8 305.3L857.8 306L863.8 305.3L868.3 305.7L872.3 306.3L875.9 307.2L879.1 308.3L882.1 309.6L884.7 311.1L887 312.9L889 314.9L890.6 317.1L891.9 319.5L892.8 322.2L893.3 325.2Z" fill="url(#g17)"/><ellipse cx="868.5" cy="331.2" rx="10.1" ry="10.1" fill="none" stroke="#f3a0a8" stroke-width="2.6" opacity="0.5"/><path d="M854.9 324.4Q870.7 311.9 884.9 330.2" fill="none" stroke="#f6b6bb" stroke-width="2.2" opacity="0.45"/><ellipse cx="868.5" cy="345.6" rx="14.3" ry="3.4" fill="#f3a5ab" opacity="0.4"/><path d="M893.5 329.2L893.4 334.8L892.9 338.1L892.2 340.7L891.1 343L889.8 345L888.1 346.8L886.1 348.3L883.9 349.7L881.2 350.8L878.3 351.7L874.9 352.4L870.9 352.9L866.1 353.2L857.8 352.1L849.5 353.2L844.7 352.9L840.7 352.4L837.3 351.7L834.4 350.8L831.7 349.7L829.5 348.3L827.5 346.8L825.8 345L824.5 343L823.4 340.7L822.7 338.1L822.2 334.8L822.1 329.3L822.3 325.2L822.8 322.2L823.7 319.5L825 317.1L826.6 314.9L828.6 312.9L830.9 311.1L833.5 309.6L836.5 308.3L839.7 307.2L843.3 306.3L847.3 305.7L851.8 305.3L857.8 306L863.8 305.3L868.3 305.7L872.3 306.3L875.9 307.2L879.1 308.3L882.1 309.6L884.7 311.1L887 312.9L889 314.9L890.6 317.1L891.9 319.5L892.8 322.2L893.3 325.2Z" fill="url(#rim)"/><path d="M893.5 329.2L893.4 334.8L892.9 338.1L892.2 340.7L891.1 343L889.8 345L888.1 346.8L886.1 348.3L883.9 349.7L881.2 350.8L878.3 351.7L874.9 352.4L870.9 352.9L866.1 353.2L857.8 352.1L849.5 353.2L844.7 352.9L840.7 352.4L837.3 351.7L834.4 350.8L831.7 349.7L829.5 348.3L827.5 346.8L825.8 345L824.5 343L823.4 340.7L822.7 338.1L822.2 334.8L822.1 329.3L822.3 325.2L822.8 322.2L823.7 319.5L825 317.1L826.6 314.9L828.6 312.9L830.9 311.1L833.5 309.6L836.5 308.3L839.7 307.2L843.3 306.3L847.3 305.7L851.8 305.3L857.8 306L863.8 305.3L868.3 305.7L872.3 306.3L875.9 307.2L879.1 308.3L882.1 309.6L884.7 311.1L887 312.9L889 314.9L890.6 317.1L891.9 319.5L892.8 322.2L893.3 325.2Z" fill="none" stroke="#7a1020" stroke-width="2.2" opacity="0.3"/>
<path d="M1004.3 321L1004.1 326.2L1003.7 329.2L1002.9 331.7L1001.9 333.8L1000.5 335.7L998.9 337.3L996.9 338.8L994.6 340L992 341L989 341.9L985.6 342.6L981.6 343L976.8 343.3L968.5 342.3L960.1 343.3L955.3 343L951.3 342.6L947.9 341.9L944.9 341L942.3 340L940 338.8L938 337.3L936.4 335.7L935 333.8L934 331.7L933.2 329.2L932.8 326.2L932.6 321L932.8 317.3L933.3 314.4L934.3 311.9L935.5 309.7L937.2 307.6L939.1 305.8L941.4 304.1L944.1 302.7L947 301.4L950.3 300.4L953.9 299.6L957.9 299.1L962.4 298.7L968.4 299.4L974.5 298.7L979 299.1L983 299.6L986.6 300.4L989.9 301.4L992.8 302.7L995.5 304.1L997.8 305.8L999.7 307.6L1001.4 309.7L1002.6 311.9L1003.6 314.4L1004.1 317.3Z" fill="#d93c50"/><ellipse cx="948.4" cy="323.2" rx="14.3" ry="13.4" fill="#f0dfb2" opacity="0.9"/><ellipse cx="938.3" cy="318.8" rx="6.5" ry="9" fill="#f0dfb2" opacity="0.9"/><ellipse cx="958.4" cy="321" rx="7.2" ry="9" fill="#f0dfb2" opacity="0.8"/><ellipse cx="979.2" cy="322.8" rx="9.4" ry="9.4" fill="none" stroke="#f3a0a8" stroke-width="2.6" opacity="0.5"/><ellipse cx="959.1" cy="322.8" rx="9.4" ry="9.4" fill="none" stroke="#f3a0a8" stroke-width="2.6" opacity="0.4"/><path d="M965.6 316.5Q981.4 304.9 995.7 321.9" fill="none" stroke="#f6b6bb" stroke-width="2.2" opacity="0.45"/><ellipse cx="979.2" cy="336.2" rx="14.3" ry="3.1" fill="#f3a5ab" opacity="0.4"/><path d="M1004.3 321L1004.1 326.2L1003.7 329.2L1002.9 331.7L1001.9 333.8L1000.5 335.7L998.9 337.3L996.9 338.8L994.6 340L992 341L989 341.9L985.6 342.6L981.6 343L976.8 343.3L968.5 342.3L960.1 343.3L955.3 343L951.3 342.6L947.9 341.9L944.9 341L942.3 340L940 338.8L938 337.3L936.4 335.7L935 333.8L934 331.7L933.2 329.2L932.8 326.2L932.6 321L932.8 317.3L933.3 314.4L934.3 311.9L935.5 309.7L937.2 307.6L939.1 305.8L941.4 304.1L944.1 302.7L947 301.4L950.3 300.4L953.9 299.6L957.9 299.1L962.4 298.7L968.4 299.4L974.5 298.7L979 299.1L983 299.6L986.6 300.4L989.9 301.4L992.8 302.7L995.5 304.1L997.8 305.8L999.7 307.6L1001.4 309.7L1002.6 311.9L1003.6 314.4L1004.1 317.3Z" fill="url(#rim)"/><path d="M1004.3 321L1004.1 326.2L1003.7 329.2L1002.9 331.7L1001.9 333.8L1000.5 335.7L998.9 337.3L996.9 338.8L994.6 340L992 341L989 341.9L985.6 342.6L981.6 343L976.8 343.3L968.5 342.3L960.1 343.3L955.3 343L951.3 342.6L947.9 341.9L944.9 341L942.3 340L940 338.8L938 337.3L936.4 335.7L935 333.8L934 331.7L933.2 329.2L932.8 326.2L932.6 321L932.8 317.3L933.3 314.4L934.3 311.9L935.5 309.7L937.2 307.6L939.1 305.8L941.4 304.1L944.1 302.7L947 301.4L950.3 300.4L953.9 299.6L957.9 299.1L962.4 298.7L968.4 299.4L974.5 298.7L979 299.1L983 299.6L986.6 300.4L989.9 301.4L992.8 302.7L995.5 304.1L997.8 305.8L999.7 307.6L1001.4 309.7L1002.6 311.9L1003.6 314.4L1004.1 317.3Z" fill="none" stroke="#7a1020" stroke-width="2.2" opacity="0.3"/>
<path d="M103.1 438.2L102.9 444.1L102.4 447.5L101.6 450.3L100.5 452.8L99 454.9L97.2 456.7L95.1 458.4L92.6 459.8L89.7 460.9L86.5 461.9L82.7 462.6L78.4 463.2L73.2 463.5L64.1 462.1L55 463.5L49.8 463.2L45.5 462.6L41.7 461.9L38.5 460.9L35.6 459.8L33.1 458.4L31 456.7L29.2 454.9L27.7 452.8L26.6 450.3L25.8 447.5L25.3 444.1L25.1 438.2L25.3 433.9L25.9 430.8L26.9 427.9L28.3 425.4L30.1 423L32.2 420.9L34.7 419.1L37.6 417.4L40.8 416L44.4 414.9L48.3 414L52.7 413.3L57.6 413L64.1 413.7L70.6 413L75.5 413.3L79.9 414L83.8 414.9L87.4 416L90.6 417.4L93.5 419.1L96 420.9L98.1 423L99.9 425.4L101.3 427.9L102.3 430.8L102.9 433.9Z" fill="url(#g18)"/><ellipse cx="75.8" cy="440.2" rx="10.7" ry="10.7" fill="none" stroke="#f3a0a8" stroke-width="2.6" opacity="0.5"/><path d="M61 433.1Q78.1 419.9 93.7 439.2" fill="none" stroke="#f6b6bb" stroke-width="2.2" opacity="0.45"/><ellipse cx="75.8" cy="455.5" rx="15.6" ry="3.6" fill="#f3a5ab" opacity="0.4"/><path d="M103.1 438.2L102.9 444.1L102.4 447.5L101.6 450.3L100.5 452.8L99 454.9L97.2 456.7L95.1 458.4L92.6 459.8L89.7 460.9L86.5 461.9L82.7 462.6L78.4 463.2L73.2 463.5L64.1 462.1L55 463.5L49.8 463.2L45.5 462.6L41.7 461.9L38.5 460.9L35.6 459.8L33.1 458.4L31 456.7L29.2 454.9L27.7 452.8L26.6 450.3L25.8 447.5L25.3 444.1L25.1 438.2L25.3 433.9L25.9 430.8L26.9 427.9L28.3 425.4L30.1 423L32.2 420.9L34.7 419.1L37.6 417.4L40.8 416L44.4 414.9L48.3 414L52.7 413.3L57.6 413L64.1 413.7L70.6 413L75.5 413.3L79.9 414L83.8 414.9L87.4 416L90.6 417.4L93.5 419.1L96 420.9L98.1 423L99.9 425.4L101.3 427.9L102.3 430.8L102.9 433.9Z" fill="url(#rim)"/><path d="M103.1 438.2L102.9 444.1L102.4 447.5L101.6 450.3L100.5 452.8L99 454.9L97.2 456.7L95.1 458.4L92.6 459.8L89.7 460.9L86.5 461.9L82.7 462.6L78.4 463.2L73.2 463.5L64.1 462.1L55 463.5L49.8 463.2L45.5 462.6L41.7 461.9L38.5 460.9L35.6 459.8L33.1 458.4L31 456.7L29.2 454.9L27.7 452.8L26.6 450.3L25.8 447.5L25.3 444.1L25.1 438.2L25.3 433.9L25.9 430.8L26.9 427.9L28.3 425.4L30.1 423L32.2 420.9L34.7 419.1L37.6 417.4L40.8 416L44.4 414.9L48.3 414L52.7 413.3L57.6 413L64.1 413.7L70.6 413L75.5 413.3L79.9 414L83.8 414.9L87.4 416L90.6 417.4L93.5 419.1L96 420.9L98.1 423L99.9 425.4L101.3 427.9L102.3 430.8L102.9 433.9Z" fill="none" stroke="#7a1020" stroke-width="2.2" opacity="0.3"/>
<path d="M218.8 438.5L218.6 444.5L218.1 448L217.3 450.9L216.2 453.4L214.7 455.6L212.9 457.5L210.8 459.1L208.3 460.6L205.4 461.8L202.2 462.8L198.4 463.5L194.1 464.1L188.9 464.4L179.8 462.2L170.7 464.4L165.5 464.1L161.2 463.5L157.4 462.8L154.2 461.8L151.3 460.6L148.8 459.1L146.7 457.5L144.9 455.6L143.4 453.4L142.3 450.9L141.5 448L141 444.5L140.8 438.5L141 434.1L141.6 430.9L142.6 428L144 425.3L145.8 423L147.9 420.8L150.4 418.9L153.3 417.2L156.5 415.8L160.1 414.6L164 413.7L168.4 413L173.3 412.7L179.8 413.4L186.3 412.7L191.2 413L195.6 413.7L199.5 414.6L203.1 415.8L206.3 417.2L209.2 418.9L211.7 420.8L213.8 423L215.6 425.3L217 428L218 430.9L218.6 434.1Z" fill="url(#g19)"/><ellipse cx="191.5" cy="440.6" rx="10.9" ry="10.9" fill="none" stroke="#f3a0a8" stroke-width="2.6" opacity="0.5"/><ellipse cx="169.7" cy="440.6" rx="10.9" ry="10.9" fill="none" stroke="#f3a0a8" stroke-width="2.6" opacity="0.4"/><path d="M176.7 433.3Q193.8 419.8 209.4 439.5" fill="none" stroke="#f6b6bb" stroke-width="2.2" opacity="0.45"/><ellipse cx="191.5" cy="456.2" rx="15.6" ry="3.6" fill="#f3a5ab" opacity="0.4"/><path d="M218.8 438.5L218.6 444.5L218.1 448L217.3 450.9L216.2 453.4L214.7 455.6L212.9 457.5L210.8 459.1L208.3 460.6L205.4 461.8L202.2 462.8L198.4 463.5L194.1 464.1L188.9 464.4L179.8 462.2L170.7 464.4L165.5 464.1L161.2 463.5L157.4 462.8L154.2 461.8L151.3 460.6L148.8 459.1L146.7 457.5L144.9 455.6L143.4 453.4L142.3 450.9L141.5 448L141 444.5L140.8 438.5L141 434.1L141.6 430.9L142.6 428L144 425.3L145.8 423L147.9 420.8L150.4 418.9L153.3 417.2L156.5 415.8L160.1 414.6L164 413.7L168.4 413L173.3 412.7L179.8 413.4L186.3 412.7L191.2 413L195.6 413.7L199.5 414.6L203.1 415.8L206.3 417.2L209.2 418.9L211.7 420.8L213.8 423L215.6 425.3L217 428L218 430.9L218.6 434.1Z" fill="url(#rim)"/><path d="M218.8 438.5L218.6 444.5L218.1 448L217.3 450.9L216.2 453.4L214.7 455.6L212.9 457.5L210.8 459.1L208.3 460.6L205.4 461.8L202.2 462.8L198.4 463.5L194.1 464.1L188.9 464.4L179.8 462.2L170.7 464.4L165.5 464.1L161.2 463.5L157.4 462.8L154.2 461.8L151.3 460.6L148.8 459.1L146.7 457.5L144.9 455.6L143.4 453.4L142.3 450.9L141.5 448L141 444.5L140.8 438.5L141 434.1L141.6 430.9L142.6 428L144 425.3L145.8 423L147.9 420.8L150.4 418.9L153.3 417.2L156.5 415.8L160.1 414.6L164 413.7L168.4 413L173.3 412.7L179.8 413.4L186.3 412.7L191.2 413L195.6 413.7L199.5 414.6L203.1 415.8L206.3 417.2L209.2 418.9L211.7 420.8L213.8 423L215.6 425.3L217 428L218 430.9L218.6 434.1Z" fill="none" stroke="#7a1020" stroke-width="2.2" opacity="0.3"/>
<path d="M335.4 440L335.2 445.9L334.8 449.3L334 452.1L332.8 454.6L331.4 456.7L329.6 458.5L327.5 460.2L325.1 461.6L322.3 462.7L319.1 463.7L315.5 464.4L311.3 465L306.2 465.3L297.3 463.9L288.4 465.3L283.3 465L279.1 464.4L275.5 463.7L272.3 462.7L269.5 461.6L267.1 460.2L265 458.5L263.2 456.7L261.8 454.6L260.6 452.1L259.8 449.3L259.4 445.9L259.2 440L259.4 435.7L260 432.6L261 429.7L262.3 427.2L264 424.8L266.1 422.7L268.6 420.9L271.4 419.2L274.5 417.8L278 416.7L281.9 415.8L286.1 415.1L290.9 414.8L297.3 415.5L303.7 414.8L308.5 415.1L312.7 415.8L316.6 416.7L320.1 417.8L323.2 419.2L326 420.9L328.5 422.7L330.6 424.8L332.3 427.2L333.6 429.7L334.6 432.6L335.2 435.7Z" fill="url(#g20)"/><ellipse cx="308.7" cy="442" rx="10.7" ry="10.7" fill="none" stroke="#f3a0a8" stroke-width="2.6" opacity="0.5"/><path d="M294.3 434.9Q311 421.7 326.3 441" fill="none" stroke="#f6b6bb" stroke-width="2.2" opacity="0.45"/><ellipse cx="308.7" cy="457.3" rx="15.2" ry="3.6" fill="#f3a5ab" opacity="0.4"/><path d="M335.4 440L335.2 445.9L334.8 449.3L334 452.1L332.8 454.6L331.4 456.7L329.6 458.5L327.5 460.2L325.1 461.6L322.3 462.7L319.1 463.7L315.5 464.4L311.3 465L306.2 465.3L297.3 463.9L288.4 465.3L283.3 465L279.1 464.4L275.5 463.7L272.3 462.7L269.5 461.6L267.1 460.2L265 458.5L263.2 456.7L261.8 454.6L260.6 452.1L259.8 449.3L259.4 445.9L259.2 440L259.4 435.7L260 432.6L261 429.7L262.3 427.2L264 424.8L266.1 422.7L268.6 420.9L271.4 419.2L274.5 417.8L278 416.7L281.9 415.8L286.1 415.1L290.9 414.8L297.3 415.5L303.7 414.8L308.5 415.1L312.7 415.8L316.6 416.7L320.1 417.8L323.2 419.2L326 420.9L328.5 422.7L330.6 424.8L332.3 427.2L333.6 429.7L334.6 432.6L335.2 435.7Z" fill="url(#rim)"/><path d="M335.4 440L335.2 445.9L334.8 449.3L334 452.1L332.8 454.6L331.4 456.7L329.6 458.5L327.5 460.2L325.1 461.6L322.3 462.7L319.1 463.7L315.5 464.4L311.3 465L306.2 465.3L297.3 463.9L288.4 465.3L283.3 465L279.1 464.4L275.5 463.7L272.3 462.7L269.5 461.6L267.1 460.2L265 458.5L263.2 456.7L261.8 454.6L260.6 452.1L259.8 449.3L259.4 445.9L259.2 440L259.4 435.7L260 432.6L261 429.7L262.3 427.2L264 424.8L266.1 422.7L268.6 420.9L271.4 419.2L274.5 417.8L278 416.7L281.9 415.8L286.1 415.1L290.9 414.8L297.3 415.5L303.7 414.8L308.5 415.1L312.7 415.8L316.6 416.7L320.1 417.8L323.2 419.2L326 420.9L328.5 422.7L330.6 424.8L332.3 427.2L333.6 429.7L334.6 432.6L335.2 435.7Z" fill="none" stroke="#7a1020" stroke-width="2.2" opacity="0.3"/>
<path d="M445.8 441.2L445.6 447.2L445.1 450.7L444.3 453.6L443.1 456.1L441.6 458.3L439.7 460.2L437.5 461.8L434.9 463.3L431.9 464.5L428.6 465.5L424.7 466.2L420.3 466.8L414.8 467.1L405.5 465.6L396.1 467.1L390.6 466.8L386.2 466.2L382.3 465.5L379 464.5L376 463.3L373.4 461.8L371.2 460.2L369.3 458.3L367.8 456.1L366.6 453.6L365.8 450.7L365.3 447.2L365.1 441.2L365.3 436.8L365.9 433.6L367 430.7L368.4 428L370.2 425.7L372.4 423.5L375 421.6L378 419.9L381.3 418.5L385 417.3L389.1 416.4L393.6 415.7L398.7 415.4L405.4 416.1L412.2 415.4L417.3 415.7L421.8 416.4L425.9 417.3L429.6 418.5L432.9 419.9L435.9 421.6L438.5 423.5L440.7 425.7L442.5 428L443.9 430.7L445 433.6L445.6 436.8Z" fill="url(#g21)"/><ellipse cx="417.6" cy="443.3" rx="10.9" ry="10.9" fill="none" stroke="#f3a0a8" stroke-width="2.6" opacity="0.5"/><path d="M402.2 436Q420 422.5 436.1 442.2" fill="none" stroke="#f6b6bb" stroke-width="2.2" opacity="0.45"/><ellipse cx="417.6" cy="458.9" rx="16.1" ry="3.6" fill="#f3a5ab" opacity="0.4"/><path d="M445.8 441.2L445.6 447.2L445.1 450.7L444.3 453.6L443.1 456.1L441.6 458.3L439.7 460.2L437.5 461.8L434.9 463.3L431.9 464.5L428.6 465.5L424.7 466.2L420.3 466.8L414.8 467.1L405.5 465.6L396.1 467.1L390.6 466.8L386.2 466.2L382.3 465.5L379 464.5L376 463.3L373.4 461.8L371.2 460.2L369.3 458.3L367.8 456.1L366.6 453.6L365.8 450.7L365.3 447.2L365.1 441.2L365.3 436.8L365.9 433.6L367 430.7L368.4 428L370.2 425.7L372.4 423.5L375 421.6L378 419.9L381.3 418.5L385 417.3L389.1 416.4L393.6 415.7L398.7 415.4L405.4 416.1L412.2 415.4L417.3 415.7L421.8 416.4L425.9 417.3L429.6 418.5L432.9 419.9L435.9 421.6L438.5 423.5L440.7 425.7L442.5 428L443.9 430.7L445 433.6L445.6 436.8Z" fill="url(#rim)"/><path d="M445.8 441.2L445.6 447.2L445.1 450.7L444.3 453.6L443.1 456.1L441.6 458.3L439.7 460.2L437.5 461.8L434.9 463.3L431.9 464.5L428.6 465.5L424.7 466.2L420.3 466.8L414.8 467.1L405.5 465.6L396.1 467.1L390.6 466.8L386.2 466.2L382.3 465.5L379 464.5L376 463.3L373.4 461.8L371.2 460.2L369.3 458.3L367.8 456.1L366.6 453.6L365.8 450.7L365.3 447.2L365.1 441.2L365.3 436.8L365.9 433.6L367 430.7L368.4 428L370.2 425.7L372.4 423.5L375 421.6L378 419.9L381.3 418.5L385 417.3L389.1 416.4L393.6 415.7L398.7 415.4L405.4 416.1L412.2 415.4L417.3 415.7L421.8 416.4L425.9 417.3L429.6 418.5L432.9 419.9L435.9 421.6L438.5 423.5L440.7 425.7L442.5 428L443.9 430.7L445 433.6L445.6 436.8Z" fill="none" stroke="#7a1020" stroke-width="2.2" opacity="0.3"/>
<path d="M557.9 441.1L557.7 447L557.3 450.4L556.4 453.2L555.3 455.6L553.9 457.7L552.1 459.5L549.9 461.1L547.5 462.5L544.7 463.7L541.4 464.6L537.8 465.4L533.5 465.9L528.3 466.2L519.4 465L510.4 466.2L505.2 465.9L500.9 465.4L497.3 464.6L494 463.7L491.2 462.5L488.8 461.1L486.6 459.5L484.8 457.7L483.4 455.6L482.3 453.2L481.4 450.4L481 447L480.8 441.2L481 436.9L481.6 433.8L482.6 431L483.9 428.4L485.7 426.1L487.8 424L490.3 422.2L493.1 420.6L496.3 419.2L499.9 418.1L503.7 417.2L508 416.5L512.9 416.2L519.3 416.9L525.8 416.2L530.7 416.5L535 417.2L538.8 418.1L542.4 419.2L545.6 420.6L548.4 422.2L550.9 424L553 426.1L554.8 428.4L556.1 431L557.1 433.8L557.7 436.9Z" fill="url(#g22)"/><ellipse cx="530.9" cy="443.2" rx="10.6" ry="10.6" fill="none" stroke="#f3a0a8" stroke-width="2.6" opacity="0.5"/><path d="M516.3 436.1Q533.2 423 548.6 442.2" fill="none" stroke="#f6b6bb" stroke-width="2.2" opacity="0.45"/><ellipse cx="530.9" cy="458.3" rx="15.4" ry="3.5" fill="#f3a5ab" opacity="0.4"/><path d="M557.9 441.1L557.7 447L557.3 450.4L556.4 453.2L555.3 455.6L553.9 457.7L552.1 459.5L549.9 461.1L547.5 462.5L544.7 463.7L541.4 464.6L537.8 465.4L533.5 465.9L528.3 466.2L519.4 465L510.4 466.2L505.2 465.9L500.9 465.4L497.3 464.6L494 463.7L491.2 462.5L488.8 461.1L486.6 459.5L484.8 457.7L483.4 455.6L482.3 453.2L481.4 450.4L481 447L480.8 441.2L481 436.9L481.6 433.8L482.6 431L483.9 428.4L485.7 426.1L487.8 424L490.3 422.2L493.1 420.6L496.3 419.2L499.9 418.1L503.7 417.2L508 416.5L512.9 416.2L519.3 416.9L525.8 416.2L530.7 416.5L535 417.2L538.8 418.1L542.4 419.2L545.6 420.6L548.4 422.2L550.9 424L553 426.1L554.8 428.4L556.1 431L557.1 433.8L557.7 436.9Z" fill="url(#rim)"/><path d="M557.9 441.1L557.7 447L557.3 450.4L556.4 453.2L555.3 455.6L553.9 457.7L552.1 459.5L549.9 461.1L547.5 462.5L544.7 463.7L541.4 464.6L537.8 465.4L533.5 465.9L528.3 466.2L519.4 465L510.4 466.2L505.2 465.9L500.9 465.4L497.3 464.6L494 463.7L491.2 462.5L488.8 461.1L486.6 459.5L484.8 457.7L483.4 455.6L482.3 453.2L481.4 450.4L481 447L480.8 441.2L481 436.9L481.6 433.8L482.6 431L483.9 428.4L485.7 426.1L487.8 424L490.3 422.2L493.1 420.6L496.3 419.2L499.9 418.1L503.7 417.2L508 416.5L512.9 416.2L519.3 416.9L525.8 416.2L530.7 416.5L535 417.2L538.8 418.1L542.4 419.2L545.6 420.6L548.4 422.2L550.9 424L553 426.1L554.8 428.4L556.1 431L557.1 433.8L557.7 436.9Z" fill="none" stroke="#7a1020" stroke-width="2.2" opacity="0.3"/>
<path d="M668.6 437.3L668.4 443L668 446.3L667.2 449L666 451.3L664.6 453.4L662.8 455.2L660.7 456.7L658.3 458.1L655.4 459.2L652.3 460.2L648.6 460.9L644.4 461.4L639.2 461.7L630.3 460.6L621.4 461.7L616.2 461.4L612 460.9L608.3 460.2L605.2 459.2L602.3 458.1L599.9 456.7L597.8 455.2L596 453.4L594.6 451.3L593.4 449L592.6 446.3L592.2 443L592 437.3L592.2 433.2L592.8 430.1L593.8 427.4L595.1 424.9L596.9 422.7L599 420.6L601.4 418.8L604.3 417.3L607.4 415.9L610.9 414.8L614.8 413.9L619.1 413.3L623.9 413L630.3 413.7L636.7 413L641.5 413.3L645.8 413.9L649.7 414.8L653.2 415.9L656.3 417.3L659.2 418.8L661.6 420.6L663.7 422.7L665.5 424.9L666.8 427.4L667.8 430.1L668.4 433.2Z" fill="url(#g23)"/><ellipse cx="641.8" cy="439.3" rx="10.3" ry="10.3" fill="none" stroke="#f3a0a8" stroke-width="2.6" opacity="0.5"/><path d="M627.2 432.4Q644.1 419.7 659.4 438.3" fill="none" stroke="#f6b6bb" stroke-width="2.2" opacity="0.45"/><ellipse cx="641.8" cy="454" rx="15.3" ry="3.4" fill="#f3a5ab" opacity="0.4"/><path d="M668.6 437.3L668.4 443L668 446.3L667.2 449L666 451.3L664.6 453.4L662.8 455.2L660.7 456.7L658.3 458.1L655.4 459.2L652.3 460.2L648.6 460.9L644.4 461.4L639.2 461.7L630.3 460.6L621.4 461.7L616.2 461.4L612 460.9L608.3 460.2L605.2 459.2L602.3 458.1L599.9 456.7L597.8 455.2L596 453.4L594.6 451.3L593.4 449L592.6 446.3L592.2 443L592 437.3L592.2 433.2L592.8 430.1L593.8 427.4L595.1 424.9L596.9 422.7L599 420.6L601.4 418.8L604.3 417.3L607.4 415.9L610.9 414.8L614.8 413.9L619.1 413.3L623.9 413L630.3 413.7L636.7 413L641.5 413.3L645.8 413.9L649.7 414.8L653.2 415.9L656.3 417.3L659.2 418.8L661.6 420.6L663.7 422.7L665.5 424.9L666.8 427.4L667.8 430.1L668.4 433.2Z" fill="url(#rim)"/><path d="M668.6 437.3L668.4 443L668 446.3L667.2 449L666 451.3L664.6 453.4L662.8 455.2L660.7 456.7L658.3 458.1L655.4 459.2L652.3 460.2L648.6 460.9L644.4 461.4L639.2 461.7L630.3 460.6L621.4 461.7L616.2 461.4L612 460.9L608.3 460.2L605.2 459.2L602.3 458.1L599.9 456.7L597.8 455.2L596 453.4L594.6 451.3L593.4 449L592.6 446.3L592.2 443L592 437.3L592.2 433.2L592.8 430.1L593.8 427.4L595.1 424.9L596.9 422.7L599 420.6L601.4 418.8L604.3 417.3L607.4 415.9L610.9 414.8L614.8 413.9L619.1 413.3L623.9 413L630.3 413.7L636.7 413L641.5 413.3L645.8 413.9L649.7 414.8L653.2 415.9L656.3 417.3L659.2 418.8L661.6 420.6L663.7 422.7L665.5 424.9L666.8 427.4L667.8 430.1L668.4 433.2Z" fill="none" stroke="#7a1020" stroke-width="2.2" opacity="0.3"/>
<path d="M787.6 439.6L787.4 445.3L786.9 448.7L786 451.5L784.8 453.8L783.2 455.9L781.3 457.8L779 459.4L776.3 460.7L773.3 461.9L769.8 462.8L765.8 463.6L761.2 464.1L755.6 464.4L745.9 463.3L736.2 464.4L730.6 464.1L726 463.6L722 462.8L718.5 461.9L715.5 460.7L712.8 459.4L710.5 457.8L708.6 455.9L707 453.8L705.8 451.5L704.9 448.7L704.4 445.3L704.2 439.6L704.4 435.4L705.1 432.2L706.1 429.5L707.6 426.9L709.5 424.6L711.8 422.6L714.5 420.7L717.5 419.1L721 417.8L724.8 416.6L729 415.7L733.7 415.1L738.9 414.8L745.9 415.5L752.9 414.8L758.1 415.1L762.8 415.7L767 416.6L770.8 417.8L774.3 419.1L777.3 420.7L780 422.6L782.3 424.6L784.2 426.9L785.7 429.5L786.7 432.2L787.4 435.4Z" fill="url(#g24)"/><ellipse cx="758.4" cy="441.5" rx="10.5" ry="10.5" fill="none" stroke="#f3a0a8" stroke-width="2.6" opacity="0.5"/><path d="M742.6 434.6Q760.9 421.6 777.6 440.5" fill="none" stroke="#f6b6bb" stroke-width="2.2" opacity="0.45"/><ellipse cx="758.4" cy="456.5" rx="16.7" ry="3.5" fill="#f3a5ab" opacity="0.4"/><path d="M787.6 439.6L787.4 445.3L786.9 448.7L786 451.5L784.8 453.8L783.2 455.9L781.3 457.8L779 459.4L776.3 460.7L773.3 461.9L769.8 462.8L765.8 463.6L761.2 464.1L755.6 464.4L745.9 463.3L736.2 464.4L730.6 464.1L726 463.6L722 462.8L718.5 461.9L715.5 460.7L712.8 459.4L710.5 457.8L708.6 455.9L707 453.8L705.8 451.5L704.9 448.7L704.4 445.3L704.2 439.6L704.4 435.4L705.1 432.2L706.1 429.5L707.6 426.9L709.5 424.6L711.8 422.6L714.5 420.7L717.5 419.1L721 417.8L724.8 416.6L729 415.7L733.7 415.1L738.9 414.8L745.9 415.5L752.9 414.8L758.1 415.1L762.8 415.7L767 416.6L770.8 417.8L774.3 419.1L777.3 420.7L780 422.6L782.3 424.6L784.2 426.9L785.7 429.5L786.7 432.2L787.4 435.4Z" fill="url(#rim)"/><path d="M787.6 439.6L787.4 445.3L786.9 448.7L786 451.5L784.8 453.8L783.2 455.9L781.3 457.8L779 459.4L776.3 460.7L773.3 461.9L769.8 462.8L765.8 463.6L761.2 464.1L755.6 464.4L745.9 463.3L736.2 464.4L730.6 464.1L726 463.6L722 462.8L718.5 461.9L715.5 460.7L712.8 459.4L710.5 457.8L708.6 455.9L707 453.8L705.8 451.5L704.9 448.7L704.4 445.3L704.2 439.6L704.4 435.4L705.1 432.2L706.1 429.5L707.6 426.9L709.5 424.6L711.8 422.6L714.5 420.7L717.5 419.1L721 417.8L724.8 416.6L729 415.7L733.7 415.1L738.9 414.8L745.9 415.5L752.9 414.8L758.1 415.1L762.8 415.7L767 416.6L770.8 417.8L774.3 419.1L777.3 420.7L780 422.6L782.3 424.6L784.2 426.9L785.7 429.5L786.7 432.2L787.4 435.4Z" fill="none" stroke="#7a1020" stroke-width="2.2" opacity="0.3"/>
<path d="M896.1 441.8L895.9 447.7L895.5 451.1L894.6 453.9L893.5 456.4L892.1 458.5L890.3 460.3L888.1 462L885.7 463.4L882.9 464.5L879.6 465.5L876 466.2L871.7 466.8L866.5 467.1L857.6 465.9L848.6 467.1L843.4 466.8L839.1 466.2L835.5 465.5L832.2 464.5L829.4 463.4L827 462L824.8 460.3L823 458.5L821.6 456.4L820.5 453.9L819.6 451.1L819.2 447.7L819 441.8L819.2 437.5L819.8 434.4L820.8 431.5L822.1 429L823.9 426.6L826 424.5L828.5 422.7L831.3 421L834.5 419.6L838.1 418.5L841.9 417.6L846.2 416.9L851.1 416.6L857.5 417.3L864 416.6L868.9 416.9L873.2 417.6L877 418.5L880.6 419.6L883.8 421L886.6 422.7L889.1 424.5L891.2 426.6L893 429L894.3 431.5L895.3 434.4L895.9 437.5Z" fill="url(#g25)"/><ellipse cx="869.1" cy="443.8" rx="10.7" ry="10.7" fill="none" stroke="#f3a0a8" stroke-width="2.6" opacity="0.5"/><path d="M854.5 436.7Q871.4 423.5 886.8 442.8" fill="none" stroke="#f6b6bb" stroke-width="2.2" opacity="0.45"/><ellipse cx="869.1" cy="459.1" rx="15.4" ry="3.6" fill="#f3a5ab" opacity="0.4"/><path d="M896.1 441.8L895.9 447.7L895.5 451.1L894.6 453.9L893.5 456.4L892.1 458.5L890.3 460.3L888.1 462L885.7 463.4L882.9 464.5L879.6 465.5L876 466.2L871.7 466.8L866.5 467.1L857.6 465.9L848.6 467.1L843.4 466.8L839.1 466.2L835.5 465.5L832.2 464.5L829.4 463.4L827 462L824.8 460.3L823 458.5L821.6 456.4L820.5 453.9L819.6 451.1L819.2 447.7L819 441.8L819.2 437.5L819.8 434.4L820.8 431.5L822.1 429L823.9 426.6L826 424.5L828.5 422.7L831.3 421L834.5 419.6L838.1 418.5L841.9 417.6L846.2 416.9L851.1 416.6L857.5 417.3L864 416.6L868.9 416.9L873.2 417.6L877 418.5L880.6 419.6L883.8 421L886.6 422.7L889.1 424.5L891.2 426.6L893 429L894.3 431.5L895.3 434.4L895.9 437.5Z" fill="url(#rim)"/><path d="M896.1 441.8L895.9 447.7L895.5 451.1L894.6 453.9L893.5 456.4L892.1 458.5L890.3 460.3L888.1 462L885.7 463.4L882.9 464.5L879.6 465.5L876 466.2L871.7 466.8L866.5 467.1L857.6 465.9L848.6 467.1L843.4 466.8L839.1 466.2L835.5 465.5L832.2 464.5L829.4 463.4L827 462L824.8 460.3L823 458.5L821.6 456.4L820.5 453.9L819.6 451.1L819.2 447.7L819 441.8L819.2 437.5L819.8 434.4L820.8 431.5L822.1 429L823.9 426.6L826 424.5L828.5 422.7L831.3 421L834.5 419.6L838.1 418.5L841.9 417.6L846.2 416.9L851.1 416.6L857.5 417.3L864 416.6L868.9 416.9L873.2 417.6L877 418.5L880.6 419.6L883.8 421L886.6 422.7L889.1 424.5L891.2 426.6L893 429L894.3 431.5L895.3 434.4L895.9 437.5Z" fill="none" stroke="#7a1020" stroke-width="2.2" opacity="0.3"/>
<path d="M1006.8 438.9L1006.6 444.5L1006.1 447.7L1005.3 450.3L1004.1 452.6L1002.6 454.5L1000.8 456.3L998.6 457.8L996 459.1L993.1 460.2L989.8 461.1L986 461.8L981.6 462.3L976.2 462.6L967 461.5L957.8 462.6L952.4 462.3L948 461.8L944.2 461.1L940.9 460.2L938 459.1L935.4 457.8L933.2 456.3L931.4 454.5L929.9 452.6L928.7 450.3L927.9 447.7L927.4 444.5L927.2 439L927.4 435L928 432L929 429.3L930.4 426.9L932.3 424.8L934.4 422.8L937 421.1L939.9 419.5L943.2 418.2L946.9 417.1L950.9 416.3L955.3 415.7L960.3 415.3L967 416L973.7 415.3L978.7 415.7L983.1 416.3L987.1 417.1L990.8 418.2L994.1 419.5L997 421.1L999.6 422.8L1001.7 424.8L1003.6 426.9L1005 429.3L1006 432L1006.6 435Z" fill="#d13248"/><ellipse cx="951.1" cy="441.3" rx="11.1" ry="11.9" fill="#f2c8b0" opacity="0.8"/><ellipse cx="943.1" cy="434.2" rx="6.4" ry="5.7" fill="#f0b8a8" opacity="0.6"/><ellipse cx="978.9" cy="440.8" rx="10" ry="10" fill="none" stroke="#f3a0a8" stroke-width="2.6" opacity="0.5"/><ellipse cx="956.7" cy="440.8" rx="10" ry="10" fill="none" stroke="#f3a0a8" stroke-width="2.6" opacity="0.4"/><path d="M963.8 434.2Q981.3 421.8 997.2 439.9" fill="none" stroke="#f6b6bb" stroke-width="2.2" opacity="0.45"/><ellipse cx="978.9" cy="455.1" rx="15.9" ry="3.3" fill="#f3a5ab" opacity="0.4"/><path d="M1006.8 438.9L1006.6 444.5L1006.1 447.7L1005.3 450.3L1004.1 452.6L1002.6 454.5L1000.8 456.3L998.6 457.8L996 459.1L993.1 460.2L989.8 461.1L986 461.8L981.6 462.3L976.2 462.6L967 461.5L957.8 462.6L952.4 462.3L948 461.8L944.2 461.1L940.9 460.2L938 459.1L935.4 457.8L933.2 456.3L931.4 454.5L929.9 452.6L928.7 450.3L927.9 447.7L927.4 444.5L927.2 439L927.4 435L928 432L929 429.3L930.4 426.9L932.3 424.8L934.4 422.8L937 421.1L939.9 419.5L943.2 418.2L946.9 417.1L950.9 416.3L955.3 415.7L960.3 415.3L967 416L973.7 415.3L978.7 415.7L983.1 416.3L987.1 417.1L990.8 418.2L994.1 419.5L997 421.1L999.6 422.8L1001.7 424.8L1003.6 426.9L1005 429.3L1006 432L1006.6 435Z" fill="url(#rim)"/><path d="M1006.8 438.9L1006.6 444.5L1006.1 447.7L1005.3 450.3L1004.1 452.6L1002.6 454.5L1000.8 456.3L998.6 457.8L996 459.1L993.1 460.2L989.8 461.1L986 461.8L981.6 462.3L976.2 462.6L967 461.5L957.8 462.6L952.4 462.3L948 461.8L944.2 461.1L940.9 460.2L938 459.1L935.4 457.8L933.2 456.3L931.4 454.5L929.9 452.6L928.7 450.3L927.9 447.7L927.4 444.5L927.2 439L927.4 435L928 432L929 429.3L930.4 426.9L932.3 424.8L934.4 422.8L937 421.1L939.9 419.5L943.2 418.2L946.9 417.1L950.9 416.3L955.3 415.7L960.3 415.3L967 416L973.7 415.3L978.7 415.7L983.1 416.3L987.1 417.1L990.8 418.2L994.1 419.5L997 421.1L999.6 422.8L1001.7 424.8L1003.6 426.9L1005 429.3L1006 432L1006.6 435Z" fill="none" stroke="#7a1020" stroke-width="2.2" opacity="0.3"/>
<path d="M104.9 557.7L104.7 563.2L104.3 566.1L103.5 568.3L102.4 570.2L101 571.9L99.2 573.3L97.1 574.6L94.7 575.6L91.9 576.5L88.6 577.2L84.9 577.8L80.4 578.2L74.8 578.1L64 576.8L53.1 578.1L47.5 578.2L43 577.8L39.3 577.2L36 576.5L33.2 575.6L30.8 574.6L28.7 573.3L26.9 571.9L25.5 570.2L24.4 568.3L23.6 566.1L23.2 563.2L23 557.7L23.2 553.2L23.9 549.5L25 546L26.6 542.8L28.6 539.9L31 537.2L33.9 534.8L37 532.6L40.6 530.8L44.5 529.3L48.7 528.1L53.2 527.5L58.1 527.6L63.9 528.1L69.8 527.6L74.7 527.5L79.2 528.1L83.4 529.3L87.3 530.8L90.9 532.6L94 534.8L96.9 537.2L99.3 539.9L101.3 542.8L102.9 546L104 549.5L104.7 553.2Z" fill="#d13248"/><path d="M65.6 542.9C59.9 533.2 44.2 534.8 41.8 549.3C40.9 560.6 53.7 568.7 65.6 568.7C77.5 568.7 90.3 560.6 89.3 549.3C87 534.8 71.3 533.2 65.6 542.9Z" fill="none" stroke="#f6bcc0" stroke-width="5" opacity="0.6"/><path d="M31.2 568.1Q64 577.5 96.7 568.1" fill="none" stroke="#f4b0b6" stroke-width="3" opacity="0.4"/><path d="M104.9 557.7L104.7 563.2L104.3 566.1L103.5 568.3L102.4 570.2L101 571.9L99.2 573.3L97.1 574.6L94.7 575.6L91.9 576.5L88.6 577.2L84.9 577.8L80.4 578.2L74.8 578.1L64 576.8L53.1 578.1L47.5 578.2L43 577.8L39.3 577.2L36 576.5L33.2 575.6L30.8 574.6L28.7 573.3L26.9 571.9L25.5 570.2L24.4 568.3L23.6 566.1L23.2 563.2L23 557.7L23.2 553.2L23.9 549.5L25 546L26.6 542.8L28.6 539.9L31 537.2L33.9 534.8L37 532.6L40.6 530.8L44.5 529.3L48.7 528.1L53.2 527.5L58.1 527.6L63.9 528.1L69.8 527.6L74.7 527.5L79.2 528.1L83.4 529.3L87.3 530.8L90.9 532.6L94 534.8L96.9 537.2L99.3 539.9L101.3 542.8L102.9 546L104 549.5L104.7 553.2Z" fill="url(#rim)"/><path d="M104.9 557.7L104.7 563.2L104.3 566.1L103.5 568.3L102.4 570.2L101 571.9L99.2 573.3L97.1 574.6L94.7 575.6L91.9 576.5L88.6 577.2L84.9 577.8L80.4 578.2L74.8 578.1L64 576.8L53.1 578.1L47.5 578.2L43 577.8L39.3 577.2L36 576.5L33.2 575.6L30.8 574.6L28.7 573.3L26.9 571.9L25.5 570.2L24.4 568.3L23.6 566.1L23.2 563.2L23 557.7L23.2 553.2L23.9 549.5L25 546L26.6 542.8L28.6 539.9L31 537.2L33.9 534.8L37 532.6L40.6 530.8L44.5 529.3L48.7 528.1L53.2 527.5L58.1 527.6L63.9 528.1L69.8 527.6L74.7 527.5L79.2 528.1L83.4 529.3L87.3 530.8L90.9 532.6L94 534.8L96.9 537.2L99.3 539.9L101.3 542.8L102.9 546L104 549.5L104.7 553.2Z" fill="none" stroke="#7a1020" stroke-width="2.2" opacity="0.3"/>
<path d="M221.5 557.9L221.3 563.4L220.9 566.2L220.1 568.4L219 570.3L217.6 572L215.9 573.4L213.9 574.6L211.5 575.6L208.7 576.5L205.5 577.2L201.8 577.8L197.4 578.2L191.9 578.1L181.2 576.9L170.4 578.1L164.9 578.2L160.5 577.8L156.8 577.2L153.6 576.5L150.8 575.6L148.4 574.6L146.4 573.4L144.7 572L143.3 570.3L142.2 568.4L141.4 566.2L141 563.4L140.8 557.9L141 553.5L141.7 549.8L142.8 546.4L144.4 543.2L146.3 540.3L148.7 537.6L151.5 535.2L154.6 533.1L158.1 531.2L161.9 529.7L166.1 528.6L170.5 528L175.4 528.1L181.1 528.5L186.9 528.1L191.8 528L196.2 528.6L200.4 529.7L204.2 531.2L207.7 533.1L210.8 535.2L213.6 537.6L216 540.3L217.9 543.2L219.5 546.4L220.6 549.8L221.3 553.5Z" fill="#d13248"/><g clip-path="url(#c26)"><ellipse cx="143.9" cy="553.8" rx="7.6" ry="30.9" fill="#f3d9bd" filter="url(#b2)" transform="rotate(-8 143.9 552.8)"/></g><path d="M182.8 543.2C177.1 533.6 161.7 535.2 159.4 549.6C158.4 560.8 171.1 568.8 182.8 568.8C194.5 568.8 207.1 560.8 206.2 549.6C203.8 535.2 188.4 533.6 182.8 543.2Z" fill="none" stroke="#f6bcc0" stroke-width="5" opacity="0.6"/><path d="M148.9 568.2Q181.2 577.5 213.4 568.2" fill="none" stroke="#f4b0b6" stroke-width="3" opacity="0.4"/><path d="M221.5 557.9L221.3 563.4L220.9 566.2L220.1 568.4L219 570.3L217.6 572L215.9 573.4L213.9 574.6L211.5 575.6L208.7 576.5L205.5 577.2L201.8 577.8L197.4 578.2L191.9 578.1L181.2 576.9L170.4 578.1L164.9 578.2L160.5 577.8L156.8 577.2L153.6 576.5L150.8 575.6L148.4 574.6L146.4 573.4L144.7 572L143.3 570.3L142.2 568.4L141.4 566.2L141 563.4L140.8 557.9L141 553.5L141.7 549.8L142.8 546.4L144.4 543.2L146.3 540.3L148.7 537.6L151.5 535.2L154.6 533.1L158.1 531.2L161.9 529.7L166.1 528.6L170.5 528L175.4 528.1L181.1 528.5L186.9 528.1L191.8 528L196.2 528.6L200.4 529.7L204.2 531.2L207.7 533.1L210.8 535.2L213.6 537.6L216 540.3L217.9 543.2L219.5 546.4L220.6 549.8L221.3 553.5Z" fill="url(#rim)"/><path d="M221.5 557.9L221.3 563.4L220.9 566.2L220.1 568.4L219 570.3L217.6 572L215.9 573.4L213.9 574.6L211.5 575.6L208.7 576.5L205.5 577.2L201.8 577.8L197.4 578.2L191.9 578.1L181.2 576.9L170.4 578.1L164.9 578.2L160.5 577.8L156.8 577.2L153.6 576.5L150.8 575.6L148.4 574.6L146.4 573.4L144.7 572L143.3 570.3L142.2 568.4L141.4 566.2L141 563.4L140.8 557.9L141 553.5L141.7 549.8L142.8 546.4L144.4 543.2L146.3 540.3L148.7 537.6L151.5 535.2L154.6 533.1L158.1 531.2L161.9 529.7L166.1 528.6L170.5 528L175.4 528.1L181.1 528.5L186.9 528.1L191.8 528L196.2 528.6L200.4 529.7L204.2 531.2L207.7 533.1L210.8 535.2L213.6 537.6L216 540.3L217.9 543.2L219.5 546.4L220.6 549.8L221.3 553.5Z" fill="none" stroke="#7a1020" stroke-width="2.2" opacity="0.3"/>
<path d="M330 556.1L329.8 561.3L329.4 564L328.6 566.2L327.6 568L326.2 569.5L324.5 570.9L322.4 572.1L320.1 573.1L317.3 573.9L314.2 574.6L310.5 575.1L306.1 575.5L300.7 575.5L290.1 574.2L279.5 575.5L274.1 575.5L269.7 575.1L266 574.6L262.9 573.9L260.1 573.1L257.8 572.1L255.7 570.9L254 569.5L252.6 568L251.6 566.2L250.8 564L250.4 561.3L250.2 556.1L250.4 551.9L251.1 548.3L252.2 545L253.7 542L255.7 539.2L258 536.6L260.8 534.3L263.9 532.3L267.3 530.6L271.1 529.1L275.2 528L279.6 527.4L284.4 527.5L290.1 528L295.8 527.5L300.6 527.4L305 528L309.1 529.1L312.9 530.6L316.3 532.3L319.4 534.3L322.2 536.6L324.5 539.2L326.5 542L328 545L329.1 548.3L329.8 551.9Z" fill="#d13248"/><g clip-path="url(#c27)"><ellipse cx="255" cy="552.1" rx="11.5" ry="29.6" fill="#f2e7c3" filter="url(#b2)" transform="rotate(-18 255 551.1)"/></g><path d="M291.7 542C286.1 532.9 270.9 534.4 268.6 548.1C267.6 558.8 280.1 566.5 291.7 566.5C303.3 566.5 315.8 558.8 314.8 548.1C312.5 534.4 297.3 532.9 291.7 542Z" fill="none" stroke="#f6bcc0" stroke-width="5" opacity="0.6"/><path d="M258.2 565.9Q290.1 574.8 322 565.9" fill="none" stroke="#f4b0b6" stroke-width="3" opacity="0.4"/><path d="M330 556.1L329.8 561.3L329.4 564L328.6 566.2L327.6 568L326.2 569.5L324.5 570.9L322.4 572.1L320.1 573.1L317.3 573.9L314.2 574.6L310.5 575.1L306.1 575.5L300.7 575.5L290.1 574.2L279.5 575.5L274.1 575.5L269.7 575.1L266 574.6L262.9 573.9L260.1 573.1L257.8 572.1L255.7 570.9L254 569.5L252.6 568L251.6 566.2L250.8 564L250.4 561.3L250.2 556.1L250.4 551.9L251.1 548.3L252.2 545L253.7 542L255.7 539.2L258 536.6L260.8 534.3L263.9 532.3L267.3 530.6L271.1 529.1L275.2 528L279.6 527.4L284.4 527.5L290.1 528L295.8 527.5L300.6 527.4L305 528L309.1 529.1L312.9 530.6L316.3 532.3L319.4 534.3L322.2 536.6L324.5 539.2L326.5 542L328 545L329.1 548.3L329.8 551.9Z" fill="url(#rim)"/><path d="M330 556.1L329.8 561.3L329.4 564L328.6 566.2L327.6 568L326.2 569.5L324.5 570.9L322.4 572.1L320.1 573.1L317.3 573.9L314.2 574.6L310.5 575.1L306.1 575.5L300.7 575.5L290.1 574.2L279.5 575.5L274.1 575.5L269.7 575.1L266 574.6L262.9 573.9L260.1 573.1L257.8 572.1L255.7 570.9L254 569.5L252.6 568L251.6 566.2L250.8 564L250.4 561.3L250.2 556.1L250.4 551.9L251.1 548.3L252.2 545L253.7 542L255.7 539.2L258 536.6L260.8 534.3L263.9 532.3L267.3 530.6L271.1 529.1L275.2 528L279.6 527.4L284.4 527.5L290.1 528L295.8 527.5L300.6 527.4L305 528L309.1 529.1L312.9 530.6L316.3 532.3L319.4 534.3L322.2 536.6L324.5 539.2L326.5 542L328 545L329.1 548.3L329.8 551.9Z" fill="none" stroke="#7a1020" stroke-width="2.2" opacity="0.3"/>
<path d="M445.8 556.4L445.7 561.8L445.2 564.6L444.5 566.8L443.4 568.6L442.1 570.3L440.4 571.7L438.4 572.9L436.1 573.9L433.4 574.8L430.3 575.5L426.7 576L422.5 576.4L417.1 576.3L406.8 575.1L396.5 576.3L391.1 576.4L386.9 576L383.3 575.5L380.2 574.8L377.5 573.9L375.2 572.9L373.2 571.7L371.5 570.3L370.2 568.6L369.1 566.8L368.4 564.6L367.9 561.8L367.8 556.4L368 552.1L368.7 548.4L369.8 545.1L371.3 541.9L373.2 539.1L375.5 536.4L378.1 534.1L381.2 532L384.5 530.2L388.2 528.7L392.2 527.6L396.5 526.9L401.2 527.1L406.8 527.5L412.4 527.1L417.1 526.9L421.4 527.6L425.4 528.7L429.1 530.2L432.4 532L435.5 534.1L438.1 536.4L440.4 539.1L442.3 541.9L443.8 545.1L444.9 548.4L445.6 552.1Z" fill="#d13248"/><path d="M408.4 542C402.9 532.5 388 534.1 385.7 548.3C384.8 559.3 397.1 567.1 408.4 567.1C419.7 567.1 431.9 559.3 431 548.3C428.7 534.1 413.8 532.5 408.4 542Z" fill="none" stroke="#f6bcc0" stroke-width="5" opacity="0.6"/><path d="M375.6 566.6Q406.8 575.7 438 566.6" fill="none" stroke="#f4b0b6" stroke-width="3" opacity="0.4"/><path d="M445.8 556.4L445.7 561.8L445.2 564.6L444.5 566.8L443.4 568.6L442.1 570.3L440.4 571.7L438.4 572.9L436.1 573.9L433.4 574.8L430.3 575.5L426.7 576L422.5 576.4L417.1 576.3L406.8 575.1L396.5 576.3L391.1 576.4L386.9 576L383.3 575.5L380.2 574.8L377.5 573.9L375.2 572.9L373.2 571.7L371.5 570.3L370.2 568.6L369.1 566.8L368.4 564.6L367.9 561.8L367.8 556.4L368 552.1L368.7 548.4L369.8 545.1L371.3 541.9L373.2 539.1L375.5 536.4L378.1 534.1L381.2 532L384.5 530.2L388.2 528.7L392.2 527.6L396.5 526.9L401.2 527.1L406.8 527.5L412.4 527.1L417.1 526.9L421.4 527.6L425.4 528.7L429.1 530.2L432.4 532L435.5 534.1L438.1 536.4L440.4 539.1L442.3 541.9L443.8 545.1L444.9 548.4L445.6 552.1Z" fill="url(#rim)"/><path d="M445.8 556.4L445.7 561.8L445.2 564.6L444.5 566.8L443.4 568.6L442.1 570.3L440.4 571.7L438.4 572.9L436.1 573.9L433.4 574.8L430.3 575.5L426.7 576L422.5 576.4L417.1 576.3L406.8 575.1L396.5 576.3L391.1 576.4L386.9 576L383.3 575.5L380.2 574.8L377.5 573.9L375.2 572.9L373.2 571.7L371.5 570.3L370.2 568.6L369.1 566.8L368.4 564.6L367.9 561.8L367.8 556.4L368 552.1L368.7 548.4L369.8 545.1L371.3 541.9L373.2 539.1L375.5 536.4L378.1 534.1L381.2 532L384.5 530.2L388.2 528.7L392.2 527.6L396.5 526.9L401.2 527.1L406.8 527.5L412.4 527.1L417.1 526.9L421.4 527.6L425.4 528.7L429.1 530.2L432.4 532L435.5 534.1L438.1 536.4L440.4 539.1L442.3 541.9L443.8 545.1L444.9 548.4L445.6 552.1Z" fill="none" stroke="#7a1020" stroke-width="2.2" opacity="0.3"/>
<path d="M558.8 555.4L558.6 560.8L558.2 563.6L557.4 565.8L556.4 567.7L555 569.3L553.3 570.7L551.3 571.9L549 573L546.3 573.8L543.1 574.5L539.5 575.1L535.2 575.5L529.8 575.4L519.4 574.2L508.9 575.4L503.5 575.5L499.2 575.1L495.6 574.5L492.4 573.8L489.7 573L487.4 571.9L485.4 570.7L483.7 569.3L482.3 567.7L481.3 565.8L480.5 563.6L480.1 560.8L479.9 555.4L480.1 551L480.8 547.3L481.9 543.9L483.4 540.8L485.3 537.9L487.7 535.2L490.4 532.8L493.4 530.7L496.8 528.9L500.6 527.4L504.6 526.3L509 525.7L513.7 525.8L519.3 526.2L525 525.8L529.7 525.7L534.1 526.3L538.1 527.4L541.9 528.9L545.3 530.7L548.3 532.8L551 535.2L553.4 537.9L555.3 540.8L556.8 543.9L557.9 547.3L558.6 551Z" fill="#d13248"/><g clip-path="url(#c28)"><ellipse cx="485.6" cy="551.3" rx="13.6" ry="30.7" fill="#f2e7c3" filter="url(#b2)" transform="rotate(-15 485.6 550.2)"/></g><path d="M520.9 540.8C515.4 531.3 500.3 532.9 498 547.1C497.1 558.2 509.5 566.1 520.9 566.1C532.4 566.1 544.7 558.2 543.8 547.1C541.5 532.9 526.4 531.3 520.9 540.8Z" fill="none" stroke="#f6bcc0" stroke-width="5" opacity="0.6"/><path d="M487.8 565.6Q519.3 574.8 550.9 565.6" fill="none" stroke="#f4b0b6" stroke-width="3" opacity="0.4"/><path d="M558.8 555.4L558.6 560.8L558.2 563.6L557.4 565.8L556.4 567.7L555 569.3L553.3 570.7L551.3 571.9L549 573L546.3 573.8L543.1 574.5L539.5 575.1L535.2 575.5L529.8 575.4L519.4 574.2L508.9 575.4L503.5 575.5L499.2 575.1L495.6 574.5L492.4 573.8L489.7 573L487.4 571.9L485.4 570.7L483.7 569.3L482.3 567.7L481.3 565.8L480.5 563.6L480.1 560.8L479.9 555.4L480.1 551L480.8 547.3L481.9 543.9L483.4 540.8L485.3 537.9L487.7 535.2L490.4 532.8L493.4 530.7L496.8 528.9L500.6 527.4L504.6 526.3L509 525.7L513.7 525.8L519.3 526.2L525 525.8L529.7 525.7L534.1 526.3L538.1 527.4L541.9 528.9L545.3 530.7L548.3 532.8L551 535.2L553.4 537.9L555.3 540.8L556.8 543.9L557.9 547.3L558.6 551Z" fill="url(#rim)"/><path d="M558.8 555.4L558.6 560.8L558.2 563.6L557.4 565.8L556.4 567.7L555 569.3L553.3 570.7L551.3 571.9L549 573L546.3 573.8L543.1 574.5L539.5 575.1L535.2 575.5L529.8 575.4L519.4 574.2L508.9 575.4L503.5 575.5L499.2 575.1L495.6 574.5L492.4 573.8L489.7 573L487.4 571.9L485.4 570.7L483.7 569.3L482.3 567.7L481.3 565.8L480.5 563.6L480.1 560.8L479.9 555.4L480.1 551L480.8 547.3L481.9 543.9L483.4 540.8L485.3 537.9L487.7 535.2L490.4 532.8L493.4 530.7L496.8 528.9L500.6 527.4L504.6 526.3L509 525.7L513.7 525.8L519.3 526.2L525 525.8L529.7 525.7L534.1 526.3L538.1 527.4L541.9 528.9L545.3 530.7L548.3 532.8L551 535.2L553.4 537.9L555.3 540.8L556.8 543.9L557.9 547.3L558.6 551Z" fill="none" stroke="#7a1020" stroke-width="2.2" opacity="0.3"/>
<path d="M669.1 554.8L669 560.1L668.5 562.9L667.8 565.1L666.8 566.9L665.4 568.5L663.8 569.9L661.9 571.1L659.6 572.1L657 573L654 573.7L650.5 574.2L646.3 574.6L641.1 574.5L631 573.3L620.9 574.5L615.7 574.6L611.5 574.2L608 573.7L605 573L602.4 572.1L600.1 571.1L598.2 569.9L596.6 568.5L595.2 566.9L594.2 565.1L593.5 562.9L593 560.1L592.9 554.8L593.1 550.5L593.8 546.9L594.8 543.6L596.3 540.5L598.1 537.6L600.4 535L603 532.7L606 530.6L609.3 528.8L612.9 527.4L616.8 526.3L621 525.6L625.6 525.8L631 526.2L636.4 525.8L641 525.6L645.2 526.3L649.1 527.4L652.7 528.8L656 530.6L659 532.7L661.6 535L663.9 537.6L665.7 540.5L667.2 543.6L668.2 546.9L668.9 550.5Z" fill="#d13248"/><g clip-path="url(#c29)"><ellipse cx="598.8" cy="550.8" rx="14.3" ry="30.1" fill="#f2e7c3" filter="url(#b2)" transform="rotate(-20 598.8 549.8)"/></g><path d="M632.5 540.5C627.2 531.2 612.6 532.7 610.4 546.7C609.5 557.6 621.5 565.4 632.5 565.4C643.6 565.4 655.5 557.6 654.6 546.7C652.4 532.7 637.8 531.2 632.5 540.5Z" fill="none" stroke="#f6bcc0" stroke-width="5" opacity="0.6"/><path d="M600.5 564.9Q631 573.9 661.5 564.9" fill="none" stroke="#f4b0b6" stroke-width="3" opacity="0.4"/><path d="M669.1 554.8L669 560.1L668.5 562.9L667.8 565.1L666.8 566.9L665.4 568.5L663.8 569.9L661.9 571.1L659.6 572.1L657 573L654 573.7L650.5 574.2L646.3 574.6L641.1 574.5L631 573.3L620.9 574.5L615.7 574.6L611.5 574.2L608 573.7L605 573L602.4 572.1L600.1 571.1L598.2 569.9L596.6 568.5L595.2 566.9L594.2 565.1L593.5 562.9L593 560.1L592.9 554.8L593.1 550.5L593.8 546.9L594.8 543.6L596.3 540.5L598.1 537.6L600.4 535L603 532.7L606 530.6L609.3 528.8L612.9 527.4L616.8 526.3L621 525.6L625.6 525.8L631 526.2L636.4 525.8L641 525.6L645.2 526.3L649.1 527.4L652.7 528.8L656 530.6L659 532.7L661.6 535L663.9 537.6L665.7 540.5L667.2 543.6L668.2 546.9L668.9 550.5Z" fill="url(#rim)"/><path d="M669.1 554.8L669 560.1L668.5 562.9L667.8 565.1L666.8 566.9L665.4 568.5L663.8 569.9L661.9 571.1L659.6 572.1L657 573L654 573.7L650.5 574.2L646.3 574.6L641.1 574.5L631 573.3L620.9 574.5L615.7 574.6L611.5 574.2L608 573.7L605 573L602.4 572.1L600.1 571.1L598.2 569.9L596.6 568.5L595.2 566.9L594.2 565.1L593.5 562.9L593 560.1L592.9 554.8L593.1 550.5L593.8 546.9L594.8 543.6L596.3 540.5L598.1 537.6L600.4 535L603 532.7L606 530.6L609.3 528.8L612.9 527.4L616.8 526.3L621 525.6L625.6 525.8L631 526.2L636.4 525.8L641 525.6L645.2 526.3L649.1 527.4L652.7 528.8L656 530.6L659 532.7L661.6 535L663.9 537.6L665.7 540.5L667.2 543.6L668.2 546.9L668.9 550.5Z" fill="none" stroke="#7a1020" stroke-width="2.2" opacity="0.3"/>
<path d="M793 555.9L792.8 561.2L792.3 563.9L791.5 566.1L790.3 567.9L788.8 569.5L786.9 570.8L784.7 572L782.1 573L779 573.9L775.5 574.6L771.5 575.1L766.7 575.5L760.7 575.5L749.1 574.2L737.4 575.5L731.4 575.5L726.6 575.1L722.6 574.6L719.1 573.9L716 573L713.4 572L711.2 570.8L709.3 569.5L707.8 567.9L706.6 566.1L705.8 563.9L705.3 561.2L705.1 555.9L705.3 551.6L706.1 548L707.3 544.7L709 541.7L711.1 538.8L713.7 536.2L716.8 533.9L720.2 531.9L724 530.1L728.1 528.7L732.6 527.5L737.5 526.9L742.8 527.1L749 527.5L755.3 527.1L760.6 526.9L765.5 527.5L770 528.7L774.1 530.1L777.9 531.9L781.3 533.9L784.4 536.2L787 538.8L789.1 541.7L790.8 544.7L792 548L792.8 551.6Z" fill="#b62236"/><g clip-path="url(#c30)"><ellipse cx="713" cy="551.9" rx="19" ry="29.9" fill="#ecd6a4" filter="url(#b2)" transform="rotate(-30 713 550.9)"/></g><path d="M750.8 541.7C744.7 532.4 727.9 534 725.3 547.9C724.3 558.7 738.1 566.4 750.8 566.4C763.6 566.4 777.3 558.7 776.3 547.9C773.7 534 756.9 532.4 750.8 541.7Z" fill="none" stroke="#f6bcc0" stroke-width="5" opacity="0.6"/><path d="M713.9 565.8Q749 574.8 784.2 565.8" fill="none" stroke="#f4b0b6" stroke-width="3" opacity="0.4"/><path d="M793 555.9L792.8 561.2L792.3 563.9L791.5 566.1L790.3 567.9L788.8 569.5L786.9 570.8L784.7 572L782.1 573L779 573.9L775.5 574.6L771.5 575.1L766.7 575.5L760.7 575.5L749.1 574.2L737.4 575.5L731.4 575.5L726.6 575.1L722.6 574.6L719.1 573.9L716 573L713.4 572L711.2 570.8L709.3 569.5L707.8 567.9L706.6 566.1L705.8 563.9L705.3 561.2L705.1 555.9L705.3 551.6L706.1 548L707.3 544.7L709 541.7L711.1 538.8L713.7 536.2L716.8 533.9L720.2 531.9L724 530.1L728.1 528.7L732.6 527.5L737.5 526.9L742.8 527.1L749 527.5L755.3 527.1L760.6 526.9L765.5 527.5L770 528.7L774.1 530.1L777.9 531.9L781.3 533.9L784.4 536.2L787 538.8L789.1 541.7L790.8 544.7L792 548L792.8 551.6Z" fill="url(#rim)"/><path d="M793 555.9L792.8 561.2L792.3 563.9L791.5 566.1L790.3 567.9L788.8 569.5L786.9 570.8L784.7 572L782.1 573L779 573.9L775.5 574.6L771.5 575.1L766.7 575.5L760.7 575.5L749.1 574.2L737.4 575.5L731.4 575.5L726.6 575.1L722.6 574.6L719.1 573.9L716 573L713.4 572L711.2 570.8L709.3 569.5L707.8 567.9L706.6 566.1L705.8 563.9L705.3 561.2L705.1 555.9L705.3 551.6L706.1 548L707.3 544.7L709 541.7L711.1 538.8L713.7 536.2L716.8 533.9L720.2 531.9L724 530.1L728.1 528.7L732.6 527.5L737.5 526.9L742.8 527.1L749 527.5L755.3 527.1L760.6 526.9L765.5 527.5L770 528.7L774.1 530.1L777.9 531.9L781.3 533.9L784.4 536.2L787 538.8L789.1 541.7L790.8 544.7L792 548L792.8 551.6Z" fill="none" stroke="#7a1020" stroke-width="2.2" opacity="0.3"/>
<path d="M893.8 557L893.6 562.4L893.2 565.2L892.4 567.4L891.4 569.2L890 570.8L888.3 572.2L886.3 573.5L884 574.5L881.3 575.4L878.1 576.1L874.5 576.6L870.2 577L864.8 576.9L854.4 575.7L843.9 576.9L838.5 577L834.2 576.6L830.6 576.1L827.4 575.4L824.7 574.5L822.4 573.5L820.4 572.2L818.7 570.8L817.3 569.2L816.3 567.4L815.5 565.2L815.1 562.4L814.9 557L815.1 552.6L815.8 549L816.9 545.6L818.4 542.5L820.3 539.6L822.7 537L825.4 534.6L828.4 532.5L831.8 530.7L835.6 529.2L839.6 528.1L844 527.4L848.7 527.6L854.3 528L860 527.6L864.7 527.4L869.1 528.1L873.1 529.2L876.9 530.7L880.3 532.5L883.3 534.6L886 537L888.4 539.6L890.3 542.5L891.8 545.6L892.9 549L893.6 552.6Z" fill="#df5263"/><g clip-path="url(#c31)"><ellipse cx="820.6" cy="552.9" rx="13.6" ry="30.5" fill="#f2e7c3" filter="url(#b2)" transform="rotate(-25 820.6 551.9)"/></g><path d="M855.9 542.5C850.4 533.1 835.3 534.6 833 548.8C832.1 559.8 844.5 567.7 855.9 567.7C867.4 567.7 879.7 559.8 878.8 548.8C876.5 534.6 861.4 533.1 855.9 542.5Z" fill="none" stroke="#f6bcc0" stroke-width="5" opacity="0.6"/><path d="M822.8 567.1Q854.3 576.3 885.9 567.1" fill="none" stroke="#f4b0b6" stroke-width="3" opacity="0.4"/><path d="M893.8 557L893.6 562.4L893.2 565.2L892.4 567.4L891.4 569.2L890 570.8L888.3 572.2L886.3 573.5L884 574.5L881.3 575.4L878.1 576.1L874.5 576.6L870.2 577L864.8 576.9L854.4 575.7L843.9 576.9L838.5 577L834.2 576.6L830.6 576.1L827.4 575.4L824.7 574.5L822.4 573.5L820.4 572.2L818.7 570.8L817.3 569.2L816.3 567.4L815.5 565.2L815.1 562.4L814.9 557L815.1 552.6L815.8 549L816.9 545.6L818.4 542.5L820.3 539.6L822.7 537L825.4 534.6L828.4 532.5L831.8 530.7L835.6 529.2L839.6 528.1L844 527.4L848.7 527.6L854.3 528L860 527.6L864.7 527.4L869.1 528.1L873.1 529.2L876.9 530.7L880.3 532.5L883.3 534.6L886 537L888.4 539.6L890.3 542.5L891.8 545.6L892.9 549L893.6 552.6Z" fill="url(#rim)"/><path d="M893.8 557L893.6 562.4L893.2 565.2L892.4 567.4L891.4 569.2L890 570.8L888.3 572.2L886.3 573.5L884 574.5L881.3 575.4L878.1 576.1L874.5 576.6L870.2 577L864.8 576.9L854.4 575.7L843.9 576.9L838.5 577L834.2 576.6L830.6 576.1L827.4 575.4L824.7 574.5L822.4 573.5L820.4 572.2L818.7 570.8L817.3 569.2L816.3 567.4L815.5 565.2L815.1 562.4L814.9 557L815.1 552.6L815.8 549L816.9 545.6L818.4 542.5L820.3 539.6L822.7 537L825.4 534.6L828.4 532.5L831.8 530.7L835.6 529.2L839.6 528.1L844 527.4L848.7 527.6L854.3 528L860 527.6L864.7 527.4L869.1 528.1L873.1 529.2L876.9 530.7L880.3 532.5L883.3 534.6L886 537L888.4 539.6L890.3 542.5L891.8 545.6L892.9 549L893.6 552.6Z" fill="none" stroke="#7a1020" stroke-width="2.2" opacity="0.3"/>
<path d="M1004.3 559.1L1004.2 564.3L1003.7 566.9L1003 569L1001.9 570.8L1000.6 572.3L999 573.7L997 574.8L994.7 575.8L992 576.6L989 577.3L985.4 577.8L981.3 578.2L976 578.2L965.8 577L955.5 578.2L950.2 578.2L946.1 577.8L942.5 577.3L939.5 576.6L936.8 575.8L934.5 574.8L932.5 573.7L930.9 572.3L929.6 570.8L928.5 569L927.8 566.9L927.3 564.3L927.2 559.1L927.4 555L928.1 551.5L929.1 548.3L930.6 545.3L932.5 542.6L934.8 540.1L937.4 537.8L940.4 535.8L943.8 534.1L947.4 532.7L951.3 531.6L955.6 531L960.2 531.1L965.7 531.6L971.3 531.1L975.9 531L980.2 531.6L984.1 532.7L987.7 534.1L991.1 535.8L994.1 537.8L996.7 540.1L999 542.6L1000.9 545.3L1002.4 548.3L1003.4 551.5L1004.1 555Z" fill="#d13248"/><path d="M967.3 545.3C961.9 536.3 947.2 537.8 944.9 551.3C944 561.9 956.1 569.4 967.3 569.4C978.5 569.4 990.5 561.9 989.7 551.3C987.4 537.8 972.7 536.3 967.3 545.3Z" fill="none" stroke="#f6bcc0" stroke-width="5" opacity="0.6"/><path d="M934.9 568.8Q965.8 577.5 996.6 568.8" fill="none" stroke="#f4b0b6" stroke-width="3" opacity="0.4"/><path d="M1004.3 559.1L1004.2 564.3L1003.7 566.9L1003 569L1001.9 570.8L1000.6 572.3L999 573.7L997 574.8L994.7 575.8L992 576.6L989 577.3L985.4 577.8L981.3 578.2L976 578.2L965.8 577L955.5 578.2L950.2 578.2L946.1 577.8L942.5 577.3L939.5 576.6L936.8 575.8L934.5 574.8L932.5 573.7L930.9 572.3L929.6 570.8L928.5 569L927.8 566.9L927.3 564.3L927.2 559.1L927.4 555L928.1 551.5L929.1 548.3L930.6 545.3L932.5 542.6L934.8 540.1L937.4 537.8L940.4 535.8L943.8 534.1L947.4 532.7L951.3 531.6L955.6 531L960.2 531.1L965.7 531.6L971.3 531.1L975.9 531L980.2 531.6L984.1 532.7L987.7 534.1L991.1 535.8L994.1 537.8L996.7 540.1L999 542.6L1000.9 545.3L1002.4 548.3L1003.4 551.5L1004.1 555Z" fill="url(#rim)"/><path d="M1004.3 559.1L1004.2 564.3L1003.7 566.9L1003 569L1001.9 570.8L1000.6 572.3L999 573.7L997 574.8L994.7 575.8L992 576.6L989 577.3L985.4 577.8L981.3 578.2L976 578.2L965.8 577L955.5 578.2L950.2 578.2L946.1 577.8L942.5 577.3L939.5 576.6L936.8 575.8L934.5 574.8L932.5 573.7L930.9 572.3L929.6 570.8L928.5 569L927.8 566.9L927.3 564.3L927.2 559.1L927.4 555L928.1 551.5L929.1 548.3L930.6 545.3L932.5 542.6L934.8 540.1L937.4 537.8L940.4 535.8L943.8 534.1L947.4 532.7L951.3 531.6L955.6 531L960.2 531.1L965.7 531.6L971.3 531.1L975.9 531L980.2 531.6L984.1 532.7L987.7 534.1L991.1 535.8L994.1 537.8L996.7 540.1L999 542.6L1000.9 545.3L1002.4 548.3L1003.4 551.5L1004.1 555Z" fill="none" stroke="#7a1020" stroke-width="2.2" opacity="0.3"/>
<path d="M101.3 656.4L101.2 660L100.7 662.5L100 664.7L99.1 666.7L97.8 668.4L96.3 669.9L94.5 671.1L92.5 671.9L90.2 671.9L87.6 671.4L84.8 670.6L81.6 670.7L78.2 672.6L74.4 675.3L70 677.4L63.7 678.1L57.3 677.4L52.9 675.3L49.1 672.6L45.7 670.7L42.5 670.6L39.7 671.4L37.1 671.9L34.8 671.9L32.8 671.1L31 669.9L29.5 668.4L28.2 666.7L27.3 664.7L26.6 662.5L26.1 660L26 656.4L26.2 653L26.7 650.1L27.5 647.4L28.6 644.8L30.1 642.4L31.8 640.2L33.9 638.1L36.2 636.2L38.8 634.5L41.6 633L44.6 631.7L47.9 630.6L51.4 629.8L55.1 629.4L59.1 630.7L63.6 633.1L68.2 630.7L72.2 629.4L75.9 629.8L79.4 630.6L82.7 631.7L85.7 633L88.5 634.5L91.1 636.2L93.4 638.1L95.5 640.2L97.2 642.4L98.7 644.8L99.8 647.4L100.6 650.1L101.1 653Z" fill="#d13248"/><path d="M35 655.9Q41.1 638.6 59.1 641.5" fill="none" stroke="#f4aab2" stroke-width="3.2" opacity="0.45"/><path d="M92.3 655.9Q86.2 638.6 68.2 641.5" fill="none" stroke="#f4aab2" stroke-width="3.2" opacity="0.45"/><ellipse cx="63.6" cy="659.3" rx="12.8" ry="11.9" fill="#e05a68" opacity="0.5"/><ellipse cx="60" cy="671" rx="14" ry="5" fill="#f0dcb0" opacity="0.7"/><path d="M101.3 656.4L101.2 660L100.7 662.5L100 664.7L99.1 666.7L97.8 668.4L96.3 669.9L94.5 671.1L92.5 671.9L90.2 671.9L87.6 671.4L84.8 670.6L81.6 670.7L78.2 672.6L74.4 675.3L70 677.4L63.7 678.1L57.3 677.4L52.9 675.3L49.1 672.6L45.7 670.7L42.5 670.6L39.7 671.4L37.1 671.9L34.8 671.9L32.8 671.1L31 669.9L29.5 668.4L28.2 666.7L27.3 664.7L26.6 662.5L26.1 660L26 656.4L26.2 653L26.7 650.1L27.5 647.4L28.6 644.8L30.1 642.4L31.8 640.2L33.9 638.1L36.2 636.2L38.8 634.5L41.6 633L44.6 631.7L47.9 630.6L51.4 629.8L55.1 629.4L59.1 630.7L63.6 633.1L68.2 630.7L72.2 629.4L75.9 629.8L79.4 630.6L82.7 631.7L85.7 633L88.5 634.5L91.1 636.2L93.4 638.1L95.5 640.2L97.2 642.4L98.7 644.8L99.8 647.4L100.6 650.1L101.1 653Z" fill="url(#rim)"/><path d="M101.3 656.4L101.2 660L100.7 662.5L100 664.7L99.1 666.7L97.8 668.4L96.3 669.9L94.5 671.1L92.5 671.9L90.2 671.9L87.6 671.4L84.8 670.6L81.6 670.7L78.2 672.6L74.4 675.3L70 677.4L63.7 678.1L57.3 677.4L52.9 675.3L49.1 672.6L45.7 670.7L42.5 670.6L39.7 671.4L37.1 671.9L34.8 671.9L32.8 671.1L31 669.9L29.5 668.4L28.2 666.7L27.3 664.7L26.6 662.5L26.1 660L26 656.4L26.2 653L26.7 650.1L27.5 647.4L28.6 644.8L30.1 642.4L31.8 640.2L33.9 638.1L36.2 636.2L38.8 634.5L41.6 633L44.6 631.7L47.9 630.6L51.4 629.8L55.1 629.4L59.1 630.7L63.6 633.1L68.2 630.7L72.2 629.4L75.9 629.8L79.4 630.6L82.7 631.7L85.7 633L88.5 634.5L91.1 636.2L93.4 638.1L95.5 640.2L97.2 642.4L98.7 644.8L99.8 647.4L100.6 650.1L101.1 653Z" fill="none" stroke="#7a1020" stroke-width="2.2" opacity="0.3"/>
<path d="M216.1 654L216 657.4L215.5 659.8L214.8 661.9L213.8 663.7L212.6 665.4L211 666.8L209.2 667.9L207.1 668.6L204.8 668.7L202.2 668.1L199.3 667.4L196.1 667.5L192.6 669.3L188.7 671.9L184.3 673.8L177.9 674.5L171.4 673.8L167 671.9L163.1 669.3L159.6 667.5L156.4 667.4L153.5 668.1L150.9 668.7L148.6 668.6L146.5 667.9L144.7 666.8L143.1 665.4L141.9 663.7L140.9 661.9L140.2 659.8L139.7 657.4L139.6 654L139.8 650.8L140.3 648L141.1 645.5L142.3 643L143.7 640.8L145.5 638.6L147.6 636.7L149.9 634.9L152.6 633.3L155.4 631.8L158.5 630.6L161.9 629.6L165.4 628.8L169.2 628.5L173.2 629.7L177.8 632L182.5 629.7L186.5 628.5L190.3 628.8L193.8 629.6L197.2 630.6L200.3 631.8L203.1 633.3L205.8 634.9L208.1 636.7L210.2 638.6L212 640.8L213.4 643L214.6 645.5L215.4 648L215.9 650.8Z" fill="#d13248"/><path d="M148.8 653.5Q154.9 637.1 173.3 639.9" fill="none" stroke="#f4aab2" stroke-width="3.2" opacity="0.45"/><path d="M206.9 653.5Q200.8 637.1 182.4 639.9" fill="none" stroke="#f4aab2" stroke-width="3.2" opacity="0.45"/><ellipse cx="177.8" cy="656.8" rx="13" ry="11.2" fill="#e05a68" opacity="0.3"/><path d="M216.1 654L216 657.4L215.5 659.8L214.8 661.9L213.8 663.7L212.6 665.4L211 666.8L209.2 667.9L207.1 668.6L204.8 668.7L202.2 668.1L199.3 667.4L196.1 667.5L192.6 669.3L188.7 671.9L184.3 673.8L177.9 674.5L171.4 673.8L167 671.9L163.1 669.3L159.6 667.5L156.4 667.4L153.5 668.1L150.9 668.7L148.6 668.6L146.5 667.9L144.7 666.8L143.1 665.4L141.9 663.7L140.9 661.9L140.2 659.8L139.7 657.4L139.6 654L139.8 650.8L140.3 648L141.1 645.5L142.3 643L143.7 640.8L145.5 638.6L147.6 636.7L149.9 634.9L152.6 633.3L155.4 631.8L158.5 630.6L161.9 629.6L165.4 628.8L169.2 628.5L173.2 629.7L177.8 632L182.5 629.7L186.5 628.5L190.3 628.8L193.8 629.6L197.2 630.6L200.3 631.8L203.1 633.3L205.8 634.9L208.1 636.7L210.2 638.6L212 640.8L213.4 643L214.6 645.5L215.4 648L215.9 650.8Z" fill="url(#rim)"/><path d="M216.1 654L216 657.4L215.5 659.8L214.8 661.9L213.8 663.7L212.6 665.4L211 666.8L209.2 667.9L207.1 668.6L204.8 668.7L202.2 668.1L199.3 667.4L196.1 667.5L192.6 669.3L188.7 671.9L184.3 673.8L177.9 674.5L171.4 673.8L167 671.9L163.1 669.3L159.6 667.5L156.4 667.4L153.5 668.1L150.9 668.7L148.6 668.6L146.5 667.9L144.7 666.8L143.1 665.4L141.9 663.7L140.9 661.9L140.2 659.8L139.7 657.4L139.6 654L139.8 650.8L140.3 648L141.1 645.5L142.3 643L143.7 640.8L145.5 638.6L147.6 636.7L149.9 634.9L152.6 633.3L155.4 631.8L158.5 630.6L161.9 629.6L165.4 628.8L169.2 628.5L173.2 629.7L177.8 632L182.5 629.7L186.5 628.5L190.3 628.8L193.8 629.6L197.2 630.6L200.3 631.8L203.1 633.3L205.8 634.9L208.1 636.7L210.2 638.6L212 640.8L213.4 643L214.6 645.5L215.4 648L215.9 650.8Z" fill="none" stroke="#7a1020" stroke-width="2.2" opacity="0.3"/>
<path d="M326.5 655.1L326.4 658.7L326 661.1L325.3 663.3L324.3 665.2L323.1 666.9L321.6 668.4L319.9 669.5L317.9 670.2L315.6 670.3L313.1 669.7L310.3 669L307.3 669.1L303.9 670.9L300.2 673.6L295.9 675.6L289.7 676.3L283.5 675.6L279.2 673.6L275.5 670.9L272.1 669.1L269.1 669L266.3 669.7L263.8 670.3L261.5 670.2L259.5 669.5L257.8 668.4L256.3 666.9L255.1 665.2L254.1 663.3L253.4 661.1L253 658.7L252.9 655.1L253.1 651.9L253.5 649L254.3 646.4L255.5 643.9L256.9 641.5L258.6 639.3L260.6 637.3L262.8 635.5L265.4 633.8L268.1 632.4L271.1 631.1L274.3 630.1L277.7 629.3L281.4 628.9L285.2 630.1L289.7 632.5L294.2 630.1L298 628.9L301.7 629.3L305.1 630.1L308.3 631.1L311.3 632.4L314 633.8L316.6 635.5L318.8 637.3L320.8 639.3L322.5 641.5L323.9 643.9L325.1 646.4L325.9 649L326.3 651.9Z" fill="#d93c50"/><path d="M261.7 654.7Q267.6 637.8 285.3 640.7" fill="none" stroke="#f4aab2" stroke-width="3.2" opacity="0.45"/><path d="M317.7 654.7Q311.8 637.8 294.1 640.7" fill="none" stroke="#f4aab2" stroke-width="3.2" opacity="0.45"/><ellipse cx="289.7" cy="658" rx="12.5" ry="11.5" fill="#e05a68" opacity="0.3"/><ellipse cx="262" cy="640" rx="9" ry="6" fill="#f2d4b0" opacity="0.8" transform="rotate(-30 262 640)"/><path d="M326.5 655.1L326.4 658.7L326 661.1L325.3 663.3L324.3 665.2L323.1 666.9L321.6 668.4L319.9 669.5L317.9 670.2L315.6 670.3L313.1 669.7L310.3 669L307.3 669.1L303.9 670.9L300.2 673.6L295.9 675.6L289.7 676.3L283.5 675.6L279.2 673.6L275.5 670.9L272.1 669.1L269.1 669L266.3 669.7L263.8 670.3L261.5 670.2L259.5 669.5L257.8 668.4L256.3 666.9L255.1 665.2L254.1 663.3L253.4 661.1L253 658.7L252.9 655.1L253.1 651.9L253.5 649L254.3 646.4L255.5 643.9L256.9 641.5L258.6 639.3L260.6 637.3L262.8 635.5L265.4 633.8L268.1 632.4L271.1 631.1L274.3 630.1L277.7 629.3L281.4 628.9L285.2 630.1L289.7 632.5L294.2 630.1L298 628.9L301.7 629.3L305.1 630.1L308.3 631.1L311.3 632.4L314 633.8L316.6 635.5L318.8 637.3L320.8 639.3L322.5 641.5L323.9 643.9L325.1 646.4L325.9 649L326.3 651.9Z" fill="url(#rim)"/><path d="M326.5 655.1L326.4 658.7L326 661.1L325.3 663.3L324.3 665.2L323.1 666.9L321.6 668.4L319.9 669.5L317.9 670.2L315.6 670.3L313.1 669.7L310.3 669L307.3 669.1L303.9 670.9L300.2 673.6L295.9 675.6L289.7 676.3L283.5 675.6L279.2 673.6L275.5 670.9L272.1 669.1L269.1 669L266.3 669.7L263.8 670.3L261.5 670.2L259.5 669.5L257.8 668.4L256.3 666.9L255.1 665.2L254.1 663.3L253.4 661.1L253 658.7L252.9 655.1L253.1 651.9L253.5 649L254.3 646.4L255.5 643.9L256.9 641.5L258.6 639.3L260.6 637.3L262.8 635.5L265.4 633.8L268.1 632.4L271.1 631.1L274.3 630.1L277.7 629.3L281.4 628.9L285.2 630.1L289.7 632.5L294.2 630.1L298 628.9L301.7 629.3L305.1 630.1L308.3 631.1L311.3 632.4L314 633.8L316.6 635.5L318.8 637.3L320.8 639.3L322.5 641.5L323.9 643.9L325.1 646.4L325.9 649L326.3 651.9Z" fill="none" stroke="#7a1020" stroke-width="2.2" opacity="0.3"/>
<path d="M449.8 657.7L449.7 661.1L449.3 663.4L448.6 665.4L447.6 667.2L446.4 668.8L444.9 670.2L443.2 671.3L441.2 672L438.9 672L436.4 671.5L433.6 670.8L430.5 670.9L427.1 672.6L423.4 675.1L419 677L412.9 677.7L406.7 677L402.3 675.1L398.6 672.6L395.2 670.9L392.1 670.8L389.3 671.5L386.8 672L384.5 672L382.5 671.3L380.8 670.2L379.3 668.8L378.1 667.2L377.1 665.4L376.4 663.4L376 661.1L375.9 657.7L376.1 654.6L376.5 652L377.3 649.5L378.5 647.1L379.9 644.9L381.6 642.8L383.6 640.9L385.9 639.2L388.4 637.6L391.2 636.2L394.2 635L397.4 634.1L400.8 633.3L404.5 632.9L408.4 634.1L412.8 636.4L417.3 634.1L421.2 632.9L424.9 633.3L428.3 634.1L431.5 635L434.5 636.2L437.3 637.6L439.8 639.2L442.1 640.9L444.1 642.8L445.8 644.9L447.2 647.1L448.4 649.5L449.2 652L449.6 654.6Z" fill="#d13248"/><path d="M384.8 657.3Q390.7 641.4 408.4 644.1" fill="none" stroke="#f4aab2" stroke-width="3.2" opacity="0.45"/><path d="M440.9 657.3Q435 641.4 417.3 644.1" fill="none" stroke="#f4aab2" stroke-width="3.2" opacity="0.45"/><ellipse cx="412.9" cy="660.4" rx="12.6" ry="10.9" fill="#e05a68" opacity="0.3"/><path d="M449.8 657.7L449.7 661.1L449.3 663.4L448.6 665.4L447.6 667.2L446.4 668.8L444.9 670.2L443.2 671.3L441.2 672L438.9 672L436.4 671.5L433.6 670.8L430.5 670.9L427.1 672.6L423.4 675.1L419 677L412.9 677.7L406.7 677L402.3 675.1L398.6 672.6L395.2 670.9L392.1 670.8L389.3 671.5L386.8 672L384.5 672L382.5 671.3L380.8 670.2L379.3 668.8L378.1 667.2L377.1 665.4L376.4 663.4L376 661.1L375.9 657.7L376.1 654.6L376.5 652L377.3 649.5L378.5 647.1L379.9 644.9L381.6 642.8L383.6 640.9L385.9 639.2L388.4 637.6L391.2 636.2L394.2 635L397.4 634.1L400.8 633.3L404.5 632.9L408.4 634.1L412.8 636.4L417.3 634.1L421.2 632.9L424.9 633.3L428.3 634.1L431.5 635L434.5 636.2L437.3 637.6L439.8 639.2L442.1 640.9L444.1 642.8L445.8 644.9L447.2 647.1L448.4 649.5L449.2 652L449.6 654.6Z" fill="url(#rim)"/><path d="M449.8 657.7L449.7 661.1L449.3 663.4L448.6 665.4L447.6 667.2L446.4 668.8L444.9 670.2L443.2 671.3L441.2 672L438.9 672L436.4 671.5L433.6 670.8L430.5 670.9L427.1 672.6L423.4 675.1L419 677L412.9 677.7L406.7 677L402.3 675.1L398.6 672.6L395.2 670.9L392.1 670.8L389.3 671.5L386.8 672L384.5 672L382.5 671.3L380.8 670.2L379.3 668.8L378.1 667.2L377.1 665.4L376.4 663.4L376 661.1L375.9 657.7L376.1 654.6L376.5 652L377.3 649.5L378.5 647.1L379.9 644.9L381.6 642.8L383.6 640.9L385.9 639.2L388.4 637.6L391.2 636.2L394.2 635L397.4 634.1L400.8 633.3L404.5 632.9L408.4 634.1L412.8 636.4L417.3 634.1L421.2 632.9L424.9 633.3L428.3 634.1L431.5 635L434.5 636.2L437.3 637.6L439.8 639.2L442.1 640.9L444.1 642.8L445.8 644.9L447.2 647.1L448.4 649.5L449.2 652L449.6 654.6Z" fill="none" stroke="#7a1020" stroke-width="2.2" opacity="0.3"/>
<path d="M557 654.7L556.9 658L556.4 660.4L555.7 662.3L554.7 664.1L553.4 665.7L551.9 667.1L550 668.2L547.9 668.8L545.6 668.9L542.9 668.4L540 667.7L536.8 667.8L533.2 669.5L529.3 672L524.7 673.8L518.3 674.5L511.8 673.8L507.2 672L503.3 669.5L499.7 667.8L496.5 667.7L493.6 668.4L490.9 668.9L488.6 668.8L486.5 668.2L484.6 667.1L483.1 665.7L481.8 664.1L480.8 662.3L480.1 660.4L479.6 658L479.5 654.7L479.7 651.7L480.2 649.1L481 646.6L482.2 644.2L483.7 642.1L485.5 640L487.6 638.1L490 636.4L492.6 634.8L495.5 633.5L498.7 632.3L502.1 631.3L505.7 630.6L509.5 630.2L513.6 631.4L518.2 633.6L522.9 631.4L527 630.2L530.8 630.6L534.4 631.3L537.8 632.3L541 633.5L543.9 634.8L546.5 636.4L548.9 638.1L551 640L552.8 642.1L554.3 644.2L555.5 646.6L556.3 649.1L556.8 651.7Z" fill="url(#g32)"/><path d="M488.8 654.3Q495 638.6 513.6 641.3" fill="none" stroke="#f4aab2" stroke-width="3.2" opacity="0.45"/><path d="M547.7 654.3Q541.5 638.6 522.9 641.3" fill="none" stroke="#f4aab2" stroke-width="3.2" opacity="0.45"/><ellipse cx="518.2" cy="657.4" rx="13.2" ry="10.8" fill="#e05a68" opacity="0.3"/><ellipse cx="518" cy="660" rx="15" ry="10" fill="#ee909a" opacity="0.6"/><path d="M557 654.7L556.9 658L556.4 660.4L555.7 662.3L554.7 664.1L553.4 665.7L551.9 667.1L550 668.2L547.9 668.8L545.6 668.9L542.9 668.4L540 667.7L536.8 667.8L533.2 669.5L529.3 672L524.7 673.8L518.3 674.5L511.8 673.8L507.2 672L503.3 669.5L499.7 667.8L496.5 667.7L493.6 668.4L490.9 668.9L488.6 668.8L486.5 668.2L484.6 667.1L483.1 665.7L481.8 664.1L480.8 662.3L480.1 660.4L479.6 658L479.5 654.7L479.7 651.7L480.2 649.1L481 646.6L482.2 644.2L483.7 642.1L485.5 640L487.6 638.1L490 636.4L492.6 634.8L495.5 633.5L498.7 632.3L502.1 631.3L505.7 630.6L509.5 630.2L513.6 631.4L518.2 633.6L522.9 631.4L527 630.2L530.8 630.6L534.4 631.3L537.8 632.3L541 633.5L543.9 634.8L546.5 636.4L548.9 638.1L551 640L552.8 642.1L554.3 644.2L555.5 646.6L556.3 649.1L556.8 651.7Z" fill="url(#rim)"/><path d="M557 654.7L556.9 658L556.4 660.4L555.7 662.3L554.7 664.1L553.4 665.7L551.9 667.1L550 668.2L547.9 668.8L545.6 668.9L542.9 668.4L540 667.7L536.8 667.8L533.2 669.5L529.3 672L524.7 673.8L518.3 674.5L511.8 673.8L507.2 672L503.3 669.5L499.7 667.8L496.5 667.7L493.6 668.4L490.9 668.9L488.6 668.8L486.5 668.2L484.6 667.1L483.1 665.7L481.8 664.1L480.8 662.3L480.1 660.4L479.6 658L479.5 654.7L479.7 651.7L480.2 649.1L481 646.6L482.2 644.2L483.7 642.1L485.5 640L487.6 638.1L490 636.4L492.6 634.8L495.5 633.5L498.7 632.3L502.1 631.3L505.7 630.6L509.5 630.2L513.6 631.4L518.2 633.6L522.9 631.4L527 630.2L530.8 630.6L534.4 631.3L537.8 632.3L541 633.5L543.9 634.8L546.5 636.4L548.9 638.1L551 640L552.8 642.1L554.3 644.2L555.5 646.6L556.3 649.1L556.8 651.7Z" fill="none" stroke="#7a1020" stroke-width="2.2" opacity="0.3"/>
<path d="M664.3 655.2L664.2 658.6L663.8 661L663.1 663L662.1 664.8L660.9 666.4L659.5 667.8L657.7 668.9L655.7 669.6L653.5 669.7L651 669.2L648.2 668.5L645.2 668.6L641.8 670.3L638.1 672.8L633.8 674.7L627.7 675.4L621.6 674.7L617.3 672.8L613.6 670.3L610.2 668.6L607.2 668.5L604.4 669.2L601.9 669.7L599.7 669.6L597.7 668.9L595.9 667.8L594.5 666.4L593.3 664.8L592.3 663L591.6 661L591.2 658.6L591.1 655.2L591.3 652.1L591.7 649.4L592.5 646.9L593.6 644.5L595.1 642.3L596.8 640.2L598.7 638.3L601 636.5L603.5 635L606.3 633.6L609.2 632.4L612.4 631.4L615.8 630.6L619.4 630.2L623.3 631.4L627.7 633.7L632.1 631.4L636 630.2L639.6 630.6L643 631.4L646.2 632.4L649.1 633.6L651.9 635L654.4 636.5L656.7 638.3L658.6 640.2L660.3 642.3L661.8 644.5L662.9 646.9L663.7 649.4L664.1 652.1Z" fill="url(#g33)"/><path d="M599.9 654.8Q605.7 638.8 623.3 641.5" fill="none" stroke="#f4aab2" stroke-width="3.2" opacity="0.45"/><path d="M655.5 654.8Q649.7 638.8 632.1 641.5" fill="none" stroke="#f4aab2" stroke-width="3.2" opacity="0.45"/><ellipse cx="627.7" cy="658" rx="12.4" ry="11" fill="#e05a68" opacity="0.3"/><ellipse cx="628" cy="662" rx="15" ry="10" fill="#f0a0a6" opacity="0.6"/><path d="M664.3 655.2L664.2 658.6L663.8 661L663.1 663L662.1 664.8L660.9 666.4L659.5 667.8L657.7 668.9L655.7 669.6L653.5 669.7L651 669.2L648.2 668.5L645.2 668.6L641.8 670.3L638.1 672.8L633.8 674.7L627.7 675.4L621.6 674.7L617.3 672.8L613.6 670.3L610.2 668.6L607.2 668.5L604.4 669.2L601.9 669.7L599.7 669.6L597.7 668.9L595.9 667.8L594.5 666.4L593.3 664.8L592.3 663L591.6 661L591.2 658.6L591.1 655.2L591.3 652.1L591.7 649.4L592.5 646.9L593.6 644.5L595.1 642.3L596.8 640.2L598.7 638.3L601 636.5L603.5 635L606.3 633.6L609.2 632.4L612.4 631.4L615.8 630.6L619.4 630.2L623.3 631.4L627.7 633.7L632.1 631.4L636 630.2L639.6 630.6L643 631.4L646.2 632.4L649.1 633.6L651.9 635L654.4 636.5L656.7 638.3L658.6 640.2L660.3 642.3L661.8 644.5L662.9 646.9L663.7 649.4L664.1 652.1Z" fill="url(#rim)"/><path d="M664.3 655.2L664.2 658.6L663.8 661L663.1 663L662.1 664.8L660.9 666.4L659.5 667.8L657.7 668.9L655.7 669.6L653.5 669.7L651 669.2L648.2 668.5L645.2 668.6L641.8 670.3L638.1 672.8L633.8 674.7L627.7 675.4L621.6 674.7L617.3 672.8L613.6 670.3L610.2 668.6L607.2 668.5L604.4 669.2L601.9 669.7L599.7 669.6L597.7 668.9L595.9 667.8L594.5 666.4L593.3 664.8L592.3 663L591.6 661L591.2 658.6L591.1 655.2L591.3 652.1L591.7 649.4L592.5 646.9L593.6 644.5L595.1 642.3L596.8 640.2L598.7 638.3L601 636.5L603.5 635L606.3 633.6L609.2 632.4L612.4 631.4L615.8 630.6L619.4 630.2L623.3 631.4L627.7 633.7L632.1 631.4L636 630.2L639.6 630.6L643 631.4L646.2 632.4L649.1 633.6L651.9 635L654.4 636.5L656.7 638.3L658.6 640.2L660.3 642.3L661.8 644.5L662.9 646.9L663.7 649.4L664.1 652.1Z" fill="none" stroke="#7a1020" stroke-width="2.2" opacity="0.3"/>
<path d="M781.3 655L781.2 658.5L780.7 661L780 663.2L779 665.1L777.7 666.8L776.2 668.3L774.4 669.5L772.3 670.2L769.9 670.3L767.3 669.7L764.4 668.9L761.2 669.1L757.6 670.9L753.7 673.6L749.2 675.6L742.8 676.3L736.3 675.6L731.8 673.6L727.9 670.9L724.3 669.1L721.1 668.9L718.2 669.7L715.6 670.3L713.2 670.2L711.1 669.5L709.3 668.3L707.8 666.8L706.5 665.1L705.5 663.2L704.8 661L704.3 658.5L704.2 655L704.4 651.7L704.9 648.8L705.7 646.1L706.9 643.6L708.4 641.3L710.2 639L712.2 637L714.6 635.1L717.3 633.5L720.2 632L723.3 630.7L726.7 629.7L730.2 628.9L734 628.5L738.1 629.7L742.7 632.1L747.4 629.7L751.5 628.5L755.3 628.9L758.8 629.7L762.2 630.7L765.3 632L768.2 633.5L770.9 635.1L773.3 637L775.3 639L777.1 641.3L778.6 643.6L779.8 646.1L780.6 648.8L781.1 651.7Z" fill="#b62236"/><path d="M713.5 654.5Q719.6 637.5 738.1 640.4" fill="none" stroke="#f4aab2" stroke-width="3.2" opacity="0.45"/><path d="M772 654.5Q765.9 637.5 747.4 640.4" fill="none" stroke="#f4aab2" stroke-width="3.2" opacity="0.45"/><ellipse cx="742.8" cy="657.9" rx="13.1" ry="11.6" fill="#e05a68" opacity="0.3"/><ellipse cx="709" cy="645" rx="4" ry="12" fill="#f0dcb0" opacity="0.8"/><ellipse cx="730" cy="672" rx="14" ry="3" fill="#f0d8c0" opacity="0.6"/><path d="M781.3 655L781.2 658.5L780.7 661L780 663.2L779 665.1L777.7 666.8L776.2 668.3L774.4 669.5L772.3 670.2L769.9 670.3L767.3 669.7L764.4 668.9L761.2 669.1L757.6 670.9L753.7 673.6L749.2 675.6L742.8 676.3L736.3 675.6L731.8 673.6L727.9 670.9L724.3 669.1L721.1 668.9L718.2 669.7L715.6 670.3L713.2 670.2L711.1 669.5L709.3 668.3L707.8 666.8L706.5 665.1L705.5 663.2L704.8 661L704.3 658.5L704.2 655L704.4 651.7L704.9 648.8L705.7 646.1L706.9 643.6L708.4 641.3L710.2 639L712.2 637L714.6 635.1L717.3 633.5L720.2 632L723.3 630.7L726.7 629.7L730.2 628.9L734 628.5L738.1 629.7L742.7 632.1L747.4 629.7L751.5 628.5L755.3 628.9L758.8 629.7L762.2 630.7L765.3 632L768.2 633.5L770.9 635.1L773.3 637L775.3 639L777.1 641.3L778.6 643.6L779.8 646.1L780.6 648.8L781.1 651.7Z" fill="url(#rim)"/><path d="M781.3 655L781.2 658.5L780.7 661L780 663.2L779 665.1L777.7 666.8L776.2 668.3L774.4 669.5L772.3 670.2L769.9 670.3L767.3 669.7L764.4 668.9L761.2 669.1L757.6 670.9L753.7 673.6L749.2 675.6L742.8 676.3L736.3 675.6L731.8 673.6L727.9 670.9L724.3 669.1L721.1 668.9L718.2 669.7L715.6 670.3L713.2 670.2L711.1 669.5L709.3 668.3L707.8 666.8L706.5 665.1L705.5 663.2L704.8 661L704.3 658.5L704.2 655L704.4 651.7L704.9 648.8L705.7 646.1L706.9 643.6L708.4 641.3L710.2 639L712.2 637L714.6 635.1L717.3 633.5L720.2 632L723.3 630.7L726.7 629.7L730.2 628.9L734 628.5L738.1 629.7L742.7 632.1L747.4 629.7L751.5 628.5L755.3 628.9L758.8 629.7L762.2 630.7L765.3 632L768.2 633.5L770.9 635.1L773.3 637L775.3 639L777.1 641.3L778.6 643.6L779.8 646.1L780.6 648.8L781.1 651.7Z" fill="none" stroke="#7a1020" stroke-width="2.2" opacity="0.3"/>
<path d="M891.3 656.4L891.2 660L890.7 662.5L890 664.7L889.1 666.7L887.8 668.4L886.3 669.9L884.5 671.1L882.5 671.9L880.2 671.9L877.6 671.4L874.8 670.6L871.6 670.7L868.2 672.6L864.4 675.3L860 677.4L853.7 678.1L847.3 677.4L842.9 675.3L839.1 672.6L835.7 670.7L832.5 670.6L829.7 671.4L827.1 671.9L824.8 671.9L822.8 671.1L821 669.9L819.5 668.4L818.2 666.7L817.3 664.7L816.6 662.5L816.1 660L816 656.4L816.2 653L816.7 650.1L817.5 647.4L818.6 644.8L820.1 642.4L821.8 640.2L823.9 638.1L826.2 636.2L828.8 634.5L831.6 633L834.6 631.7L837.9 630.6L841.4 629.8L845.1 629.4L849.1 630.7L853.6 633.1L858.2 630.7L862.2 629.4L865.9 629.8L869.4 630.6L872.7 631.7L875.7 633L878.5 634.5L881.1 636.2L883.4 638.1L885.5 640.2L887.2 642.4L888.7 644.8L889.8 647.4L890.6 650.1L891.1 653Z" fill="#d93c50"/><path d="M825 655.9Q831.1 638.6 849.1 641.5" fill="none" stroke="#f4aab2" stroke-width="3.2" opacity="0.45"/><path d="M882.3 655.9Q876.2 638.6 858.2 641.5" fill="none" stroke="#f4aab2" stroke-width="3.2" opacity="0.45"/><ellipse cx="853.6" cy="659.3" rx="12.8" ry="11.9" fill="#e05a68" opacity="0.3"/><path d="M891.3 656.4L891.2 660L890.7 662.5L890 664.7L889.1 666.7L887.8 668.4L886.3 669.9L884.5 671.1L882.5 671.9L880.2 671.9L877.6 671.4L874.8 670.6L871.6 670.7L868.2 672.6L864.4 675.3L860 677.4L853.7 678.1L847.3 677.4L842.9 675.3L839.1 672.6L835.7 670.7L832.5 670.6L829.7 671.4L827.1 671.9L824.8 671.9L822.8 671.1L821 669.9L819.5 668.4L818.2 666.7L817.3 664.7L816.6 662.5L816.1 660L816 656.4L816.2 653L816.7 650.1L817.5 647.4L818.6 644.8L820.1 642.4L821.8 640.2L823.9 638.1L826.2 636.2L828.8 634.5L831.6 633L834.6 631.7L837.9 630.6L841.4 629.8L845.1 629.4L849.1 630.7L853.6 633.1L858.2 630.7L862.2 629.4L865.9 629.8L869.4 630.6L872.7 631.7L875.7 633L878.5 634.5L881.1 636.2L883.4 638.1L885.5 640.2L887.2 642.4L888.7 644.8L889.8 647.4L890.6 650.1L891.1 653Z" fill="url(#rim)"/><path d="M891.3 656.4L891.2 660L890.7 662.5L890 664.7L889.1 666.7L887.8 668.4L886.3 669.9L884.5 671.1L882.5 671.9L880.2 671.9L877.6 671.4L874.8 670.6L871.6 670.7L868.2 672.6L864.4 675.3L860 677.4L853.7 678.1L847.3 677.4L842.9 675.3L839.1 672.6L835.7 670.7L832.5 670.6L829.7 671.4L827.1 671.9L824.8 671.9L822.8 671.1L821 669.9L819.5 668.4L818.2 666.7L817.3 664.7L816.6 662.5L816.1 660L816 656.4L816.2 653L816.7 650.1L817.5 647.4L818.6 644.8L820.1 642.4L821.8 640.2L823.9 638.1L826.2 636.2L828.8 634.5L831.6 633L834.6 631.7L837.9 630.6L841.4 629.8L845.1 629.4L849.1 630.7L853.6 633.1L858.2 630.7L862.2 629.4L865.9 629.8L869.4 630.6L872.7 631.7L875.7 633L878.5 634.5L881.1 636.2L883.4 638.1L885.5 640.2L887.2 642.4L888.7 644.8L889.8 647.4L890.6 650.1L891.1 653Z" fill="none" stroke="#7a1020" stroke-width="2.2" opacity="0.3"/>
<path d="M1003.8 656L1003.7 659.3L1003.3 661.5L1002.6 663.5L1001.8 665.2L1000.6 666.8L999.2 668.1L997.6 669.2L995.7 669.8L993.6 669.9L991.2 669.4L988.6 668.7L985.8 668.8L982.6 670.5L979.1 672.9L975 674.7L969.3 675.4L963.5 674.7L959.4 672.9L955.9 670.5L952.7 668.8L949.9 668.7L947.3 669.4L944.9 669.9L942.8 669.8L940.9 669.2L939.3 668.1L937.9 666.8L936.7 665.2L935.9 663.5L935.2 661.5L934.8 659.3L934.7 656L934.9 653.1L935.3 650.5L936.1 648L937.1 645.8L938.4 643.6L940 641.6L941.9 639.7L944 638.1L946.4 636.5L949 635.2L951.8 634.1L954.8 633.1L958 632.4L961.4 632L965.1 633.2L969.2 635.3L973.4 633.2L977.1 632L980.5 632.4L983.7 633.1L986.7 634.1L989.5 635.2L992.1 636.5L994.5 638.1L996.6 639.7L998.5 641.6L1000.1 643.6L1001.4 645.8L1002.4 648L1003.2 650.5L1003.6 653.1Z" fill="#b62236"/><path d="M943 655.6Q948.5 640.2 965.1 642.8" fill="none" stroke="#f4aab2" stroke-width="3.2" opacity="0.45"/><path d="M995.5 655.6Q990 640.2 973.4 642.8" fill="none" stroke="#f4aab2" stroke-width="3.2" opacity="0.45"/><ellipse cx="969.2" cy="658.7" rx="11.7" ry="10.6" fill="#e05a68" opacity="0.3"/><path d="M1003.8 656L1003.7 659.3L1003.3 661.5L1002.6 663.5L1001.8 665.2L1000.6 666.8L999.2 668.1L997.6 669.2L995.7 669.8L993.6 669.9L991.2 669.4L988.6 668.7L985.8 668.8L982.6 670.5L979.1 672.9L975 674.7L969.3 675.4L963.5 674.7L959.4 672.9L955.9 670.5L952.7 668.8L949.9 668.7L947.3 669.4L944.9 669.9L942.8 669.8L940.9 669.2L939.3 668.1L937.9 666.8L936.7 665.2L935.9 663.5L935.2 661.5L934.8 659.3L934.7 656L934.9 653.1L935.3 650.5L936.1 648L937.1 645.8L938.4 643.6L940 641.6L941.9 639.7L944 638.1L946.4 636.5L949 635.2L951.8 634.1L954.8 633.1L958 632.4L961.4 632L965.1 633.2L969.2 635.3L973.4 633.2L977.1 632L980.5 632.4L983.7 633.1L986.7 634.1L989.5 635.2L992.1 636.5L994.5 638.1L996.6 639.7L998.5 641.6L1000.1 643.6L1001.4 645.8L1002.4 648L1003.2 650.5L1003.6 653.1Z" fill="url(#rim)"/><path d="M1003.8 656L1003.7 659.3L1003.3 661.5L1002.6 663.5L1001.8 665.2L1000.6 666.8L999.2 668.1L997.6 669.2L995.7 669.8L993.6 669.9L991.2 669.4L988.6 668.7L985.8 668.8L982.6 670.5L979.1 672.9L975 674.7L969.3 675.4L963.5 674.7L959.4 672.9L955.9 670.5L952.7 668.8L949.9 668.7L947.3 669.4L944.9 669.9L942.8 669.8L940.9 669.2L939.3 668.1L937.9 666.8L936.7 665.2L935.9 663.5L935.2 661.5L934.8 659.3L934.7 656L934.9 653.1L935.3 650.5L936.1 648L937.1 645.8L938.4 643.6L940 641.6L941.9 639.7L944 638.1L946.4 636.5L949 635.2L951.8 634.1L954.8 633.1L958 632.4L961.4 632L965.1 633.2L969.2 635.3L973.4 633.2L977.1 632L980.5 632.4L983.7 633.1L986.7 634.1L989.5 635.2L992.1 636.5L994.5 638.1L996.6 639.7L998.5 641.6L1000.1 643.6L1001.4 645.8L1002.4 648L1003.2 650.5L1003.6 653.1Z" fill="none" stroke="#7a1020" stroke-width="2.2" opacity="0.3"/>
</g></g>
<text transform="translate(48.7 771.2) scale(1.10 1)" font-family="'Liberation Serif', serif" font-size="36">H<tspan font-size="24.8" dy="6">1</tspan></text>
<text transform="translate(160.9 771.2) scale(1.10 1)" font-family="'Liberation Serif', serif" font-size="36">H<tspan font-size="24.8" dy="6">2</tspan></text>
<text transform="translate(273 771.2) scale(1.10 1)" font-family="'Liberation Serif', serif" font-size="36">H<tspan font-size="24.8" dy="6">3</tspan></text>
<text transform="translate(394.6 771.2) scale(1.10 1)" font-family="'Liberation Serif', serif" font-size="36">H<tspan font-size="24.8" dy="6">4</tspan></text>
<text transform="translate(507.2 771.2) scale(1.10 1)" font-family="'Liberation Serif', serif" font-size="36">H<tspan font-size="24.8" dy="6">5</tspan></text>
<text transform="translate(618.6 771.2) scale(1.10 1)" font-family="'Liberation Serif', serif" font-size="36">H<tspan font-size="24.8" dy="6">6</tspan></text>
<text transform="translate(730.7 771.2) scale(1.10 1)" font-family="'Liberation Serif', serif" font-size="36">H<tspan font-size="24.8" dy="6">7</tspan></text>
<text transform="translate(842.3 771.2) scale(1.10 1)" font-family="'Liberation Serif', serif" font-size="36">H<tspan font-size="24.8" dy="6">8</tspan></text>
<text transform="translate(946.2 771.2) scale(1.10 1)" font-family="'Liberation Serif', serif" font-size="36">H<tspan font-size="24.8" dy="6">9</tspan></text>
</g>
<g id="panel-b">
<clipPath id="clipb"><rect x="1080" y="98" width="120" height="720"/></clipPath>
<g clip-path="url(#clipb)">
<text transform="translate(1118.9 755) rotate(-90) scale(1.000 1.040)" font-family="'Liberation Sans', sans-serif" font-size="31.8" font-weight="bold" text-anchor="start">Infarction volume ralative to the whole brain</text>
<text transform="translate(1160.3 421.3) rotate(-90) scale(1.000 1.040)" font-family="'Liberation Sans', sans-serif" font-size="35" font-weight="normal" text-anchor="middle">(%)</text>
</g>
<path d="M1265.1 613.4V478.6H1308.3V613.4" fill="none" stroke="#000000" stroke-width="5.4"/>
<path d="M1330.2 613.4V538.9H1372.5V613.4" fill="none" stroke="#9e9ea3" stroke-width="5.4"/>
<path d="M1393.9 613.4V535H1437.1V613.4" fill="none" stroke="#808080" stroke-width="5.4"/>
<path d="M1458 613.4V502.4H1501.1V613.4" fill="none" stroke="#d0d0d0" stroke-width="5.4"/>
<path d="M1522.7 613.4V446H1565.4V613.4" fill="none" stroke="#666666" stroke-width="5.4"/>
<path d="M1586.7 613.4V355.1H1629.5V613.4" fill="none" stroke="#9e9ea3" stroke-width="5.4"/>
<path d="M1651.5 613.4V368.3H1693.9V613.4" fill="none" stroke="#666666" stroke-width="5.4"/>
<path d="M1715.4 613.4V385.8H1758.4V613.4" fill="none" stroke="#e8e8e8" stroke-width="5.4"/>
<path d="M1779.7 613.4V545.8H1822.9V613.4" fill="none" stroke="#9e9ea3" stroke-width="5.4"/>
<path d="M1244 225.5V615.2" stroke="#000" stroke-width="4.2" fill="none"/>
<path d="M1232.5 615.2H1849" stroke="#000" stroke-width="4.2" fill="none"/>
<path d="M1232.5 227.6H1244" stroke="#000" stroke-width="4.2" fill="none"/>
<text transform="translate(1227.5 238) scale(1.000 1.060)" font-family="'Liberation Sans', sans-serif" font-size="30.8" font-weight="bold" text-anchor="end">40</text>
<path d="M1232.5 324.5H1244" stroke="#000" stroke-width="4.2" fill="none"/>
<text transform="translate(1227.5 334.9) scale(1.000 1.060)" font-family="'Liberation Sans', sans-serif" font-size="30.8" font-weight="bold" text-anchor="end">35</text>
<path d="M1232.5 421.4H1244" stroke="#000" stroke-width="4.2" fill="none"/>
<text transform="translate(1227.5 431.8) scale(1.000 1.060)" font-family="'Liberation Sans', sans-serif" font-size="30.8" font-weight="bold" text-anchor="end">30</text>
<path d="M1232.5 518.3H1244" stroke="#000" stroke-width="4.2" fill="none"/>
<text transform="translate(1227.5 528.7) scale(1.000 1.060)" font-family="'Liberation Sans', sans-serif" font-size="30.8" font-weight="bold" text-anchor="end">25</text>
<text transform="translate(1227.5 625.6) scale(1.000 1.060)" font-family="'Liberation Sans', sans-serif" font-size="30.8" font-weight="bold" text-anchor="end">20</text>
<path d="M1286.9 615.2V626.2" stroke="#000" stroke-width="3.8" fill="none"/>
<text transform="translate(1286.9 657.6) scale(1.000 1.075)" font-family="'Liberation Sans', sans-serif" font-size="29.6" font-weight="bold" text-anchor="middle">H<tspan font-weight="normal" font-size="22.5">1</tspan></text>
<path d="M1351.2 615.2V626.2" stroke="#000" stroke-width="3.8" fill="none"/>
<text transform="translate(1351.2 657.6) scale(1.000 1.075)" font-family="'Liberation Sans', sans-serif" font-size="29.6" font-weight="bold" text-anchor="middle">H<tspan font-weight="normal" font-size="22.5">2</tspan></text>
<path d="M1415.4 615.2V626.2" stroke="#000" stroke-width="3.8" fill="none"/>
<text transform="translate(1415.4 657.6) scale(1.000 1.075)" font-family="'Liberation Sans', sans-serif" font-size="29.6" font-weight="bold" text-anchor="middle">H<tspan font-weight="normal" font-size="22.5">3</tspan></text>
<path d="M1479.7 615.2V626.2" stroke="#000" stroke-width="3.8" fill="none"/>
<text transform="translate(1479.7 657.6) scale(1.000 1.075)" font-family="'Liberation Sans', sans-serif" font-size="29.6" font-weight="bold" text-anchor="middle">H<tspan font-weight="normal" font-size="22.5">4</tspan></text>
<path d="M1544 615.2V626.2" stroke="#000" stroke-width="3.8" fill="none"/>
<text transform="translate(1544 657.6) scale(1.000 1.075)" font-family="'Liberation Sans', sans-serif" font-size="29.6" font-weight="bold" text-anchor="middle">H<tspan font-weight="normal" font-size="22.5">5</tspan></text>
<path d="M1608.2 615.2V626.2" stroke="#000" stroke-width="3.8" fill="none"/>
<text transform="translate(1608.2 657.6) scale(1.000 1.075)" font-family="'Liberation Sans', sans-serif" font-size="29.6" font-weight="bold" text-anchor="middle">H<tspan font-weight="normal" font-size="22.5">6</tspan></text>
<path d="M1672.5 615.2V626.2" stroke="#000" stroke-width="3.8" fill="none"/>
<text transform="translate(1672.5 657.6) scale(1.000 1.075)" font-family="'Liberation Sans', sans-serif" font-size="29.6" font-weight="bold" text-anchor="middle">H<tspan font-weight="normal" font-size="22.5">7</tspan></text>
<path d="M1736.8 615.2V626.2" stroke="#000" stroke-width="3.8" fill="none"/>
<text transform="translate(1736.8 657.6) scale(1.000 1.075)" font-family="'Liberation Sans', sans-serif" font-size="29.6" font-weight="bold" text-anchor="middle">H<tspan font-weight="normal" font-size="22.5">8</tspan></text>
<path d="M1801.1 615.2V626.2" stroke="#000" stroke-width="3.8" fill="none"/>
<text transform="translate(1801.1 657.6) scale(1.000 1.075)" font-family="'Liberation Sans', sans-serif" font-size="29.6" font-weight="bold" text-anchor="middle">H<tspan font-weight="normal" font-size="22.5">9</tspan></text>
<path d="M1286.9 445.7V512.3M1276.2 445.7H1297.7M1276.2 512.3H1297.7" stroke="#000" stroke-width="3.6" fill="none"/>
<circle cx="1286.9" cy="432.2" r="8.2" fill="#ff0000"/>
<circle cx="1277.4" cy="453.5" r="8.2" fill="#ff0000"/>
<circle cx="1296.4" cy="465.4" r="8.2" fill="#ff0000"/>
<circle cx="1286.9" cy="474.5" r="8.2" fill="#ff0000"/>
<circle cx="1276" cy="488.8" r="8.2" fill="#ff0000"/>
<circle cx="1297.8" cy="504.5" r="8.2" fill="#ff0000"/>
<circle cx="1286.9" cy="532.3" r="8.2" fill="#ff0000"/>
<path d="M1351.1 489V586M1340.3 489H1361.8M1340.3 586H1361.8" stroke="#ff6600" stroke-width="3.6" fill="none"/>
<rect x="1333.3" y="475.4" width="16.5" height="16.5" fill="#ff6600"/>
<rect x="1352.3" y="477.1" width="16.5" height="16.5" fill="#ff6600"/>
<rect x="1342.8" y="483.7" width="16.5" height="16.5" fill="#ff6600"/>
<rect x="1342.8" y="555.3" width="16.5" height="16.5" fill="#ff6600"/>
<rect x="1333.3" y="564.8" width="16.5" height="16.5" fill="#ff6600"/>
<rect x="1352.3" y="577.1" width="16.5" height="16.5" fill="#ff6600"/>
<rect x="1342.8" y="579.4" width="16.5" height="16.5" fill="#ff6600"/>
<path d="M1415.3 502.8V567.9M1404.5 502.8H1426M1404.5 567.9H1426" stroke="#000" stroke-width="3.6" fill="none"/>
<path d="M1407 495.9L1423.6 495.9L1415.3 480.1Z" fill="#ffff00"/>
<path d="M1397.5 524.4L1414.1 524.4L1405.8 508.6Z" fill="#ffff00"/>
<path d="M1416.5 521.5L1433.1 521.5L1424.8 505.7Z" fill="#ffff00"/>
<path d="M1407 537.5L1423.6 537.5L1415.3 521.7Z" fill="#ffff00"/>
<path d="M1397.5 562.3L1414.1 562.3L1405.8 546.5Z" fill="#ffff00"/>
<path d="M1407 582.8L1423.6 582.8L1415.3 567Z" fill="#ffff00"/>
<path d="M1416.5 580.6L1433.1 580.6L1424.8 564.8Z" fill="#ffff00"/>
<path d="M1479.6 475V529.7M1468.8 475H1490.3M1468.8 529.7H1490.3" stroke="#000" stroke-width="3.6" fill="none"/>
<path d="M1483.5 464.2L1500.1 464.2L1491.8 480Z" fill="#00ff00"/>
<path d="M1459.4 477.9L1476 477.9L1467.7 493.7Z" fill="#00ff00"/>
<path d="M1476.9 477.9L1493.5 477.9L1485.2 493.7Z" fill="#00ff00"/>
<path d="M1460.9 495.3L1477.5 495.3L1469.2 511.1Z" fill="#00ff00"/>
<path d="M1482 515.7L1498.6 515.7L1490.3 531.5Z" fill="#00ff00"/>
<path d="M1471.5 544.4L1488.1 544.4L1479.8 560.2Z" fill="#00ff00"/>
<path d="M1543.9 414.3V477.2M1533.2 414.3H1554.7M1533.2 477.2H1554.7" stroke="#000" stroke-width="3.6" fill="none"/>
<path d="M1555 393.9L1563.3 402.2L1555 410.5L1546.7 402.2Z" fill="#529ff7"/>
<path d="M1533.4 411L1541.7 419.3L1533.4 427.6L1525.1 419.3Z" fill="#529ff7"/>
<path d="M1534.4 431.4L1542.7 439.7L1534.4 448L1526.1 439.7Z" fill="#529ff7"/>
<path d="M1553.5 430.4L1561.8 438.7L1553.5 447L1545.2 438.7Z" fill="#529ff7"/>
<path d="M1543.9 443.9L1552.2 452.2L1543.9 460.5L1535.6 452.2Z" fill="#529ff7"/>
<path d="M1555 467.1L1563.3 475.4L1555 483.7L1546.7 475.4Z" fill="#529ff7"/>
<path d="M1533.4 485.5L1541.7 493.8L1533.4 502.1L1525.1 493.8Z" fill="#529ff7"/>
<path d="M1608.2 307.6V404.3M1597.5 307.6H1619M1597.5 404.3H1619" stroke="#000" stroke-width="3.6" fill="none"/>
<circle cx="1597.7" cy="300.3" r="8.1" fill="#0000ff" stroke="#9b9ba1" stroke-width="3.7"/>
<circle cx="1618.9" cy="308.7" r="8.1" fill="#0000ff" stroke="#9b9ba1" stroke-width="3.7"/>
<circle cx="1618.9" cy="333.5" r="8.1" fill="#0000ff" stroke="#9b9ba1" stroke-width="3.7"/>
<circle cx="1597.4" cy="345.1" r="8.1" fill="#0000ff" stroke="#9b9ba1" stroke-width="3.7"/>
<circle cx="1597.4" cy="378.3" r="8.1" fill="#0000ff" stroke="#9b9ba1" stroke-width="3.7"/>
<circle cx="1618.9" cy="385.6" r="8.1" fill="#0000ff" stroke="#9b9ba1" stroke-width="3.7"/>
<circle cx="1608.2" cy="438.5" r="8.1" fill="#0000ff" stroke="#9b9ba1" stroke-width="3.7"/>
<path d="M1672.6 329.1V407.1M1661.8 329.1H1683.3M1661.8 407.1H1683.3" stroke="#000" stroke-width="3.6" fill="none"/>
<rect x="1653.8" y="307.9" width="16.2" height="16.2" fill="#f54fd2" stroke="#666666" stroke-width="3.9"/>
<rect x="1675" y="321.7" width="16.2" height="16.2" fill="#f54fd2" stroke="#666666" stroke-width="3.9"/>
<rect x="1675" y="342.9" width="16.2" height="16.2" fill="#f54fd2" stroke="#666666" stroke-width="3.9"/>
<rect x="1653.8" y="356.7" width="16.2" height="16.2" fill="#f54fd2" stroke="#666666" stroke-width="3.9"/>
<rect x="1664.5" y="380.8" width="16.2" height="16.2" fill="#f54fd2" stroke="#666666" stroke-width="3.9"/>
<rect x="1675" y="399.8" width="16.2" height="16.2" fill="#f54fd2" stroke="#666666" stroke-width="3.9"/>
<rect x="1653.8" y="412.2" width="16.2" height="16.2" fill="#f54fd2" stroke="#666666" stroke-width="3.9"/>
<path d="M1736.8 350V421.7M1726 350H1747.5M1726 421.7H1747.5" stroke="#000" stroke-width="3.6" fill="none"/>
<path d="M1737.2 345.7L1758 345.7L1747.6 325.7Z" fill="#e8e8e8"/><path d="M1742.5 342.3L1752.7 342.3L1747.6 333Z" fill="#d0106c"/>
<path d="M1715.7 358.1L1736.5 358.1L1726.1 338.1Z" fill="#e8e8e8"/><path d="M1721 354.7L1731.2 354.7L1726.1 345.4Z" fill="#d0106c"/>
<path d="M1715.7 385L1736.5 385L1726.1 365Z" fill="#e8e8e8"/><path d="M1721 381.6L1731.2 381.6L1726.1 372.3Z" fill="#d0106c"/>
<path d="M1737.2 396.7L1758 396.7L1747.6 376.7Z" fill="#e8e8e8"/><path d="M1742.5 393.3L1752.7 393.3L1747.6 384Z" fill="#d0106c"/>
<path d="M1716.9 417.9L1737.7 417.9L1727.3 397.9Z" fill="#e8e8e8"/><path d="M1722.2 414.5L1732.4 414.5L1727.3 405.2Z" fill="#d0106c"/>
<path d="M1726.4 436.1L1747.2 436.1L1736.8 416.1Z" fill="#e8e8e8"/><path d="M1731.7 432.7L1741.9 432.7L1736.8 423.4Z" fill="#d0106c"/>
<path d="M1737.2 435.4L1758 435.4L1747.6 415.4Z" fill="#e8e8e8"/><path d="M1742.5 432L1752.7 432L1747.6 422.7Z" fill="#d0106c"/>
<path d="M1801.1 521.5V586.8M1790.3 586.8H1811.8" stroke="#000" stroke-width="3.6" fill="none"/>
<path d="M1780 528.7L1800.8 528.7L1790.4 548.7Z" fill="#9b9ba1"/><path d="M1785.3 532.1L1795.5 532.1L1790.4 541.4Z" fill="#000000"/>
<path d="M1801.3 524.8L1822.1 524.8L1811.7 544.8Z" fill="#9b9ba1"/><path d="M1806.6 528.2L1816.8 528.2L1811.7 537.5Z" fill="#000000"/>
<path d="M1780 554.2L1800.8 554.2L1790.4 574.2Z" fill="#9b9ba1"/><path d="M1785.3 557.6L1795.5 557.6L1790.4 566.9Z" fill="#000000"/>
<path d="M1801.3 570.3L1822.1 570.3L1811.7 590.3Z" fill="#9b9ba1"/><path d="M1806.6 573.7L1816.8 573.7L1811.7 583Z" fill="#000000"/>
<path d="M1790.7 596.5L1811.5 596.5L1801.1 616.5Z" fill="#9b9ba1"/><path d="M1796 599.9L1806.2 599.9L1801.1 609.2Z" fill="#000000"/>
<text transform="translate(1340 462)" font-family="'Liberation Serif', serif" font-size="27.4" font-weight="bold" text-anchor="middle">NS</text>
<text transform="translate(1412.5 468.2)" font-family="'Liberation Serif', serif" font-size="27.4" font-weight="bold" text-anchor="middle">NS</text>
<text transform="translate(1798.9 491.2)" font-family="'Liberation Sans', sans-serif" font-size="45" font-weight="bold" text-anchor="middle">*</text>
<circle cx="1921" cy="257.1" r="8.2" fill="#ff0000"/>
<text transform="translate(1966.4 265.1) scale(1.050 1.070)" font-family="'Liberation Sans', sans-serif" font-size="32" font-weight="normal" text-anchor="start">H<tspan font-size="23.4" dy="7.5">1</tspan></text>
<rect x="1912.7" y="306.9" width="16.5" height="16.5" fill="#ff6600"/>
<text transform="translate(1966.4 323.2) scale(1.050 1.070)" font-family="'Liberation Sans', sans-serif" font-size="32" font-weight="normal" text-anchor="start">H<tspan font-size="23.4" dy="7.5">2</tspan></text>
<path d="M1912.7 381.1L1929.3 381.1L1921 365.3Z" fill="#ffff00"/>
<text transform="translate(1966.4 381.2) scale(1.050 1.070)" font-family="'Liberation Sans', sans-serif" font-size="32" font-weight="normal" text-anchor="start">H<tspan font-size="23.4" dy="7.5">3</tspan></text>
<path d="M1912.7 423.4L1929.3 423.4L1921 439.1Z" fill="#00ff00"/>
<text transform="translate(1966.4 439.2) scale(1.050 1.070)" font-family="'Liberation Sans', sans-serif" font-size="32" font-weight="normal" text-anchor="start">H<tspan font-size="23.4" dy="7.5">4</tspan></text>
<path d="M1921 481L1929.3 489.3L1921 497.6L1912.7 489.3Z" fill="#529ff7"/>
<text transform="translate(1966.4 497.3) scale(1.050 1.070)" font-family="'Liberation Sans', sans-serif" font-size="32" font-weight="normal" text-anchor="start">H<tspan font-size="23.4" dy="7.5">5</tspan></text>
<circle cx="1921" cy="547.4" r="8.1" fill="#0000ff" stroke="#9b9ba1" stroke-width="3.7"/>
<text transform="translate(1966.4 555.4) scale(1.050 1.070)" font-family="'Liberation Sans', sans-serif" font-size="32" font-weight="normal" text-anchor="start">H<tspan font-size="23.4" dy="7.5">6</tspan></text>
<rect x="1912.9" y="597.3" width="16.2" height="16.2" fill="#f54fd2" stroke="#666666" stroke-width="3.9"/>
<text transform="translate(1966.4 613.4) scale(1.050 1.070)" font-family="'Liberation Sans', sans-serif" font-size="32" font-weight="normal" text-anchor="start">H<tspan font-size="23.4" dy="7.5">7</tspan></text>
<path d="M1910.6 673.5L1931.4 673.5L1921 653.4Z" fill="#e8e8e8"/><path d="M1915.9 670L1926.1 670L1921 660.8Z" fill="#d0106c"/>
<text transform="translate(1966.4 671.5) scale(1.050 1.070)" font-family="'Liberation Sans', sans-serif" font-size="32" font-weight="normal" text-anchor="start">H<tspan font-size="23.4" dy="7.5">8</tspan></text>
<path d="M1910.6 711.5L1931.4 711.5L1921 731.5Z" fill="#9b9ba1"/><path d="M1915.9 714.9L1926.1 714.9L1921 724.2Z" fill="#000000"/>
<text transform="translate(1966.4 729.5) scale(1.050 1.070)" font-family="'Liberation Sans', sans-serif" font-size="32" font-weight="normal" text-anchor="start">H<tspan font-size="23.4" dy="7.5">9</tspan></text>
</g>
<g id="panel-c">
<text transform="translate(29.8 1163.4) rotate(-90)" font-family="'Liberation Sans', sans-serif" font-size="35.3" font-weight="bold" text-anchor="middle">Cerebral water content <tspan font-weight="normal">(%)</tspan></text>
<path d="M121.1 1371.9V1164H166.5V1371.9" fill="none" stroke="#000000" stroke-width="5.4"/>
<path d="M188 1371.9V1315.6H233.2V1371.9" fill="none" stroke="#9e9ea3" stroke-width="5.4"/>
<path d="M254.8 1371.9V1299.4H300.1V1371.9" fill="none" stroke="#808080" stroke-width="5.4"/>
<path d="M321.8 1371.9V1267H367.2V1371.9" fill="none" stroke="#d0d0d0" stroke-width="5.4"/>
<path d="M388.8 1371.9V1108.2H433.7V1371.9" fill="none" stroke="#666666" stroke-width="5.4"/>
<path d="M455.7 1371.9V992.5H500.6V1371.9" fill="none" stroke="#9e9ea3" stroke-width="5.4"/>
<path d="M522.8 1371.9V1010.7H567.7V1371.9" fill="none" stroke="#666666" stroke-width="5.4"/>
<path d="M589.8 1371.9V1023.9H634.7V1371.9" fill="none" stroke="#e8e8e8" stroke-width="5.4"/>
<path d="M656.8 1371.9V1328.7H702V1371.9" fill="none" stroke="#9e9ea3" stroke-width="5.4"/>
<path d="M98.8 952.9V1373.7" stroke="#000" stroke-width="4.2" fill="none"/>
<path d="M87.3 1373.7H729" stroke="#000" stroke-width="4.2" fill="none"/>
<path d="M87.3 955H98.8" stroke="#000" stroke-width="4.2" fill="none"/>
<text transform="translate(82.3 965.4) scale(1.000 1.060)" font-family="'Liberation Sans', sans-serif" font-size="30.8" font-weight="bold" text-anchor="end">83</text>
<path d="M87.3 1094.6H98.8" stroke="#000" stroke-width="4.2" fill="none"/>
<text transform="translate(82.3 1105) scale(1.000 1.060)" font-family="'Liberation Sans', sans-serif" font-size="30.8" font-weight="bold" text-anchor="end">82</text>
<path d="M87.3 1234.2H98.8" stroke="#000" stroke-width="4.2" fill="none"/>
<text transform="translate(82.3 1244.6) scale(1.000 1.060)" font-family="'Liberation Sans', sans-serif" font-size="30.8" font-weight="bold" text-anchor="end">81</text>
<text transform="translate(82.3 1384.1) scale(1.000 1.060)" font-family="'Liberation Sans', sans-serif" font-size="30.8" font-weight="bold" text-anchor="end">80</text>
<path d="M143.2 1373.7V1384.7" stroke="#000" stroke-width="3.8" fill="none"/>
<text transform="translate(143.2 1418.2) scale(1.000 1.075)" font-family="'Liberation Sans', sans-serif" font-size="29.6" font-weight="bold" text-anchor="middle">H<tspan font-weight="normal" font-size="22.5">1</tspan></text>
<path d="M210.3 1373.7V1384.7" stroke="#000" stroke-width="3.8" fill="none"/>
<text transform="translate(210.3 1418.2) scale(1.000 1.075)" font-family="'Liberation Sans', sans-serif" font-size="29.6" font-weight="bold" text-anchor="middle">H<tspan font-weight="normal" font-size="22.5">2</tspan></text>
<path d="M277.3 1373.7V1384.7" stroke="#000" stroke-width="3.8" fill="none"/>
<text transform="translate(277.3 1418.2) scale(1.000 1.075)" font-family="'Liberation Sans', sans-serif" font-size="29.6" font-weight="bold" text-anchor="middle">H<tspan font-weight="normal" font-size="22.5">3</tspan></text>
<path d="M344.4 1373.7V1384.7" stroke="#000" stroke-width="3.8" fill="none"/>
<text transform="translate(344.4 1418.2) scale(1.000 1.075)" font-family="'Liberation Sans', sans-serif" font-size="29.6" font-weight="bold" text-anchor="middle">H<tspan font-weight="normal" font-size="22.5">4</tspan></text>
<path d="M411.4 1373.7V1384.7" stroke="#000" stroke-width="3.8" fill="none"/>
<text transform="translate(411.4 1418.2) scale(1.000 1.075)" font-family="'Liberation Sans', sans-serif" font-size="29.6" font-weight="bold" text-anchor="middle">H<tspan font-weight="normal" font-size="22.5">5</tspan></text>
<path d="M478.5 1373.7V1384.7" stroke="#000" stroke-width="3.8" fill="none"/>
<text transform="translate(478.5 1418.2) scale(1.000 1.075)" font-family="'Liberation Sans', sans-serif" font-size="29.6" font-weight="bold" text-anchor="middle">H<tspan font-weight="normal" font-size="22.5">6</tspan></text>
<path d="M545.6 1373.7V1384.7" stroke="#000" stroke-width="3.8" fill="none"/>
<text transform="translate(545.6 1418.2) scale(1.000 1.075)" font-family="'Liberation Sans', sans-serif" font-size="29.6" font-weight="bold" text-anchor="middle">H<tspan font-weight="normal" font-size="22.5">7</tspan></text>
<path d="M612.6 1373.7V1384.7" stroke="#000" stroke-width="3.8" fill="none"/>
<text transform="translate(612.6 1418.2) scale(1.000 1.075)" font-family="'Liberation Sans', sans-serif" font-size="29.6" font-weight="bold" text-anchor="middle">H<tspan font-weight="normal" font-size="22.5">8</tspan></text>
<path d="M679.7 1373.7V1384.7" stroke="#000" stroke-width="3.8" fill="none"/>
<text transform="translate(679.7 1418.2) scale(1.000 1.075)" font-family="'Liberation Sans', sans-serif" font-size="29.6" font-weight="bold" text-anchor="middle">H<tspan font-weight="normal" font-size="22.5">9</tspan></text>
<path d="M143.7 1134V1193.8M132.9 1134H154.4M132.9 1193.8H154.4" stroke="#000" stroke-width="3.6" fill="none"/>
<circle cx="143.7" cy="1110.6" r="8.5" fill="#ff0000"/>
<circle cx="143.7" cy="1143.8" r="8.5" fill="#ff0000"/>
<circle cx="153.6" cy="1162.4" r="8.5" fill="#ff0000"/>
<circle cx="133.8" cy="1170.8" r="8.5" fill="#ff0000"/>
<circle cx="144.4" cy="1170.8" r="8.5" fill="#ff0000"/>
<circle cx="154.9" cy="1187" r="8.5" fill="#ff0000"/>
<circle cx="132.7" cy="1202.6" r="8.5" fill="#ff0000"/>
<path d="M210.6 1290.1V1341.2M199.8 1290.1H221.3M199.8 1341.2H221.3" stroke="#ff6600" stroke-width="3.6" fill="none"/>
<rect x="201.9" y="1270.2" width="17.3" height="17.3" fill="#ff6600"/>
<rect x="189.3" y="1291" width="17.3" height="17.3" fill="#ff6600"/>
<rect x="197.8" y="1300.1" width="17.3" height="17.3" fill="#ff6600"/>
<rect x="214.6" y="1297.2" width="17.3" height="17.3" fill="#ff6600"/>
<rect x="208" y="1313.3" width="17.3" height="17.3" fill="#ff6600"/>
<rect x="213.1" y="1330" width="17.3" height="17.3" fill="#ff6600"/>
<rect x="190.9" y="1345.6" width="17.3" height="17.3" fill="#ff6600"/>
<path d="M277.2 1276V1323.4M266.4 1276H287.9M266.4 1323.4H287.9" stroke="#000" stroke-width="3.6" fill="none"/>
<path d="M279.8 1276.4L297.2 1276.4L288.5 1260Z" fill="#ffff00"/>
<path d="M257.6 1287.5L275 1287.5L266.3 1271.1Z" fill="#ffff00"/>
<path d="M279.2 1293.6L296.6 1293.6L287.9 1277.2Z" fill="#ffff00"/>
<path d="M258.3 1311.2L275.7 1311.2L267 1294.8Z" fill="#ffff00"/>
<path d="M268.5 1317.4L285.9 1317.4L277.2 1301Z" fill="#ffff00"/>
<path d="M279.8 1327.9L297.2 1327.9L288.5 1311.5Z" fill="#ffff00"/>
<path d="M257.6 1344.7L275 1344.7L266.3 1328.3Z" fill="#ffff00"/>
<path d="M344 1248.2V1285.7M333.2 1248.2H354.8M333.2 1285.7H354.8" stroke="#000" stroke-width="3.6" fill="none"/>
<path d="M323.3 1232.7L340.7 1232.7L332 1249.1Z" fill="#00ff00"/>
<path d="M348.5 1243L365.9 1243L357.2 1259.4Z" fill="#00ff00"/>
<path d="M329.8 1251L347.2 1251L338.5 1267.4Z" fill="#00ff00"/>
<path d="M340 1255.4L357.4 1255.4L348.7 1271.8Z" fill="#00ff00"/>
<path d="M325.4 1262.7L342.8 1262.7L334.1 1279.1Z" fill="#00ff00"/>
<path d="M345.9 1278L363.3 1278L354.6 1294.4Z" fill="#00ff00"/>
<path d="M335.7 1287.5L353.1 1287.5L344.4 1303.9Z" fill="#00ff00"/>
<path d="M411.4 1082.9V1134M400.6 1082.9H422.1M400.6 1134H422.1" stroke="#000" stroke-width="3.6" fill="none"/>
<path d="M422.7 1066.8L431.4 1075.5L422.7 1084.2L414 1075.5Z" fill="#529ff7"/>
<path d="M400.1 1075.5L408.8 1084.2L400.1 1092.9L391.4 1084.2Z" fill="#529ff7"/>
<path d="M421.6 1090.8L430.3 1099.5L421.6 1108.2L412.9 1099.5Z" fill="#529ff7"/>
<path d="M401.6 1096.1L410.3 1104.8L401.6 1113.5L392.9 1104.8Z" fill="#529ff7"/>
<path d="M411.4 1107.8L420.1 1116.5L411.4 1125.2L402.7 1116.5Z" fill="#529ff7"/>
<path d="M422.7 1119.7L431.4 1128.4L422.7 1137.1L414 1128.4Z" fill="#529ff7"/>
<path d="M400.1 1138.7L408.8 1147.4L400.1 1156.1L391.4 1147.4Z" fill="#529ff7"/>
<path d="M478.5 965V1020.7M467.8 965H489.2M467.8 1020.7H489.2" stroke="#000" stroke-width="3.6" fill="none"/>
<circle cx="489.4" cy="958.9" r="8.4" fill="#0000ff" stroke="#9b9ba1" stroke-width="3.9"/>
<circle cx="467.2" cy="964.7" r="8.4" fill="#0000ff" stroke="#9b9ba1" stroke-width="3.9"/>
<circle cx="488" cy="981.1" r="8.4" fill="#0000ff" stroke="#9b9ba1" stroke-width="3.9"/>
<circle cx="478.9" cy="999.7" r="8.4" fill="#0000ff" stroke="#9b9ba1" stroke-width="3.9"/>
<circle cx="468.6" cy="993.5" r="8.4" fill="#0000ff" stroke="#9b9ba1" stroke-width="3.9"/>
<circle cx="489.4" cy="1024.1" r="8.4" fill="#0000ff" stroke="#9b9ba1" stroke-width="3.9"/>
<circle cx="467.2" cy="1031.4" r="8.4" fill="#0000ff" stroke="#9b9ba1" stroke-width="3.9"/>
<path d="M545.3 985V1031M534.5 985H556M534.5 1031H556" stroke="#000" stroke-width="3.6" fill="none"/>
<rect x="547.4" y="981.1" width="16.9" height="16.9" fill="#f54fd2" stroke="#666666" stroke-width="4.1"/>
<rect x="537.9" y="1002.6" width="16.9" height="16.9" fill="#f54fd2" stroke="#666666" stroke-width="4.1"/>
<rect x="547.4" y="1025.9" width="16.9" height="16.9" fill="#f54fd2" stroke="#666666" stroke-width="4.1"/>
<rect x="536.9" y="972.7" width="16.9" height="16.9" fill="#f54fd2" stroke="#666666" stroke-width="4.1"/>
<rect x="527.4" y="988" width="16.9" height="16.9" fill="#f54fd2" stroke="#666666" stroke-width="4.1"/>
<rect x="527.4" y="1012.8" width="16.9" height="16.9" fill="#f54fd2" stroke="#666666" stroke-width="4.1"/>
<rect x="536.9" y="1033.9" width="16.9" height="16.9" fill="#f54fd2" stroke="#666666" stroke-width="4.1"/>
<path d="M612.3 1000.8V1049.6M601.5 1000.8H623M601.5 1049.6H623" stroke="#000" stroke-width="3.6" fill="none"/>
<path d="M612.8 999.6L634.6 999.6L623.7 978.6Z" fill="#e8e8e8"/><path d="M618.3 996L629.1 996L623.7 986.3Z" fill="#d0106c"/>
<path d="M590.6 1009.8L612.4 1009.8L601.5 988.8Z" fill="#e8e8e8"/><path d="M596.1 1006.2L606.9 1006.2L601.5 996.5Z" fill="#d0106c"/>
<path d="M611.3 1030.2L633.1 1030.2L622.2 1009.2Z" fill="#e8e8e8"/><path d="M616.8 1026.6L627.6 1026.6L622.2 1016.9Z" fill="#d0106c"/>
<path d="M591.3 1034.6L613.1 1034.6L602.2 1013.6Z" fill="#e8e8e8"/><path d="M596.8 1031L607.6 1031L602.2 1021.3Z" fill="#d0106c"/>
<path d="M601.4 1039.7L623.2 1039.7L612.3 1018.7Z" fill="#e8e8e8"/><path d="M606.9 1036.1L617.7 1036.1L612.3 1026.4Z" fill="#d0106c"/>
<path d="M612 1060.9L633.8 1060.9L622.9 1039.9Z" fill="#e8e8e8"/><path d="M617.5 1057.3L628.3 1057.3L622.9 1047.6Z" fill="#d0106c"/>
<path d="M590.1 1068.2L611.9 1068.2L601 1047.2Z" fill="#e8e8e8"/><path d="M595.6 1064.6L606.4 1064.6L601 1054.9Z" fill="#d0106c"/>
<path d="M679.6 1304.5V1353.4M668.9 1304.5H690.4M668.9 1353.4H690.4" stroke="#000" stroke-width="3.6" fill="none"/>
<path d="M679.7 1284.8L701.5 1284.8L690.6 1305.8Z" fill="#9b9ba1"/><path d="M685.2 1288.4L696 1288.4L690.6 1298.1Z" fill="#000000"/>
<path d="M657.4 1296.9L679.2 1296.9L668.3 1317.9Z" fill="#9b9ba1"/><path d="M662.9 1300.5L673.7 1300.5L668.3 1310.2Z" fill="#000000"/>
<path d="M678.2 1309.4L700 1309.4L689.1 1330.4Z" fill="#9b9ba1"/><path d="M683.7 1313L694.5 1313L689.1 1322.7Z" fill="#000000"/>
<path d="M658.5 1320.3L680.3 1320.3L669.4 1341.3Z" fill="#9b9ba1"/><path d="M664 1323.9L674.8 1323.9L669.4 1333.6Z" fill="#000000"/>
<path d="M668.7 1326.9L690.5 1326.9L679.6 1347.9Z" fill="#9b9ba1"/><path d="M674.2 1330.5L685 1330.5L679.6 1340.2Z" fill="#000000"/>
<path d="M679.7 1338.5L701.5 1338.5L690.6 1359.5Z" fill="#9b9ba1"/><path d="M685.2 1342.1L696 1342.1L690.6 1351.8Z" fill="#000000"/>
<path d="M657.4 1354.6L679.2 1354.6L668.3 1375.6Z" fill="#9b9ba1"/><path d="M662.9 1358.2L673.7 1358.2L668.3 1367.9Z" fill="#000000"/>
<text transform="translate(196.9 1258.2)" font-family="'Liberation Serif', serif" font-size="27.4" font-weight="bold" text-anchor="middle">NS</text>
<text transform="translate(267.7 1247.3)" font-family="'Liberation Serif', serif" font-size="27.4" font-weight="bold" text-anchor="middle">NS</text>
<text transform="translate(679.3 1238.1)" font-family="'Liberation Sans', sans-serif" font-size="45" font-weight="bold" text-anchor="middle">*</text>
<circle cx="844.5" cy="987" r="8.5" fill="#ff0000"/>
<text transform="translate(892.4 995) scale(1.050 1.070)" font-family="'Liberation Sans', sans-serif" font-size="32" font-weight="normal" text-anchor="start">H<tspan font-size="23.4" dy="7.5">1</tspan></text>
<rect x="835.8" y="1041.4" width="17.3" height="17.3" fill="#ff6600"/>
<text transform="translate(892.4 1058.1) scale(1.050 1.070)" font-family="'Liberation Sans', sans-serif" font-size="32" font-weight="normal" text-anchor="start">H<tspan font-size="23.4" dy="7.5">2</tspan></text>
<path d="M835.8 1121.4L853.2 1121.4L844.5 1105Z" fill="#ffff00"/>
<text transform="translate(892.4 1121.2) scale(1.050 1.070)" font-family="'Liberation Sans', sans-serif" font-size="32" font-weight="normal" text-anchor="start">H<tspan font-size="23.4" dy="7.5">3</tspan></text>
<path d="M835.8 1168.1L853.2 1168.1L844.5 1184.5Z" fill="#00ff00"/>
<text transform="translate(892.4 1184.3) scale(1.050 1.070)" font-family="'Liberation Sans', sans-serif" font-size="32" font-weight="normal" text-anchor="start">H<tspan font-size="23.4" dy="7.5">4</tspan></text>
<path d="M844.5 1230.7L853.2 1239.4L844.5 1248.1L835.8 1239.4Z" fill="#529ff7"/>
<text transform="translate(892.4 1247.4) scale(1.050 1.070)" font-family="'Liberation Sans', sans-serif" font-size="32" font-weight="normal" text-anchor="start">H<tspan font-size="23.4" dy="7.5">5</tspan></text>
<circle cx="844.5" cy="1302.5" r="8.4" fill="#0000ff" stroke="#9b9ba1" stroke-width="3.9"/>
<text transform="translate(892.4 1310.5) scale(1.050 1.070)" font-family="'Liberation Sans', sans-serif" font-size="32" font-weight="normal" text-anchor="start">H<tspan font-size="23.4" dy="7.5">6</tspan></text>
<rect x="836.1" y="1357.2" width="16.9" height="16.9" fill="#f54fd2" stroke="#666666" stroke-width="4.1"/>
<text transform="translate(892.4 1373.6) scale(1.050 1.070)" font-family="'Liberation Sans', sans-serif" font-size="32" font-weight="normal" text-anchor="start">H<tspan font-size="23.4" dy="7.5">7</tspan></text>
<path d="M833.6 1439.2L855.4 1439.2L844.5 1418.2Z" fill="#e8e8e8"/><path d="M839.1 1435.6L849.9 1435.6L844.5 1425.9Z" fill="#d0106c"/>
<text transform="translate(892.4 1436.7) scale(1.050 1.070)" font-family="'Liberation Sans', sans-serif" font-size="32" font-weight="normal" text-anchor="start">H<tspan font-size="23.4" dy="7.5">8</tspan></text>
<path d="M833.6 1481.3L855.4 1481.3L844.5 1502.3Z" fill="#9b9ba1"/><path d="M839.1 1484.9L849.9 1484.9L844.5 1494.6Z" fill="#000000"/>
<text transform="translate(892.4 1499.8) scale(1.050 1.070)" font-family="'Liberation Sans', sans-serif" font-size="32" font-weight="normal" text-anchor="start">H<tspan font-size="23.4" dy="7.5">9</tspan></text>
</g>
<g id="panel-d">
<text transform="translate(1155.1 1147) rotate(-90) scale(1.000 1.073)" font-family="'Liberation Sans', sans-serif" font-size="34.4" font-weight="bold" text-anchor="middle">mNSS</text>
<path d="M1246.8 1353.9V1120.7H1291.8V1353.9" fill="none" stroke="#000000" stroke-width="5.4"/>
<path d="M1313.9 1353.9V1136.7H1358.7V1353.9" fill="none" stroke="#9e9ea3" stroke-width="5.4"/>
<path d="M1380.6 1353.9V1140.7H1425.6V1353.9" fill="none" stroke="#808080" stroke-width="5.4"/>
<path d="M1447.9 1353.9V1132.8H1493V1353.9" fill="none" stroke="#d0d0d0" stroke-width="5.4"/>
<path d="M1514.6 1353.9V1121H1559.8V1353.9" fill="none" stroke="#666666" stroke-width="5.4"/>
<path d="M1581.6 1353.9V1053.3H1626.9V1353.9" fill="none" stroke="#9e9ea3" stroke-width="5.4"/>
<path d="M1648.9 1353.9V1080.8H1694V1353.9" fill="none" stroke="#666666" stroke-width="5.4"/>
<path d="M1715.8 1353.9V1077.1H1760.7V1353.9" fill="none" stroke="#e8e8e8" stroke-width="5.4"/>
<path d="M1782.7 1353.9V1145H1827.8V1353.9" fill="none" stroke="#9e9ea3" stroke-width="5.4"/>
<path d="M1224.1 935.4V1355.7" stroke="#000" stroke-width="4.2" fill="none"/>
<path d="M1212.6 1355.7H1855" stroke="#000" stroke-width="4.2" fill="none"/>
<path d="M1212.6 937.5H1224.1" stroke="#000" stroke-width="4.2" fill="none"/>
<text transform="translate(1207.6 947.9) scale(1.000 1.060)" font-family="'Liberation Sans', sans-serif" font-size="30.8" font-weight="bold" text-anchor="end">15</text>
<path d="M1212.6 1076.9H1224.1" stroke="#000" stroke-width="4.2" fill="none"/>
<text transform="translate(1207.6 1087.3) scale(1.000 1.060)" font-family="'Liberation Sans', sans-serif" font-size="30.8" font-weight="bold" text-anchor="end">10</text>
<path d="M1212.6 1216.3H1224.1" stroke="#000" stroke-width="4.2" fill="none"/>
<text transform="translate(1207.6 1226.7) scale(1.000 1.060)" font-family="'Liberation Sans', sans-serif" font-size="30.8" font-weight="bold" text-anchor="end">5</text>
<text transform="translate(1207.6 1366.1) scale(1.000 1.060)" font-family="'Liberation Sans', sans-serif" font-size="30.8" font-weight="bold" text-anchor="end">0</text>
<path d="M1268.9 1355.7V1366.7" stroke="#000" stroke-width="3.8" fill="none"/>
<text transform="translate(1268.9 1400.5) scale(1.000 1.075)" font-family="'Liberation Sans', sans-serif" font-size="29.6" font-weight="bold" text-anchor="middle">H<tspan font-weight="normal" font-size="22.5">1</tspan></text>
<path d="M1335.9 1355.7V1366.7" stroke="#000" stroke-width="3.8" fill="none"/>
<text transform="translate(1335.9 1400.5) scale(1.000 1.075)" font-family="'Liberation Sans', sans-serif" font-size="29.6" font-weight="bold" text-anchor="middle">H<tspan font-weight="normal" font-size="22.5">2</tspan></text>
<path d="M1403 1355.7V1366.7" stroke="#000" stroke-width="3.8" fill="none"/>
<text transform="translate(1403 1400.5) scale(1.000 1.075)" font-family="'Liberation Sans', sans-serif" font-size="29.6" font-weight="bold" text-anchor="middle">H<tspan font-weight="normal" font-size="22.5">3</tspan></text>
<path d="M1470 1355.7V1366.7" stroke="#000" stroke-width="3.8" fill="none"/>
<text transform="translate(1470 1400.5) scale(1.000 1.075)" font-family="'Liberation Sans', sans-serif" font-size="29.6" font-weight="bold" text-anchor="middle">H<tspan font-weight="normal" font-size="22.5">4</tspan></text>
<path d="M1537 1355.7V1366.7" stroke="#000" stroke-width="3.8" fill="none"/>
<text transform="translate(1537 1400.5) scale(1.000 1.075)" font-family="'Liberation Sans', sans-serif" font-size="29.6" font-weight="bold" text-anchor="middle">H<tspan font-weight="normal" font-size="22.5">5</tspan></text>
<path d="M1604.1 1355.7V1366.7" stroke="#000" stroke-width="3.8" fill="none"/>
<text transform="translate(1604.1 1400.5) scale(1.000 1.075)" font-family="'Liberation Sans', sans-serif" font-size="29.6" font-weight="bold" text-anchor="middle">H<tspan font-weight="normal" font-size="22.5">6</tspan></text>
<path d="M1671.1 1355.7V1366.7" stroke="#000" stroke-width="3.8" fill="none"/>
<text transform="translate(1671.1 1400.5) scale(1.000 1.075)" font-family="'Liberation Sans', sans-serif" font-size="29.6" font-weight="bold" text-anchor="middle">H<tspan font-weight="normal" font-size="22.5">7</tspan></text>
<path d="M1738.1 1355.7V1366.7" stroke="#000" stroke-width="3.8" fill="none"/>
<text transform="translate(1738.1 1400.5) scale(1.000 1.075)" font-family="'Liberation Sans', sans-serif" font-size="29.6" font-weight="bold" text-anchor="middle">H<tspan font-weight="normal" font-size="22.5">8</tspan></text>
<path d="M1805.1 1355.7V1366.7" stroke="#000" stroke-width="3.8" fill="none"/>
<text transform="translate(1805.1 1400.5) scale(1.000 1.075)" font-family="'Liberation Sans', sans-serif" font-size="29.6" font-weight="bold" text-anchor="middle">H<tspan font-weight="normal" font-size="22.5">9</tspan></text>
<path d="M1268.9 1081.8V1161M1258.2 1081.8H1279.7M1258.2 1161H1279.7" stroke="#000" stroke-width="3.6" fill="none"/>
<circle cx="1268.9" cy="1049" r="8.5" fill="#ff0000"/>
<circle cx="1257.6" cy="1104.8" r="8.5" fill="#ff0000"/>
<circle cx="1280.2" cy="1104.8" r="8.5" fill="#ff0000"/>
<circle cx="1257.6" cy="1132.7" r="8.5" fill="#ff0000"/>
<circle cx="1280.2" cy="1132.7" r="8.5" fill="#ff0000"/>
<circle cx="1257.6" cy="1160.5" r="8.5" fill="#ff0000"/>
<circle cx="1280.2" cy="1160.5" r="8.5" fill="#ff0000"/>
<path d="M1335.9 1099V1174.9M1325.2 1099H1346.7M1325.2 1174.9H1346.7" stroke="#000" stroke-width="3.6" fill="none"/>
<rect x="1327.3" y="1068.2" width="17.3" height="17.3" fill="#ff6600"/>
<rect x="1327.3" y="1096.1" width="17.3" height="17.3" fill="#ff6600"/>
<rect x="1316" y="1124" width="17.3" height="17.3" fill="#ff6600"/>
<rect x="1338.6" y="1124" width="17.3" height="17.3" fill="#ff6600"/>
<rect x="1316" y="1151.9" width="17.3" height="17.3" fill="#ff6600"/>
<rect x="1338.6" y="1151.9" width="17.3" height="17.3" fill="#ff6600"/>
<rect x="1327.3" y="1179.8" width="17.3" height="17.3" fill="#ff6600"/>
<path d="M1403 1099V1182.9M1392.2 1099H1413.7M1392.2 1182.9H1413.7" stroke="#000" stroke-width="3.6" fill="none"/>
<path d="M1394.3 1085.9L1411.6 1085.9L1403 1069.5Z" fill="#ffff00"/>
<path d="M1394.3 1113.8L1411.6 1113.8L1403 1097.3Z" fill="#ffff00"/>
<path d="M1383 1141.7L1400.3 1141.7L1391.7 1125.2Z" fill="#ffff00"/>
<path d="M1405.6 1141.7L1422.9 1141.7L1414.3 1125.2Z" fill="#ffff00"/>
<path d="M1394.3 1169.6L1411.6 1169.6L1403 1153.1Z" fill="#ffff00"/>
<path d="M1383 1197.5L1400.3 1197.5L1391.7 1181Z" fill="#ffff00"/>
<path d="M1405.6 1197.5L1422.9 1197.5L1414.3 1181Z" fill="#ffff00"/>
<path d="M1470 1093.5V1172.4M1459.2 1093.5H1480.7M1459.2 1172.4H1480.7" stroke="#000" stroke-width="3.6" fill="none"/>
<path d="M1461.3 1068.7L1478.6 1068.7L1470 1085.1Z" fill="#00ff00"/>
<path d="M1450 1096.5L1467.3 1096.5L1458.7 1113Z" fill="#00ff00"/>
<path d="M1472.6 1096.5L1489.9 1096.5L1481.3 1113Z" fill="#00ff00"/>
<path d="M1461.3 1124.4L1478.6 1124.4L1470 1140.9Z" fill="#00ff00"/>
<path d="M1450 1152.3L1467.3 1152.3L1458.7 1168.8Z" fill="#00ff00"/>
<path d="M1472.6 1152.3L1489.9 1152.3L1481.3 1168.8Z" fill="#00ff00"/>
<path d="M1461.3 1180.2L1478.6 1180.2L1470 1196.7Z" fill="#00ff00"/>
<path d="M1537 1076.4V1167.6M1526.3 1076.4H1547.8M1526.3 1167.6H1547.8" stroke="#000" stroke-width="3.6" fill="none"/>
<path d="M1537 1040.4L1545.7 1049L1537 1057.7L1528.4 1049Z" fill="#529ff7"/>
<path d="M1537 1068.2L1545.7 1076.9L1537 1085.6L1528.4 1076.9Z" fill="#529ff7"/>
<path d="M1537 1096.1L1545.7 1104.8L1537 1113.4L1528.4 1104.8Z" fill="#529ff7"/>
<path d="M1537 1124L1545.7 1132.7L1537 1141.3L1528.4 1132.7Z" fill="#529ff7"/>
<path d="M1525.7 1151.9L1534.4 1160.5L1525.7 1169.2L1517.1 1160.5Z" fill="#529ff7"/>
<path d="M1537 1151.9L1545.7 1160.5L1537 1169.2L1528.4 1160.5Z" fill="#529ff7"/>
<path d="M1548.3 1151.9L1557 1160.5L1548.3 1169.2L1539.7 1160.5Z" fill="#529ff7"/>
<path d="M1604.1 994.2V1112.8M1593.3 994.2H1614.8M1593.3 1112.8H1614.8" stroke="#000" stroke-width="3.6" fill="none"/>
<circle cx="1604.1" cy="965.4" r="8.4" fill="#0000ff" stroke="#9b9ba1" stroke-width="3.9"/>
<circle cx="1604.1" cy="993.3" r="8.4" fill="#0000ff" stroke="#9b9ba1" stroke-width="3.9"/>
<circle cx="1592.8" cy="1049" r="8.4" fill="#0000ff" stroke="#9b9ba1" stroke-width="3.9"/>
<circle cx="1615.4" cy="1049" r="8.4" fill="#0000ff" stroke="#9b9ba1" stroke-width="3.9"/>
<circle cx="1604.1" cy="1076.9" r="8.4" fill="#0000ff" stroke="#9b9ba1" stroke-width="3.9"/>
<circle cx="1604.1" cy="1104.8" r="8.4" fill="#0000ff" stroke="#9b9ba1" stroke-width="3.9"/>
<circle cx="1604.1" cy="1132.7" r="8.4" fill="#0000ff" stroke="#9b9ba1" stroke-width="3.9"/>
<path d="M1671.1 1029.5V1133.1M1660.3 1029.5H1681.8M1660.3 1133.1H1681.8" stroke="#000" stroke-width="3.6" fill="none"/>
<rect x="1662.6" y="984.8" width="16.9" height="16.9" fill="#f54fd2" stroke="#666666" stroke-width="4.1"/>
<rect x="1662.6" y="1040.6" width="16.9" height="16.9" fill="#f54fd2" stroke="#666666" stroke-width="4.1"/>
<rect x="1651.3" y="1068.5" width="16.9" height="16.9" fill="#f54fd2" stroke="#666666" stroke-width="4.1"/>
<rect x="1673.9" y="1068.5" width="16.9" height="16.9" fill="#f54fd2" stroke="#666666" stroke-width="4.1"/>
<rect x="1651.3" y="1096.3" width="16.9" height="16.9" fill="#f54fd2" stroke="#666666" stroke-width="4.1"/>
<rect x="1673.9" y="1096.3" width="16.9" height="16.9" fill="#f54fd2" stroke="#666666" stroke-width="4.1"/>
<rect x="1662.6" y="1152.1" width="16.9" height="16.9" fill="#f54fd2" stroke="#666666" stroke-width="4.1"/>
<path d="M1738.1 1032.1V1122.9M1727.4 1032.1H1748.9M1727.4 1122.9H1748.9" stroke="#000" stroke-width="3.6" fill="none"/>
<path d="M1727.2 1030.9L1749 1030.9L1738.1 1009.9Z" fill="#e8e8e8"/><path d="M1732.8 1027.3L1743.5 1027.3L1738.1 1017.7Z" fill="#d0106c"/>
<path d="M1715.9 1058.8L1737.7 1058.8L1726.8 1037.8Z" fill="#e8e8e8"/><path d="M1721.5 1055.2L1732.2 1055.2L1726.8 1045.5Z" fill="#d0106c"/>
<path d="M1738.5 1058.8L1760.3 1058.8L1749.4 1037.8Z" fill="#e8e8e8"/><path d="M1744.1 1055.2L1754.8 1055.2L1749.4 1045.5Z" fill="#d0106c"/>
<path d="M1715.9 1086.7L1737.7 1086.7L1726.8 1065.7Z" fill="#e8e8e8"/><path d="M1721.5 1083.1L1732.2 1083.1L1726.8 1073.4Z" fill="#d0106c"/>
<path d="M1738.5 1086.7L1760.3 1086.7L1749.4 1065.7Z" fill="#e8e8e8"/><path d="M1744.1 1083.1L1754.8 1083.1L1749.4 1073.4Z" fill="#d0106c"/>
<path d="M1727.2 1114.6L1749 1114.6L1738.1 1093.6Z" fill="#e8e8e8"/><path d="M1732.8 1111L1743.5 1111L1738.1 1101.3Z" fill="#d0106c"/>
<path d="M1727.2 1170.3L1749 1170.3L1738.1 1149.3Z" fill="#e8e8e8"/><path d="M1732.8 1166.7L1743.5 1166.7L1738.1 1157.1Z" fill="#d0106c"/>
<path d="M1805.1 1096.5V1193M1794.4 1096.5H1815.9M1794.4 1193H1815.9" stroke="#000" stroke-width="3.6" fill="none"/>
<path d="M1794.2 1068.4L1816.1 1068.4L1805.1 1089.4Z" fill="#9b9ba1"/><path d="M1799.8 1072L1810.5 1072L1805.1 1081.7Z" fill="#000000"/>
<path d="M1794.2 1096.3L1816.1 1096.3L1805.1 1117.3Z" fill="#9b9ba1"/><path d="M1799.8 1099.9L1810.5 1099.9L1805.1 1109.6Z" fill="#000000"/>
<path d="M1782.9 1124.2L1804.8 1124.2L1793.8 1145.2Z" fill="#9b9ba1"/><path d="M1788.5 1127.8L1799.2 1127.8L1793.8 1137.4Z" fill="#000000"/>
<path d="M1805.5 1124.2L1827.4 1124.2L1816.4 1145.2Z" fill="#9b9ba1"/><path d="M1811.1 1127.8L1821.8 1127.8L1816.4 1137.4Z" fill="#000000"/>
<path d="M1794.2 1152L1816.1 1152L1805.1 1173Z" fill="#9b9ba1"/><path d="M1799.8 1155.6L1810.5 1155.6L1805.1 1165.3Z" fill="#000000"/>
<path d="M1794.2 1179.9L1816.1 1179.9L1805.1 1200.9Z" fill="#9b9ba1"/><path d="M1799.8 1183.5L1810.5 1183.5L1805.1 1193.2Z" fill="#000000"/>
<path d="M1794.2 1207.8L1816.1 1207.8L1805.1 1228.8Z" fill="#9b9ba1"/><path d="M1799.8 1211.4L1810.5 1211.4L1805.1 1221.1Z" fill="#000000"/>
<text transform="translate(1264.5 1044.5)" font-family="'Liberation Serif', serif" font-size="27.4" font-weight="bold" text-anchor="middle">NS</text>
<text transform="translate(1335.1 1048.6)" font-family="'Liberation Serif', serif" font-size="27.4" font-weight="bold" text-anchor="middle">NS</text>
<text transform="translate(1404.3 1054)" font-family="'Liberation Serif', serif" font-size="27.4" font-weight="bold" text-anchor="middle">NS</text>
<text transform="translate(1465.2 1050.1)" font-family="'Liberation Serif', serif" font-size="27.4" font-weight="bold" text-anchor="middle">NS</text>
<text transform="translate(1541.9 1038.7)" font-family="'Liberation Serif', serif" font-size="27.4" font-weight="bold" text-anchor="middle">NS</text>
<text transform="translate(1802.5 1035.8)" font-family="'Liberation Sans', sans-serif" font-size="45" font-weight="bold" text-anchor="middle">*</text>
<circle cx="1920" cy="968.5" r="8.5" fill="#ff0000"/>
<text transform="translate(1967.4 976.5) scale(1.050 1.070)" font-family="'Liberation Sans', sans-serif" font-size="32" font-weight="normal" text-anchor="start">H<tspan font-size="23.4" dy="7.5">1</tspan></text>
<rect x="1911.3" y="1022.7" width="17.3" height="17.3" fill="#ff6600"/>
<text transform="translate(1967.4 1039.3) scale(1.050 1.070)" font-family="'Liberation Sans', sans-serif" font-size="32" font-weight="normal" text-anchor="start">H<tspan font-size="23.4" dy="7.5">2</tspan></text>
<path d="M1911.3 1102.4L1928.7 1102.4L1920 1086Z" fill="#ffff00"/>
<text transform="translate(1967.4 1102.2) scale(1.050 1.070)" font-family="'Liberation Sans', sans-serif" font-size="32" font-weight="normal" text-anchor="start">H<tspan font-size="23.4" dy="7.5">3</tspan></text>
<path d="M1911.3 1148.8L1928.7 1148.8L1920 1165.3Z" fill="#00ff00"/>
<text transform="translate(1967.4 1165) scale(1.050 1.070)" font-family="'Liberation Sans', sans-serif" font-size="32" font-weight="normal" text-anchor="start">H<tspan font-size="23.4" dy="7.5">4</tspan></text>
<path d="M1920 1211.2L1928.7 1219.9L1920 1228.6L1911.3 1219.9Z" fill="#529ff7"/>
<text transform="translate(1967.4 1227.9) scale(1.050 1.070)" font-family="'Liberation Sans', sans-serif" font-size="32" font-weight="normal" text-anchor="start">H<tspan font-size="23.4" dy="7.5">5</tspan></text>
<circle cx="1920" cy="1282.8" r="8.4" fill="#0000ff" stroke="#9b9ba1" stroke-width="3.9"/>
<text transform="translate(1967.4 1290.8) scale(1.050 1.070)" font-family="'Liberation Sans', sans-serif" font-size="32" font-weight="normal" text-anchor="start">H<tspan font-size="23.4" dy="7.5">6</tspan></text>
<rect x="1911.6" y="1337.2" width="16.9" height="16.9" fill="#f54fd2" stroke="#666666" stroke-width="4.1"/>
<text transform="translate(1967.4 1353.6) scale(1.050 1.070)" font-family="'Liberation Sans', sans-serif" font-size="32" font-weight="normal" text-anchor="start">H<tspan font-size="23.4" dy="7.5">7</tspan></text>
<path d="M1909.1 1419L1930.9 1419L1920 1397.9Z" fill="#e8e8e8"/><path d="M1914.6 1415.4L1925.4 1415.4L1920 1405.7Z" fill="#d0106c"/>
<text transform="translate(1967.4 1416.5) scale(1.050 1.070)" font-family="'Liberation Sans', sans-serif" font-size="32" font-weight="normal" text-anchor="start">H<tspan font-size="23.4" dy="7.5">8</tspan></text>
<path d="M1909.1 1460.8L1930.9 1460.8L1920 1481.8Z" fill="#9b9ba1"/><path d="M1914.6 1464.4L1925.4 1464.4L1920 1474.1Z" fill="#000000"/>
<text transform="translate(1967.4 1479.3) scale(1.050 1.070)" font-family="'Liberation Sans', sans-serif" font-size="32" font-weight="normal" text-anchor="start">H<tspan font-size="23.4" dy="7.5">9</tspan></text>
</g>
</svg>
</body></html>
